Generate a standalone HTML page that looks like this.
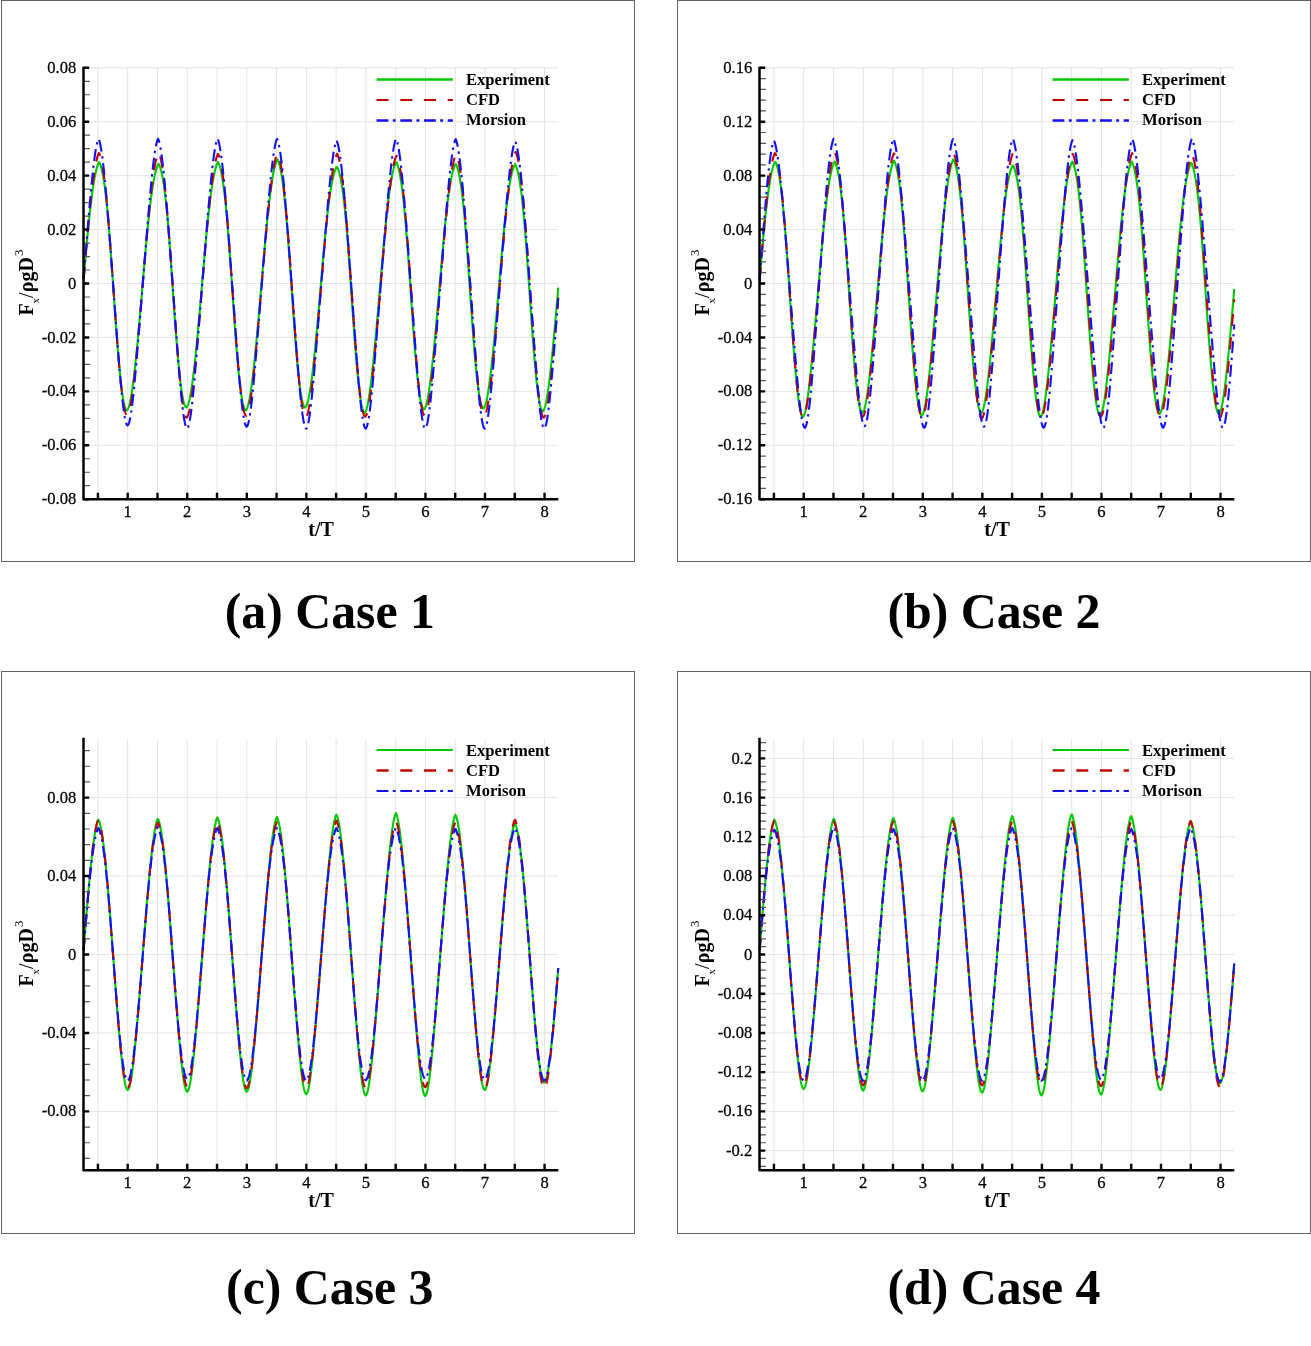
<!DOCTYPE html><html><head><meta charset="utf-8"><style>html,body{margin:0;padding:0;background:#fff;overflow:hidden;width:1311px;height:1346px}svg{display:block;will-change:transform}</style></head><body>
<svg width="1311" height="1346" viewBox="0 0 1311 1346">
<rect x="0" y="0" width="1311" height="1346" fill="#fff"/>
<g font-family="&quot;Liberation Serif&quot;, &quot;Times New Roman&quot;, serif">
<g><rect x="1.5" y="0.5" width="633" height="561" fill="none" stroke="#646464" stroke-width="1"/><path d="M97.93 67.8V499.2 M127.7 67.8V499.2 M157.47 67.8V499.2 M187.25 67.8V499.2 M217.02 67.8V499.2 M246.8 67.8V499.2 M276.57 67.8V499.2 M306.35 67.8V499.2 M336.12 67.8V499.2 M365.9 67.8V499.2 M395.67 67.8V499.2 M425.45 67.8V499.2 M455.22 67.8V499.2 M485 67.8V499.2 M514.77 67.8V499.2 M544.55 67.8V499.2 M83.5 445.27H558.3 M83.5 391.35H558.3 M83.5 337.43H558.3 M83.5 283.5H558.3 M83.5 229.57H558.3 M83.5 175.65H558.3 M83.5 121.73H558.3 M83.5 67.8H558.3" stroke="#e4e4e4" stroke-width="1" fill="none"/><path d="M83.63 279.33 L84.11 273.79 L84.58 268.27 L85.06 262.79 L85.53 257.37 L86.01 252.01 L86.48 246.72 L86.96 241.53 L87.43 236.44 L87.90 231.47 L88.38 226.62 L88.85 221.90 L89.33 217.32 L89.80 212.90 L90.28 208.63 L90.75 204.53 L91.23 200.60 L91.70 196.84 L92.18 193.26 L92.65 189.87 L93.13 186.65 L93.60 183.62 L94.07 180.78 L94.55 178.12 L95.02 175.64 L95.50 173.35 L95.97 171.25 L96.45 169.32 L96.92 167.58 L97.40 166.03 L97.87 164.65 L98.35 163.47 L98.82 162.46 L99.30 162.18 L99.77 163.13 L100.24 164.28 L100.72 165.65 L101.19 167.22 L101.67 169.01 L102.14 171.03 L102.62 173.28 L103.09 175.77 L103.57 178.51 L104.04 181.49 L104.52 184.74 L104.99 188.26 L105.47 192.04 L105.94 196.10 L106.41 200.44 L106.89 205.04 L107.36 209.92 L107.84 215.06 L108.31 220.45 L108.79 226.10 L109.26 231.97 L109.74 238.05 L110.21 244.32 L110.69 250.77 L111.16 257.35 L111.64 264.06 L112.11 270.85 L112.58 277.70 L113.06 284.58 L113.53 291.46 L114.01 298.31 L114.48 305.11 L114.96 311.85 L115.43 318.50 L115.91 325.04 L116.38 331.45 L116.86 337.72 L117.33 343.81 L117.81 349.73 L118.28 355.44 L118.75 360.93 L119.23 366.19 L119.70 371.20 L120.18 375.95 L120.65 380.42 L121.13 384.61 L121.60 388.51 L122.08 392.10 L122.55 395.38 L123.03 398.35 L123.50 400.99 L123.98 403.32 L124.45 405.31 L124.92 406.98 L125.40 408.32 L125.87 409.33 L126.35 410.02 L126.82 410.40 L127.30 410.05 L127.77 409.39 L128.25 408.43 L128.72 407.17 L129.20 405.62 L129.67 403.80 L130.15 401.71 L130.62 399.35 L131.09 396.75 L131.57 393.90 L132.04 390.83 L132.52 387.53 L132.99 384.02 L133.47 380.32 L133.94 376.42 L134.42 372.35 L134.89 368.12 L135.37 363.72 L135.84 359.18 L136.32 354.51 L136.79 349.71 L137.26 344.80 L137.74 339.78 L138.21 334.66 L138.69 329.47 L139.16 324.19 L139.64 318.85 L140.11 313.45 L140.59 308.01 L141.06 302.52 L141.54 297.01 L142.01 291.47 L142.49 285.92 L142.96 280.37 L143.43 274.83 L143.91 269.31 L144.38 263.83 L144.86 258.40 L145.33 253.03 L145.81 247.75 L146.28 242.56 L146.76 237.48 L147.23 232.52 L147.71 227.68 L148.18 222.99 L148.66 218.44 L149.13 214.04 L149.60 209.82 L150.08 205.76 L150.55 201.87 L151.03 198.17 L151.50 194.65 L151.98 191.31 L152.45 188.15 L152.93 185.18 L153.40 182.40 L153.88 179.80 L154.35 177.38 L154.83 175.15 L155.30 173.09 L155.77 171.21 L156.25 169.50 L156.72 167.97 L157.20 166.62 L157.67 165.43 L158.15 164.42 L158.62 163.82 L159.10 164.71 L159.57 165.80 L160.05 167.08 L160.52 168.55 L161.00 170.24 L161.47 172.14 L161.94 174.26 L162.42 176.60 L162.89 179.19 L163.37 182.03 L163.84 185.12 L164.32 188.48 L164.79 192.10 L165.27 196.01 L165.74 200.19 L166.22 204.65 L166.69 209.38 L167.16 214.40 L167.64 219.67 L168.11 225.21 L168.59 230.98 L169.06 236.98 L169.54 243.19 L170.01 249.58 L170.49 256.13 L170.96 262.80 L171.44 269.57 L171.91 276.41 L172.39 283.29 L172.86 290.17 L173.33 297.02 L173.81 303.83 L174.28 310.56 L174.76 317.20 L175.23 323.73 L175.71 330.11 L176.18 336.34 L176.66 342.38 L177.13 348.23 L177.61 353.87 L178.08 359.27 L178.56 364.44 L179.03 369.34 L179.50 373.98 L179.98 378.34 L180.45 382.41 L180.93 386.19 L181.40 389.67 L181.88 392.85 L182.35 395.72 L182.83 398.28 L183.30 400.53 L183.78 402.47 L184.25 404.09 L184.73 405.42 L185.20 406.43 L185.67 407.14 L186.15 407.55 L186.62 407.35 L187.10 406.78 L187.57 405.92 L188.05 404.79 L188.52 403.38 L189.00 401.71 L189.47 399.79 L189.95 397.61 L190.42 395.19 L190.90 392.53 L191.37 389.65 L191.84 386.54 L192.32 383.23 L192.79 379.71 L193.27 376.00 L193.74 372.10 L194.22 368.03 L194.69 363.80 L195.17 359.40 L195.64 354.86 L196.12 350.18 L196.59 345.38 L197.07 340.46 L197.54 335.43 L198.01 330.30 L198.49 325.08 L198.96 319.79 L199.44 314.43 L199.91 309.01 L200.39 303.55 L200.86 298.04 L201.34 292.51 L201.81 286.97 L202.29 281.41 L202.76 275.87 L203.24 270.34 L203.71 264.85 L204.18 259.40 L204.66 254.01 L205.13 248.70 L205.61 243.47 L206.08 238.34 L206.56 233.32 L207.03 228.42 L207.51 223.65 L207.98 219.02 L208.46 214.54 L208.93 210.22 L209.41 206.05 L209.88 202.06 L210.35 198.23 L210.83 194.59 L211.30 191.12 L211.78 187.84 L212.25 184.74 L212.73 181.82 L213.20 179.09 L213.68 176.55 L214.15 174.19 L214.63 172.01 L215.10 170.02 L215.58 168.22 L216.05 166.59 L216.52 165.15 L217.00 163.89 L217.47 162.82 L217.95 161.93 L218.42 162.75 L218.90 163.83 L219.37 165.11 L219.85 166.60 L220.32 168.31 L220.80 170.25 L221.27 172.41 L221.75 174.81 L222.22 177.45 L222.69 180.34 L223.17 183.49 L223.64 186.91 L224.12 190.59 L224.59 194.55 L225.07 198.78 L225.54 203.28 L226.02 208.06 L226.49 213.10 L226.97 218.40 L227.44 223.95 L227.92 229.73 L228.39 235.74 L228.86 241.94 L229.34 248.33 L229.81 254.86 L230.29 261.53 L230.76 268.29 L231.24 275.13 L231.71 282.00 L232.19 288.88 L232.66 295.74 L233.14 302.56 L233.61 309.33 L234.09 316.01 L234.56 322.60 L235.03 329.06 L235.51 335.38 L235.98 341.54 L236.46 347.53 L236.93 353.32 L237.41 358.89 L237.88 364.24 L238.36 369.34 L238.83 374.19 L239.31 378.77 L239.78 383.07 L240.26 387.08 L240.73 390.79 L241.20 394.19 L241.68 397.27 L242.15 400.04 L242.63 402.48 L243.10 404.60 L243.58 406.39 L244.05 407.85 L244.53 408.99 L245.00 409.80 L245.48 410.29 L245.95 410.22 L246.43 409.67 L246.90 408.82 L247.37 407.68 L247.85 406.24 L248.32 404.52 L248.80 402.52 L249.27 400.27 L249.75 397.76 L250.22 395.00 L250.70 392.01 L251.17 388.79 L251.65 385.36 L252.12 381.73 L252.60 377.91 L253.07 373.90 L253.54 369.73 L254.02 365.39 L254.49 360.90 L254.97 356.28 L255.44 351.53 L255.92 346.65 L256.39 341.67 L256.87 336.60 L257.34 331.43 L257.82 326.18 L258.29 320.86 L258.77 315.49 L259.24 310.06 L259.71 304.59 L260.19 299.08 L260.66 293.55 L261.14 288.01 L261.61 282.46 L262.09 276.91 L262.56 271.37 L263.04 265.87 L263.51 260.40 L263.99 254.99 L264.46 249.64 L264.94 244.36 L265.41 239.18 L265.88 234.09 L266.36 229.11 L266.83 224.25 L267.31 219.51 L267.78 214.92 L268.26 210.46 L268.73 206.16 L269.21 202.02 L269.68 198.04 L270.16 194.23 L270.63 190.59 L271.11 187.13 L271.58 183.85 L272.05 180.76 L272.53 177.85 L273.00 175.13 L273.48 172.60 L273.95 170.26 L274.43 168.12 L274.90 166.17 L275.38 164.41 L275.85 162.85 L276.33 161.50 L276.80 160.34 L277.28 159.39 L277.75 159.89 L278.22 160.97 L278.70 162.27 L279.17 163.81 L279.65 165.57 L280.12 167.57 L280.60 169.81 L281.07 172.30 L281.55 175.05 L282.02 178.05 L282.50 181.31 L282.97 184.83 L283.45 188.63 L283.92 192.69 L284.39 197.03 L284.87 201.62 L285.34 206.49 L285.82 211.60 L286.29 216.97 L286.77 222.57 L287.24 228.40 L287.72 234.43 L288.19 240.66 L288.67 247.05 L289.14 253.59 L289.62 260.25 L290.09 267.01 L290.56 273.84 L291.04 280.71 L291.51 287.59 L291.99 294.45 L292.46 301.28 L292.94 308.04 L293.41 314.72 L293.89 321.29 L294.36 327.73 L294.84 334.02 L295.31 340.13 L295.79 346.06 L296.26 351.78 L296.73 357.27 L297.21 362.53 L297.68 367.53 L298.16 372.27 L298.63 376.73 L299.11 380.92 L299.58 384.81 L300.06 388.40 L300.53 391.69 L301.01 394.68 L301.48 397.35 L301.96 399.72 L302.43 401.77 L302.90 403.52 L303.38 404.96 L303.85 406.08 L304.33 406.91 L304.80 407.43 L305.28 407.49 L305.75 407.03 L306.23 406.28 L306.70 405.25 L307.18 403.94 L307.65 402.37 L308.13 400.54 L308.60 398.46 L309.07 396.12 L309.55 393.56 L310.02 390.75 L310.50 387.73 L310.97 384.50 L311.45 381.05 L311.92 377.41 L312.40 373.59 L312.87 369.58 L313.35 365.41 L313.82 361.07 L314.30 356.58 L314.77 351.96 L315.24 347.20 L315.72 342.32 L316.19 337.33 L316.67 332.24 L317.14 327.05 L317.62 321.79 L318.09 316.45 L318.57 311.05 L319.04 305.60 L319.52 300.11 L319.99 294.59 L320.47 289.05 L320.94 283.50 L321.41 277.95 L321.89 272.42 L322.36 266.92 L322.84 261.46 L323.31 256.07 L323.79 250.77 L324.26 245.55 L324.74 240.45 L325.21 235.46 L325.69 230.61 L326.16 225.90 L326.64 221.35 L327.11 216.95 L327.58 212.73 L328.06 208.69 L328.53 204.82 L329.01 201.14 L329.48 197.65 L329.96 194.35 L330.43 191.24 L330.91 188.31 L331.38 185.58 L331.86 183.02 L332.33 180.65 L332.81 178.45 L333.28 176.43 L333.75 174.57 L334.23 172.89 L334.70 171.36 L335.18 169.99 L335.65 168.78 L336.13 167.73 L336.60 166.83 L337.08 166.97 L337.55 167.91 L338.03 169.02 L338.50 170.31 L338.98 171.78 L339.45 173.45 L339.92 175.31 L340.40 177.39 L340.87 179.69 L341.35 182.23 L341.82 185.01 L342.30 188.05 L342.77 191.35 L343.25 194.93 L343.72 198.80 L344.20 202.95 L344.67 207.38 L345.15 212.11 L345.62 217.12 L346.09 222.40 L346.57 227.96 L347.04 233.76 L347.52 239.79 L347.99 246.04 L348.47 252.46 L348.94 259.05 L349.42 265.76 L349.89 272.56 L350.37 279.41 L350.84 286.29 L351.32 293.17 L351.79 300.01 L352.26 306.81 L352.74 313.55 L353.21 320.21 L353.69 326.76 L354.16 333.19 L354.64 339.49 L355.11 345.63 L355.59 351.60 L356.06 357.37 L356.54 362.93 L357.01 368.27 L357.48 373.37 L357.96 378.21 L358.43 382.78 L358.91 387.06 L359.38 391.05 L359.86 394.73 L360.33 398.09 L360.81 401.12 L361.28 403.82 L361.76 406.19 L362.23 408.21 L362.71 409.88 L363.18 411.21 L363.65 412.20 L364.13 412.84 L364.60 413.04 L365.08 412.59 L365.55 411.82 L366.03 410.72 L366.50 409.32 L366.98 407.62 L367.45 405.62 L367.93 403.34 L368.40 400.80 L368.88 398.00 L369.35 394.95 L369.82 391.67 L370.30 388.18 L370.77 384.47 L371.25 380.57 L371.72 376.49 L372.20 372.25 L372.67 367.84 L373.15 363.29 L373.62 358.61 L374.10 353.80 L374.57 348.88 L375.05 343.86 L375.52 338.75 L375.99 333.55 L376.47 328.29 L376.94 322.95 L377.42 317.57 L377.89 312.14 L378.37 306.66 L378.84 301.16 L379.32 295.64 L379.79 290.09 L380.27 284.54 L380.74 278.99 L381.22 273.45 L381.69 267.94 L382.16 262.46 L382.64 257.04 L383.11 251.68 L383.59 246.40 L384.06 241.22 L384.54 236.14 L385.01 231.17 L385.49 226.32 L385.96 221.61 L386.44 217.05 L386.91 212.63 L387.39 208.38 L387.86 204.29 L388.33 200.37 L388.81 196.62 L389.28 193.05 L389.76 189.66 L390.23 186.46 L390.71 183.44 L391.18 180.61 L391.66 177.96 L392.13 175.50 L392.61 173.22 L393.08 171.12 L393.56 169.21 L394.03 167.48 L394.50 165.94 L394.98 164.58 L395.45 163.40 L395.93 162.41 L396.40 162.23 L396.88 163.19 L397.35 164.36 L397.83 165.74 L398.30 167.32 L398.78 169.13 L399.25 171.16 L399.73 173.43 L400.20 175.93 L400.67 178.68 L401.15 181.69 L401.62 184.95 L402.10 188.48 L402.57 192.28 L403.05 196.36 L403.52 200.71 L404.00 205.33 L404.47 210.22 L404.95 215.38 L405.42 220.79 L405.90 226.45 L406.37 232.33 L406.84 238.43 L407.32 244.71 L407.79 251.16 L408.27 257.76 L408.74 264.47 L409.22 271.27 L409.69 278.12 L410.17 285.00 L410.64 291.88 L411.12 298.72 L411.59 305.52 L412.07 312.25 L412.54 318.88 L413.01 325.40 L413.49 331.78 L413.96 338.01 L414.44 344.06 L414.91 349.93 L415.39 355.58 L415.86 361.02 L416.34 366.21 L416.81 371.15 L417.29 375.82 L417.76 380.22 L418.24 384.33 L418.71 388.15 L419.18 391.66 L419.66 394.86 L420.13 397.76 L420.61 400.33 L421.08 402.59 L421.56 404.52 L422.03 406.13 L422.51 407.43 L422.98 408.40 L423.46 409.06 L423.93 409.39 L424.41 409.03 L424.88 408.36 L425.35 407.40 L425.83 406.15 L426.30 404.62 L426.78 402.82 L427.25 400.75 L427.73 398.43 L428.20 395.85 L428.68 393.05 L429.15 390.01 L429.63 386.75 L430.10 383.29 L430.58 379.63 L431.05 375.77 L431.52 371.74 L432.00 367.54 L432.47 363.19 L432.95 358.68 L433.42 354.04 L433.90 349.27 L434.37 344.38 L434.85 339.38 L435.32 334.28 L435.80 329.10 L436.27 323.83 L436.75 318.50 L437.22 313.11 L437.69 307.67 L438.17 302.18 L438.64 296.67 L439.12 291.13 L439.59 285.59 L440.07 280.03 L440.54 274.49 L441.02 268.97 L441.49 263.49 L441.97 258.07 L442.44 252.71 L442.92 247.43 L443.39 242.25 L443.86 237.17 L444.34 232.22 L444.81 227.39 L445.29 222.70 L445.76 218.16 L446.24 213.78 L446.71 209.56 L447.19 205.52 L447.66 201.64 L448.14 197.95 L448.61 194.44 L449.09 191.11 L449.56 187.96 L450.03 185.01 L450.51 182.23 L450.98 179.65 L451.46 177.24 L451.93 175.02 L452.41 172.97 L452.88 171.10 L453.36 169.41 L453.83 167.89 L454.31 166.54 L454.78 165.37 L455.26 164.37 L455.73 163.87 L456.20 164.77 L456.68 165.87 L457.15 167.16 L457.63 168.65 L458.10 170.35 L458.58 172.26 L459.05 174.39 L459.53 176.76 L460.00 179.36 L460.48 182.21 L460.95 185.32 L461.43 188.69 L461.90 192.34 L462.37 196.25 L462.85 200.45 L463.32 204.93 L463.80 209.68 L464.27 214.71 L464.75 220.00 L465.22 225.55 L465.70 231.34 L466.17 237.36 L466.65 243.58 L467.12 249.98 L467.60 256.53 L468.07 263.21 L468.54 269.99 L469.02 276.83 L469.49 283.71 L469.97 290.59 L470.44 297.44 L470.92 304.25 L471.39 310.98 L471.87 317.62 L472.34 324.15 L472.82 330.54 L473.29 336.78 L473.77 342.84 L474.24 348.71 L474.71 354.37 L475.19 359.80 L475.66 365.00 L476.14 369.94 L476.61 374.61 L477.09 379.00 L477.56 383.12 L478.04 386.93 L478.51 390.45 L478.99 393.66 L479.46 396.56 L479.94 399.15 L480.41 401.42 L480.88 403.38 L481.36 405.02 L481.83 406.35 L482.31 407.36 L482.78 408.07 L483.26 408.47 L483.73 408.22 L484.21 407.62 L484.68 406.73 L485.16 405.56 L485.63 404.11 L486.11 402.39 L486.58 400.41 L487.05 398.17 L487.53 395.69 L488.00 392.98 L488.48 390.03 L488.95 386.86 L489.43 383.49 L489.90 379.91 L490.38 376.14 L490.85 372.19 L491.33 368.06 L491.80 363.77 L492.28 359.33 L492.75 354.75 L493.22 350.03 L493.70 345.19 L494.17 340.24 L494.65 335.18 L495.12 330.03 L495.60 324.79 L496.07 319.49 L496.55 314.11 L497.02 308.69 L497.50 303.21 L497.97 297.71 L498.45 292.17 L498.92 286.63 L499.39 281.08 L499.87 275.53 L500.34 270.01 L500.82 264.52 L501.29 259.08 L501.77 253.72 L502.24 248.43 L502.72 243.23 L503.19 238.14 L503.67 233.17 L504.14 228.33 L504.62 223.63 L505.09 219.08 L505.56 214.68 L506.04 210.45 L506.51 206.39 L506.99 202.51 L507.46 198.80 L507.94 195.28 L508.41 191.94 L508.89 188.79 L509.36 185.82 L509.84 183.04 L510.31 180.45 L510.79 178.03 L511.26 175.80 L511.73 173.74 L512.21 171.86 L512.68 170.16 L513.16 168.62 L513.63 167.26 L514.11 166.06 L514.58 165.04 L515.06 164.22 L515.53 165.08 L516.01 166.14 L516.48 167.38 L516.96 168.82 L517.43 170.45 L517.90 172.30 L518.38 174.37 L518.85 176.66 L519.33 179.19 L519.80 181.97 L520.28 185.00 L520.75 188.29 L521.23 191.85 L521.70 195.69 L522.18 199.81 L522.65 204.21 L523.13 208.88 L523.60 213.84 L524.07 219.06 L524.55 224.55 L525.02 230.28 L525.50 236.24 L525.97 242.41 L526.45 248.77 L526.92 255.29 L527.40 261.95 L527.87 268.71 L528.35 275.55 L528.82 282.42 L529.30 289.30 L529.77 296.16 L530.24 302.98 L530.72 309.75 L531.19 316.44 L531.67 323.02 L532.14 329.50 L532.62 335.83 L533.09 342.01 L533.57 348.01 L534.04 353.82 L534.52 359.43 L534.99 364.80 L535.47 369.94 L535.94 374.83 L536.41 379.44 L536.89 383.78 L537.36 387.82 L537.84 391.57 L538.31 395.00 L538.79 398.12 L539.26 400.91 L539.74 403.38 L540.21 405.52 L540.69 407.32 L541.16 408.79 L541.64 409.93 L542.11 410.73 L542.58 411.21 L543.06 411.09 L543.53 410.52 L544.01 409.63 L544.48 408.45 L544.96 406.96 L545.43 405.20 L545.91 403.15 L546.38 400.84 L546.86 398.26 L547.33 395.45 L547.81 392.39 L548.28 389.12 L548.75 385.63 L549.23 381.93 L549.70 378.05 L550.18 373.99 L550.65 369.76 L551.13 365.37 L551.60 360.84 L552.08 356.17 L552.55 351.38 L553.03 346.47 L553.50 341.46 L553.97 336.35 L554.45 331.16 L554.92 325.89 L555.40 320.56 L555.87 315.17 L556.35 309.73 L556.82 304.26 L557.30 298.75 L557.77 293.22 L558.25 287.67" stroke="#00c800" stroke-width="2.1" fill="none" stroke-linejoin="round"/><path d="M83.63 279.24 L84.11 273.59 L84.58 267.96 L85.06 262.35 L85.53 256.78 L86.01 251.27 L86.48 245.81 L86.96 240.42 L87.43 235.11 L87.90 229.88 L88.38 224.76 L88.85 219.74 L89.33 214.83 L89.80 210.06 L90.28 205.41 L90.75 200.91 L91.23 196.56 L91.70 192.36 L92.18 188.34 L92.65 184.48 L93.13 180.81 L93.60 177.32 L94.07 174.03 L94.55 170.93 L95.02 168.04 L95.50 165.37 L95.97 162.91 L96.45 160.68 L96.92 158.67 L97.40 156.89 L97.87 155.36 L98.35 154.06 L98.82 153.01 L99.30 153.30 L99.77 154.44 L100.24 155.84 L100.72 157.51 L101.19 159.44 L101.67 161.64 L102.14 164.11 L102.62 166.85 L103.09 169.86 L103.57 173.13 L104.04 176.68 L104.52 180.48 L104.99 184.54 L105.47 188.86 L105.94 193.42 L106.41 198.23 L106.89 203.26 L107.36 208.52 L107.84 213.99 L108.31 219.66 L108.79 225.52 L109.26 231.55 L109.74 237.73 L110.21 244.05 L110.69 250.49 L111.16 257.04 L111.64 263.66 L112.11 270.35 L112.58 277.08 L113.06 283.83 L113.53 290.58 L114.01 297.31 L114.48 304.01 L114.96 310.67 L115.43 317.27 L115.91 323.79 L116.38 330.21 L116.86 336.53 L117.33 342.72 L117.81 348.77 L118.28 354.65 L118.75 360.36 L119.23 365.88 L119.70 371.18 L120.18 376.26 L120.65 381.09 L121.13 385.65 L121.60 389.94 L122.08 393.94 L122.55 397.63 L123.03 401.00 L123.50 404.05 L123.98 406.76 L124.45 409.12 L124.92 411.14 L125.40 412.80 L125.87 414.10 L126.35 415.04 L126.82 415.63 L127.30 415.67 L127.77 415.13 L128.25 414.25 L128.72 413.03 L129.20 411.49 L129.67 409.63 L130.15 407.47 L130.62 405.01 L131.09 402.28 L131.57 399.28 L132.04 396.02 L132.52 392.53 L132.99 388.82 L133.47 384.89 L133.94 380.77 L134.42 376.47 L134.89 372.00 L135.37 367.38 L135.84 362.62 L136.32 357.73 L136.79 352.72 L137.26 347.61 L137.74 342.40 L138.21 337.11 L138.69 331.75 L139.16 326.32 L139.64 320.84 L140.11 315.31 L140.59 309.74 L141.06 304.13 L141.54 298.51 L142.01 292.86 L142.49 287.21 L142.96 281.55 L143.43 275.89 L143.91 270.25 L144.38 264.63 L144.86 259.04 L145.33 253.50 L145.81 248.01 L146.28 242.57 L146.76 237.22 L147.23 231.94 L147.71 226.75 L148.18 221.66 L148.66 216.69 L149.13 211.82 L149.60 207.09 L150.08 202.49 L150.55 198.04 L151.03 193.73 L151.50 189.59 L151.98 185.62 L152.45 181.82 L152.93 178.21 L153.40 174.79 L153.88 171.56 L154.35 168.55 L154.83 165.74 L155.30 163.15 L155.77 160.79 L156.25 158.65 L156.72 156.75 L157.20 155.09 L157.67 153.68 L158.15 152.51 L158.62 152.01 L159.10 153.06 L159.57 154.37 L160.05 155.95 L160.52 157.80 L161.00 159.93 L161.47 162.32 L161.94 165.00 L162.42 167.94 L162.89 171.16 L163.37 174.64 L163.84 178.39 L164.32 182.40 L164.79 186.67 L165.27 191.19 L165.74 195.94 L166.22 200.93 L166.69 206.15 L167.16 211.57 L167.64 217.20 L168.11 223.01 L168.59 229.00 L169.06 235.14 L169.54 241.43 L170.01 247.83 L170.49 254.35 L170.96 260.95 L171.44 267.62 L171.91 274.33 L172.39 281.08 L172.86 287.83 L173.33 294.57 L173.81 301.29 L174.28 307.98 L174.76 314.62 L175.23 321.19 L175.71 327.69 L176.18 334.09 L176.66 340.39 L177.13 346.56 L177.61 352.58 L178.08 358.45 L178.56 364.13 L179.03 369.62 L179.50 374.90 L179.98 379.94 L180.45 384.72 L180.93 389.24 L181.40 393.48 L181.88 397.41 L182.35 401.02 L182.83 404.31 L183.30 407.25 L183.78 409.84 L184.25 412.07 L184.73 413.94 L185.20 415.44 L185.67 416.57 L186.15 417.32 L186.62 417.69 L187.10 417.28 L187.57 416.51 L188.05 415.39 L188.52 413.93 L189.00 412.14 L189.47 410.03 L189.95 407.61 L190.42 404.90 L190.90 401.91 L191.37 398.66 L191.84 395.16 L192.32 391.43 L192.79 387.49 L193.27 383.34 L193.74 379.01 L194.22 374.52 L194.69 369.86 L195.17 365.07 L195.64 360.15 L196.12 355.11 L196.59 349.98 L197.07 344.75 L197.54 339.44 L198.01 334.07 L198.49 328.63 L198.96 323.14 L199.44 317.60 L199.91 312.03 L200.39 306.43 L200.86 300.81 L201.34 295.17 L201.81 289.51 L202.29 283.85 L202.76 278.20 L203.24 272.55 L203.71 266.92 L204.18 261.32 L204.66 255.77 L205.13 250.27 L205.61 244.84 L206.08 239.47 L206.56 234.19 L207.03 229.01 L207.51 223.93 L207.98 218.96 L208.46 214.11 L208.93 209.39 L209.41 204.81 L209.88 200.38 L210.35 196.11 L210.83 191.99 L211.30 188.05 L211.78 184.28 L212.25 180.69 L212.73 177.29 L213.20 174.09 L213.68 171.08 L214.15 168.29 L214.63 165.70 L215.10 163.32 L215.58 161.17 L216.05 159.24 L216.52 157.54 L217.00 156.07 L217.47 154.83 L217.95 153.84 L218.42 154.49 L218.90 155.66 L219.37 157.09 L219.85 158.77 L220.32 160.72 L220.80 162.93 L221.27 165.40 L221.75 168.14 L222.22 171.14 L222.69 174.41 L223.17 177.94 L223.64 181.74 L224.12 185.79 L224.59 190.09 L225.07 194.64 L225.54 199.44 L226.02 204.47 L226.49 209.72 L226.97 215.19 L227.44 220.86 L227.92 226.71 L228.39 232.75 L228.86 238.93 L229.34 245.26 L229.81 251.71 L230.29 258.26 L230.76 264.90 L231.24 271.59 L231.71 278.33 L232.19 285.08 L232.66 291.82 L233.14 298.55 L233.61 305.25 L234.09 311.90 L234.56 318.48 L235.03 324.98 L235.51 331.39 L235.98 337.68 L236.46 343.85 L236.93 349.87 L237.41 355.72 L237.88 361.40 L238.36 366.88 L238.83 372.14 L239.31 377.17 L239.78 381.95 L240.26 386.47 L240.73 390.70 L241.20 394.64 L241.68 398.28 L242.15 401.59 L242.63 404.58 L243.10 407.22 L243.58 409.52 L244.05 411.47 L244.53 413.07 L245.00 414.30 L245.48 415.18 L245.95 415.70 L246.43 415.60 L246.90 414.99 L247.37 414.05 L247.85 412.77 L248.32 411.17 L248.80 409.25 L249.27 407.03 L249.75 404.53 L250.22 401.74 L250.70 398.69 L251.17 395.40 L251.65 391.86 L252.12 388.11 L252.60 384.15 L253.07 379.99 L253.54 375.66 L254.02 371.16 L254.49 366.51 L254.97 361.72 L255.44 356.81 L255.92 351.78 L256.39 346.65 L256.87 341.43 L257.34 336.13 L257.82 330.75 L258.29 325.31 L258.77 319.82 L259.24 314.28 L259.71 308.70 L260.19 303.10 L260.66 297.47 L261.14 291.82 L261.61 286.16 L262.09 280.50 L262.56 274.85 L263.04 269.21 L263.51 263.60 L263.99 258.02 L264.46 252.50 L264.94 247.03 L265.41 241.63 L265.88 236.31 L266.36 231.07 L266.83 225.94 L267.31 220.91 L267.78 215.99 L268.26 211.20 L268.73 206.55 L269.21 202.04 L269.68 197.67 L270.16 193.47 L270.63 189.43 L271.11 185.56 L271.58 181.87 L272.05 178.37 L272.53 175.06 L273.00 171.94 L273.48 169.04 L273.95 166.34 L274.43 163.85 L274.90 161.59 L275.38 159.55 L275.85 157.74 L276.33 156.16 L276.80 154.82 L277.28 153.72 L277.75 153.58 L278.22 154.66 L278.70 155.99 L279.17 157.58 L279.65 159.44 L280.12 161.56 L280.60 163.95 L281.07 166.61 L281.55 169.53 L282.02 172.72 L282.50 176.17 L282.97 179.88 L283.45 183.86 L283.92 188.09 L284.39 192.57 L284.87 197.30 L285.34 202.26 L285.82 207.44 L286.29 212.85 L286.77 218.45 L287.24 224.25 L287.72 230.23 L288.19 236.37 L288.67 242.65 L289.14 249.06 L289.62 255.58 L290.09 262.18 L290.56 268.86 L291.04 275.58 L291.51 282.32 L291.99 289.08 L292.46 295.82 L292.94 302.53 L293.41 309.21 L293.89 315.84 L294.36 322.40 L294.84 328.88 L295.31 335.26 L295.79 341.54 L296.26 347.68 L296.73 353.68 L297.21 359.51 L297.68 365.16 L298.16 370.61 L298.63 375.85 L299.11 380.84 L299.58 385.58 L300.06 390.05 L300.53 394.23 L301.01 398.10 L301.48 401.65 L301.96 404.88 L302.43 407.75 L302.90 410.28 L303.38 412.45 L303.85 414.25 L304.33 415.68 L304.80 416.73 L305.28 417.42 L305.75 417.64 L306.23 417.17 L306.70 416.33 L307.18 415.15 L307.65 413.62 L308.13 411.77 L308.60 409.60 L309.07 407.13 L309.55 404.37 L310.02 401.33 L310.50 398.03 L310.97 394.49 L311.45 390.72 L311.92 386.74 L312.40 382.56 L312.87 378.19 L313.35 373.67 L313.82 368.99 L314.30 364.17 L314.77 359.23 L315.24 354.17 L315.72 349.02 L316.19 343.77 L316.67 338.45 L317.14 333.07 L317.62 327.62 L318.09 322.12 L318.57 316.58 L319.04 311.00 L319.52 305.39 L319.99 299.77 L320.47 294.12 L320.94 288.47 L321.41 282.81 L321.89 277.15 L322.36 271.51 L322.84 265.88 L323.31 260.29 L323.79 254.75 L324.26 249.26 L324.74 243.84 L325.21 238.49 L325.69 233.23 L326.16 228.06 L326.64 223.00 L327.11 218.05 L327.58 213.23 L328.06 208.54 L328.53 203.98 L329.01 199.58 L329.48 195.33 L329.96 191.25 L330.43 187.34 L330.91 183.60 L331.38 180.05 L331.86 176.68 L332.33 173.52 L332.81 170.55 L333.28 167.79 L333.75 165.24 L334.23 162.91 L334.70 160.80 L335.18 158.91 L335.65 157.25 L336.13 155.82 L336.60 154.63 L337.08 153.72 L337.55 154.68 L338.03 155.90 L338.50 157.38 L338.98 159.11 L339.45 161.11 L339.92 163.37 L340.40 165.89 L340.87 168.68 L341.35 171.73 L341.82 175.05 L342.30 178.63 L342.77 182.47 L343.25 186.56 L343.72 190.92 L344.20 195.51 L344.67 200.35 L345.15 205.42 L345.62 210.72 L346.09 216.22 L346.57 221.93 L347.04 227.82 L347.52 233.88 L347.99 240.09 L348.47 246.45 L348.94 252.92 L349.42 259.49 L349.89 266.13 L350.37 272.84 L350.84 279.57 L351.32 286.32 L351.79 293.07 L352.26 299.80 L352.74 306.49 L353.21 313.13 L353.69 319.71 L354.16 326.21 L354.64 332.62 L355.11 338.92 L355.59 345.09 L356.06 351.12 L356.54 356.98 L357.01 362.67 L357.48 368.16 L357.96 373.43 L358.43 378.47 L358.91 383.27 L359.38 387.79 L359.86 392.03 L360.33 395.98 L360.81 399.61 L361.28 402.92 L361.76 405.90 L362.23 408.53 L362.71 410.80 L363.18 412.72 L363.65 414.28 L364.13 415.47 L364.60 416.29 L365.08 416.75 L365.55 416.51 L366.03 415.83 L366.50 414.80 L366.98 413.44 L367.45 411.75 L367.93 409.74 L368.40 407.42 L368.88 404.82 L369.35 401.94 L369.82 398.79 L370.30 395.39 L370.77 391.76 L371.25 387.91 L371.72 383.86 L372.20 379.62 L372.67 375.20 L373.15 370.63 L373.62 365.91 L374.10 361.05 L374.57 356.08 L375.05 350.99 L375.52 345.81 L375.99 340.55 L376.47 335.21 L376.94 329.80 L377.42 324.33 L377.89 318.82 L378.37 313.27 L378.84 307.68 L379.32 302.06 L379.79 296.42 L380.27 290.77 L380.74 285.12 L381.22 279.46 L381.69 273.81 L382.16 268.17 L382.64 262.58 L383.11 257.02 L383.59 251.52 L384.06 246.09 L384.54 240.73 L385.01 235.46 L385.49 230.29 L385.96 225.23 L386.44 220.28 L386.91 215.47 L387.39 210.78 L387.86 206.24 L388.33 201.86 L388.81 197.63 L389.28 193.56 L389.76 189.67 L390.23 185.96 L390.71 182.43 L391.18 179.08 L391.66 175.93 L392.13 172.98 L392.61 170.22 L393.08 167.67 L393.56 165.33 L394.03 163.20 L394.50 161.29 L394.98 159.59 L395.45 158.11 L395.93 156.86 L396.40 155.84 L396.88 156.05 L397.35 157.14 L397.83 158.47 L398.30 160.05 L398.78 161.88 L399.25 163.96 L399.73 166.30 L400.20 168.89 L400.67 171.74 L401.15 174.84 L401.62 178.21 L402.10 181.84 L402.57 185.73 L403.05 189.87 L403.52 194.27 L404.00 198.91 L404.47 203.79 L404.95 208.91 L405.42 214.26 L405.90 219.81 L406.37 225.57 L406.84 231.52 L407.32 237.63 L407.79 243.90 L408.27 250.30 L408.74 256.81 L409.22 263.42 L409.69 270.10 L410.17 276.82 L410.64 283.57 L411.12 290.32 L411.59 297.06 L412.07 303.76 L412.54 310.42 L413.01 317.02 L413.49 323.54 L413.96 329.97 L414.44 336.29 L414.91 342.49 L415.39 348.54 L415.86 354.43 L416.34 360.15 L416.81 365.67 L417.29 370.99 L417.76 376.07 L418.24 380.91 L418.71 385.48 L419.18 389.78 L419.66 393.79 L420.13 397.50 L420.61 400.88 L421.08 403.94 L421.56 406.66 L422.03 409.04 L422.51 411.07 L422.98 412.74 L423.46 414.06 L423.93 415.01 L424.41 415.61 L424.88 415.68 L425.35 415.16 L425.83 414.29 L426.30 413.08 L426.78 411.55 L427.25 409.70 L427.73 407.55 L428.20 405.11 L428.68 402.38 L429.15 399.39 L429.63 396.15 L430.10 392.67 L430.58 388.96 L431.05 385.05 L431.52 380.93 L432.00 376.64 L432.47 372.18 L432.95 367.56 L433.42 362.80 L433.90 357.92 L434.37 352.91 L434.85 347.80 L435.32 342.60 L435.80 337.31 L436.27 331.95 L436.75 326.53 L437.22 321.05 L437.69 315.52 L438.17 309.95 L438.64 304.35 L439.12 298.72 L439.59 293.08 L440.07 287.42 L440.54 281.76 L441.02 276.11 L441.49 270.46 L441.97 264.85 L442.44 259.27 L442.92 253.73 L443.39 248.25 L443.86 242.84 L444.34 237.51 L444.81 232.27 L445.29 227.12 L445.76 222.08 L446.24 217.15 L446.71 212.35 L447.19 207.68 L447.66 203.16 L448.14 198.78 L448.61 194.57 L449.09 190.51 L449.56 186.63 L450.03 182.93 L450.51 179.41 L450.98 176.08 L451.46 172.95 L451.93 170.03 L452.41 167.30 L452.88 164.79 L453.36 162.50 L453.83 160.43 L454.31 158.58 L454.78 156.97 L455.26 155.58 L455.73 154.44 L456.20 153.88 L456.68 154.89 L457.15 156.16 L457.63 157.68 L458.10 159.46 L458.58 161.51 L459.05 163.81 L459.53 166.38 L460.00 169.22 L460.48 172.32 L460.95 175.69 L461.43 179.32 L461.90 183.20 L462.37 187.35 L462.85 191.75 L463.32 196.39 L463.80 201.27 L464.27 206.38 L464.75 211.72 L465.22 217.26 L465.70 223.00 L466.17 228.92 L466.65 235.02 L467.12 241.26 L467.60 247.63 L468.07 254.12 L468.54 260.71 L469.02 267.37 L469.49 274.08 L469.97 280.82 L470.44 287.57 L470.92 294.31 L471.39 301.03 L471.87 307.71 L472.34 314.34 L472.82 320.89 L473.29 327.36 L473.77 333.73 L474.24 339.98 L474.71 346.09 L475.19 352.05 L475.66 357.84 L476.14 363.45 L476.61 368.85 L477.09 374.03 L477.56 378.97 L478.04 383.65 L478.51 388.06 L478.99 392.19 L479.46 396.02 L479.94 399.54 L480.41 402.73 L480.88 405.60 L481.36 408.11 L481.83 410.29 L482.31 412.10 L482.78 413.56 L483.26 414.67 L483.73 415.41 L484.21 415.80 L484.68 415.41 L485.16 414.68 L485.63 413.61 L486.11 412.21 L486.58 410.49 L487.05 408.47 L487.53 406.14 L488.00 403.53 L488.48 400.64 L488.95 397.50 L489.43 394.12 L489.90 390.50 L490.38 386.67 L490.85 382.63 L491.33 378.41 L491.80 374.01 L492.28 369.46 L492.75 364.76 L493.22 359.92 L493.70 354.96 L494.17 349.90 L494.65 344.73 L495.12 339.48 L495.60 334.15 L496.07 328.75 L496.55 323.29 L497.02 317.78 L497.50 312.22 L497.97 306.63 L498.45 301.02 L498.92 295.38 L499.39 289.73 L499.87 284.07 L500.34 278.41 L500.82 272.76 L501.29 267.13 L501.77 261.53 L502.24 255.96 L502.72 250.44 L503.19 244.99 L503.67 239.59 L504.14 234.28 L504.62 229.05 L505.09 223.92 L505.56 218.89 L506.04 213.97 L506.51 209.18 L506.99 204.52 L507.46 200.00 L507.94 195.63 L508.41 191.42 L508.89 187.37 L509.36 183.49 L509.84 179.80 L510.31 176.29 L510.79 172.98 L511.26 169.86 L511.73 166.96 L512.21 164.28 L512.68 161.81 L513.16 159.57 L513.63 157.57 L514.11 155.80 L514.58 154.28 L515.06 153.00 L515.53 151.98 L516.01 152.56 L516.48 153.75 L516.96 155.21 L517.43 156.94 L517.90 158.95 L518.38 161.22 L518.85 163.77 L519.33 166.60 L519.80 169.69 L520.28 173.06 L520.75 176.69 L521.23 180.59 L521.70 184.74 L522.18 189.14 L522.65 193.80 L523.13 198.68 L523.60 203.80 L524.07 209.13 L524.55 214.67 L525.02 220.40 L525.50 226.31 L525.97 232.39 L526.45 238.61 L526.92 244.97 L527.40 251.44 L527.87 258.00 L528.35 264.64 L528.82 271.34 L529.30 278.07 L529.77 284.82 L530.24 291.57 L530.72 298.30 L531.19 305.01 L531.67 311.67 L532.14 318.27 L532.62 324.80 L533.09 331.25 L533.57 337.60 L534.04 343.82 L534.52 349.92 L534.99 355.85 L535.47 361.62 L535.94 367.20 L536.41 372.57 L536.89 377.72 L537.36 382.62 L537.84 387.26 L538.31 391.63 L538.79 395.69 L539.26 399.45 L539.74 402.88 L540.21 405.98 L540.69 408.73 L541.16 411.12 L541.64 413.16 L542.11 414.82 L542.58 416.11 L543.06 417.03 L543.53 417.58 L544.01 417.51 L544.48 416.90 L544.96 415.93 L545.43 414.62 L545.91 412.98 L546.38 411.01 L546.86 408.72 L547.33 406.14 L547.81 403.28 L548.28 400.14 L548.75 396.75 L549.23 393.12 L549.70 389.27 L550.18 385.21 L550.65 380.96 L551.13 376.54 L551.60 371.95 L552.08 367.22 L552.55 362.36 L553.03 357.37 L553.50 352.28 L553.97 347.09 L554.45 341.82 L554.92 336.47 L555.40 331.06 L555.87 325.59 L556.35 320.07 L556.82 314.52 L557.30 308.93 L557.77 303.32 L558.25 297.68" stroke="#c00000" stroke-width="2.1" fill="none" stroke-linejoin="round" stroke-dasharray="12 11.7"/><path d="M83.63 279.01 L84.11 273.04 L84.58 267.08 L85.06 261.13 L85.53 255.20 L86.01 249.29 L86.48 243.40 L86.96 237.56 L87.43 231.75 L87.90 226.00 L88.38 220.31 L88.85 214.69 L89.33 209.15 L89.80 203.71 L90.28 198.37 L90.75 193.16 L91.23 188.08 L91.70 183.16 L92.18 178.40 L92.65 173.83 L93.13 169.46 L93.60 165.30 L94.07 161.38 L94.55 157.71 L95.02 154.31 L95.50 151.18 L95.97 148.35 L96.45 145.82 L96.92 143.61 L97.40 141.72 L97.87 140.16 L98.35 138.95 L98.82 139.27 L99.30 140.60 L99.77 142.27 L100.24 144.28 L100.72 146.64 L101.19 149.33 L101.67 152.34 L102.14 155.66 L102.62 159.29 L103.09 163.20 L103.57 167.39 L104.04 171.84 L104.52 176.53 L104.99 181.44 L105.47 186.56 L105.94 191.87 L106.41 197.34 L106.89 202.98 L107.36 208.75 L107.84 214.64 L108.31 220.63 L108.79 226.72 L109.26 232.89 L109.74 239.12 L110.21 245.41 L110.69 251.75 L111.16 258.12 L111.64 264.52 L112.11 270.94 L112.58 277.37 L113.06 283.81 L113.53 290.25 L114.01 296.69 L114.48 303.11 L114.96 309.52 L115.43 315.92 L115.91 322.28 L116.38 328.61 L116.86 334.89 L117.33 341.11 L117.81 347.27 L118.28 353.33 L118.75 359.30 L119.23 365.14 L119.70 370.84 L120.18 376.38 L120.65 381.74 L121.13 386.88 L121.60 391.80 L122.08 396.47 L122.55 400.86 L123.03 404.95 L123.50 408.72 L123.98 412.15 L124.45 415.23 L124.92 417.93 L125.40 420.24 L125.87 422.15 L126.35 423.66 L126.82 424.74 L127.30 425.41 L127.77 425.46 L128.25 424.83 L128.72 423.80 L129.20 422.36 L129.67 420.53 L130.15 418.32 L130.62 415.74 L131.09 412.81 L131.57 409.55 L132.04 405.98 L132.52 402.12 L132.99 397.99 L133.47 393.60 L133.94 389.00 L134.42 384.18 L134.89 379.19 L135.37 374.03 L135.84 368.73 L136.32 363.30 L136.79 357.77 L137.26 352.14 L137.74 346.44 L138.21 340.68 L138.69 334.86 L139.16 329.00 L139.64 323.11 L140.11 317.19 L140.59 311.26 L141.06 305.31 L141.54 299.35 L142.01 293.38 L142.49 287.41 L142.96 281.44 L143.43 275.47 L143.91 269.51 L144.38 263.55 L144.86 257.61 L145.33 251.69 L145.81 245.80 L146.28 239.94 L146.76 234.11 L147.23 228.34 L147.71 222.62 L148.18 216.97 L148.66 211.40 L149.13 205.91 L149.60 200.53 L150.08 195.27 L150.55 190.13 L151.03 185.14 L151.50 180.32 L151.98 175.67 L152.45 171.21 L152.93 166.97 L153.40 162.95 L153.88 159.18 L154.35 155.66 L154.83 152.42 L155.30 149.46 L155.77 146.81 L156.25 144.47 L156.72 142.45 L157.20 140.76 L157.67 139.40 L158.15 138.83 L158.62 140.02 L159.10 141.55 L159.57 143.42 L160.05 145.64 L160.52 148.19 L161.00 151.07 L161.47 154.27 L161.94 157.78 L162.42 161.57 L162.89 165.65 L163.37 170.00 L163.84 174.59 L164.32 179.41 L164.79 184.45 L165.27 189.68 L165.74 195.09 L166.22 200.66 L166.69 206.38 L167.16 212.22 L167.64 218.18 L168.11 224.23 L168.59 230.37 L169.06 236.58 L169.54 242.85 L170.01 249.16 L170.49 255.52 L170.96 261.91 L171.44 268.32 L171.91 274.75 L172.39 281.19 L172.86 287.63 L173.33 294.07 L173.81 300.50 L174.28 306.93 L174.76 313.36 L175.23 319.76 L175.71 326.15 L176.18 332.51 L176.66 338.83 L177.13 345.11 L177.61 351.31 L178.08 357.44 L178.56 363.47 L179.03 369.38 L179.50 375.14 L179.98 380.74 L180.45 386.15 L180.93 391.35 L181.40 396.30 L181.88 400.99 L182.35 405.38 L182.83 409.46 L183.30 413.19 L183.78 416.57 L184.25 419.56 L184.73 422.15 L185.20 424.33 L185.67 426.08 L186.15 427.40 L186.62 428.27 L187.10 428.69 L187.57 428.22 L188.05 427.31 L188.52 425.98 L189.00 424.23 L189.47 422.07 L189.95 419.52 L190.42 416.60 L190.90 413.32 L191.37 409.72 L191.84 405.81 L192.32 401.61 L192.79 397.15 L193.27 392.46 L193.74 387.56 L194.22 382.47 L194.69 377.21 L195.17 371.81 L195.64 366.29 L196.12 360.67 L196.59 354.96 L197.07 349.18 L197.54 343.34 L198.01 337.47 L198.49 331.56 L198.96 325.63 L199.44 319.68 L199.91 313.72 L200.39 307.76 L200.86 301.79 L201.34 295.82 L201.81 289.85 L202.29 283.87 L202.76 277.90 L203.24 271.94 L203.71 265.98 L204.18 260.03 L204.66 254.10 L205.13 248.20 L205.61 242.32 L206.08 236.48 L206.56 230.69 L207.03 224.94 L207.51 219.27 L207.98 213.66 L208.46 208.14 L208.93 202.71 L209.41 197.40 L209.88 192.21 L210.35 187.16 L210.83 182.26 L211.30 177.54 L211.78 173.00 L212.25 168.67 L212.73 164.56 L213.20 160.68 L213.68 157.06 L214.15 153.71 L214.63 150.63 L215.10 147.86 L215.58 145.38 L216.05 143.23 L216.52 141.41 L217.00 139.91 L217.47 138.76 L217.95 139.49 L218.42 140.88 L218.90 142.62 L219.37 144.69 L219.85 147.11 L220.32 149.86 L220.80 152.93 L221.27 156.31 L221.75 159.99 L222.22 163.96 L222.69 168.20 L223.17 172.69 L223.64 177.42 L224.12 182.37 L224.59 187.53 L225.07 192.87 L225.54 198.37 L226.02 204.03 L226.49 209.83 L226.97 215.74 L227.44 221.75 L227.92 227.86 L228.39 234.04 L228.86 240.28 L229.34 246.58 L229.81 252.93 L230.29 259.30 L230.76 265.71 L231.24 272.13 L231.71 278.56 L232.19 285.00 L232.66 291.44 L233.14 297.88 L233.61 304.31 L234.09 310.72 L234.56 317.12 L235.03 323.49 L235.51 329.83 L235.98 336.13 L236.46 342.37 L236.93 348.55 L237.41 354.64 L237.88 360.63 L238.36 366.51 L238.83 372.24 L239.31 377.81 L239.78 383.20 L240.26 388.37 L240.73 393.32 L241.20 398.00 L241.68 402.41 L242.15 406.51 L242.63 410.28 L243.10 413.71 L243.58 416.77 L244.05 419.45 L244.53 421.73 L245.00 423.61 L245.48 425.06 L245.95 426.09 L246.43 426.69 L246.90 426.57 L247.37 425.86 L247.85 424.73 L248.32 423.19 L248.80 421.25 L249.27 418.93 L249.75 416.23 L250.22 413.19 L250.70 409.81 L251.17 406.12 L251.65 402.14 L252.12 397.89 L252.60 393.40 L253.07 388.69 L253.54 383.77 L254.02 378.68 L254.49 373.43 L254.97 368.05 L255.44 362.55 L255.92 356.95 L256.39 351.27 L256.87 345.51 L257.34 339.71 L257.82 333.85 L258.29 327.97 L258.77 322.05 L259.24 316.12 L259.71 310.17 L260.19 304.21 L260.66 298.25 L261.14 292.28 L261.61 286.31 L262.09 280.34 L262.56 274.37 L263.04 268.40 L263.51 262.45 L263.99 256.51 L264.46 250.60 L264.94 244.71 L265.41 238.86 L265.88 233.04 L266.36 227.28 L266.83 221.57 L267.31 215.93 L267.78 210.38 L268.26 204.91 L268.73 199.55 L269.21 194.31 L269.68 189.20 L270.16 184.24 L270.63 179.44 L271.11 174.83 L271.58 170.41 L272.05 166.21 L272.53 162.23 L273.00 158.51 L273.48 155.04 L273.95 151.85 L274.43 148.95 L274.90 146.35 L275.38 144.07 L275.85 142.11 L276.33 140.48 L276.80 139.19 L277.28 139.03 L277.75 140.27 L278.22 141.87 L278.70 143.81 L279.17 146.08 L279.65 148.70 L280.12 151.64 L280.60 154.89 L281.07 158.46 L281.55 162.31 L282.02 166.44 L282.50 170.83 L282.97 175.46 L283.45 180.33 L283.92 185.40 L284.39 190.67 L284.87 196.11 L285.34 201.71 L285.82 207.45 L286.29 213.31 L286.77 219.29 L287.24 225.36 L287.72 231.51 L288.19 237.73 L288.67 244.01 L289.14 250.34 L289.62 256.70 L290.09 263.09 L290.56 269.51 L291.04 275.94 L291.51 282.38 L291.99 288.82 L292.46 295.26 L292.94 301.69 L293.41 308.12 L293.89 314.54 L294.36 320.95 L294.84 327.33 L295.31 333.68 L295.79 340.00 L296.26 346.26 L296.73 352.45 L297.21 358.56 L297.68 364.57 L298.16 370.45 L298.63 376.19 L299.11 381.76 L299.58 387.13 L300.06 392.28 L300.53 397.19 L301.01 401.82 L301.48 406.16 L301.96 410.17 L302.43 413.84 L302.90 417.15 L303.38 420.07 L303.85 422.58 L304.33 424.68 L304.80 426.36 L305.28 427.59 L305.75 428.39 L306.23 428.64 L306.70 428.09 L307.18 427.10 L307.65 425.69 L308.13 423.86 L308.60 421.62 L309.07 419.00 L309.55 416.02 L310.02 412.68 L310.50 409.02 L310.97 405.05 L311.45 400.81 L311.92 396.30 L312.40 391.57 L312.87 386.63 L313.35 381.51 L313.82 376.22 L314.30 370.80 L314.77 365.26 L315.24 359.62 L315.72 353.89 L316.19 348.10 L316.67 342.26 L317.14 336.38 L317.62 330.47 L318.09 324.53 L318.57 318.58 L319.04 312.62 L319.52 306.66 L319.99 300.69 L320.47 294.71 L320.94 288.74 L321.41 282.77 L321.89 276.80 L322.36 270.83 L322.84 264.88 L323.31 258.95 L323.79 253.03 L324.26 247.15 L324.74 241.31 L325.21 235.51 L325.69 229.76 L326.16 224.08 L326.64 218.47 L327.11 212.94 L327.58 207.50 L328.06 202.18 L328.53 196.97 L329.01 191.90 L329.48 186.97 L329.96 182.21 L330.43 177.62 L330.91 173.23 L331.38 169.04 L331.86 165.07 L332.33 161.34 L332.81 157.86 L333.28 154.65 L333.75 151.71 L334.23 149.06 L334.70 146.72 L335.18 144.68 L335.65 142.96 L336.13 141.56 L336.60 140.52 L337.08 141.60 L337.55 143.02 L338.03 144.78 L338.50 146.87 L338.98 149.28 L339.45 152.01 L339.92 155.05 L340.40 158.40 L340.87 162.03 L341.35 165.94 L341.82 170.12 L342.30 174.55 L342.77 179.22 L343.25 184.10 L343.72 189.18 L344.20 194.46 L344.67 199.90 L345.15 205.50 L345.62 211.24 L346.09 217.10 L346.57 223.07 L347.04 229.14 L347.52 235.29 L347.99 241.51 L348.47 247.79 L348.94 254.13 L349.42 260.50 L349.89 266.90 L350.37 273.32 L350.84 279.75 L351.32 286.19 L351.79 292.63 L352.26 299.07 L352.74 305.50 L353.21 311.93 L353.69 318.34 L354.16 324.73 L354.64 331.10 L355.11 337.43 L355.59 343.71 L356.06 349.94 L356.54 356.08 L357.01 362.14 L357.48 368.07 L357.96 373.87 L358.43 379.51 L358.91 384.97 L359.38 390.21 L359.86 395.22 L360.33 399.97 L360.81 404.43 L361.28 408.58 L361.76 412.39 L362.23 415.85 L362.71 418.93 L363.18 421.61 L363.65 423.88 L364.13 425.73 L364.60 427.14 L365.08 428.12 L365.55 428.65 L366.03 428.36 L366.50 427.55 L366.98 426.31 L367.45 424.65 L367.93 422.58 L368.40 420.12 L368.88 417.28 L369.35 414.08 L369.82 410.55 L370.30 406.70 L370.77 402.57 L371.25 398.17 L371.72 393.53 L372.20 388.67 L372.67 383.62 L373.15 378.39 L373.62 373.02 L374.10 367.53 L374.57 361.93 L375.05 356.23 L375.52 350.47 L375.99 344.65 L376.47 338.78 L376.94 332.88 L377.42 326.95 L377.89 321.01 L378.37 315.05 L378.84 309.09 L379.32 303.12 L379.79 297.15 L380.27 291.18 L380.74 285.20 L381.22 279.23 L381.69 273.26 L382.16 267.30 L382.64 261.35 L383.11 255.42 L383.59 249.51 L384.06 243.63 L384.54 237.78 L385.01 231.97 L385.49 226.22 L385.96 220.52 L386.44 214.90 L386.91 209.36 L387.39 203.91 L387.86 198.57 L388.33 193.35 L388.81 188.27 L389.28 183.34 L389.76 178.58 L390.23 174.00 L390.71 169.62 L391.18 165.46 L391.66 161.53 L392.13 157.85 L392.61 154.43 L393.08 151.29 L393.56 148.45 L394.03 145.91 L394.50 143.68 L394.98 141.78 L395.45 140.22 L395.93 138.99 L396.40 139.23 L396.88 140.54 L397.35 142.20 L397.83 144.20 L398.30 146.54 L398.78 149.22 L399.25 152.22 L399.73 155.53 L400.20 159.15 L400.67 163.05 L401.15 167.23 L401.62 171.67 L402.10 176.35 L402.57 181.25 L403.05 186.36 L403.52 191.66 L404.00 197.13 L404.47 202.76 L404.95 208.52 L405.42 214.41 L405.90 220.40 L406.37 226.49 L406.84 232.66 L407.32 238.89 L407.79 245.18 L408.27 251.51 L408.74 257.88 L409.22 264.28 L409.69 270.70 L410.17 277.13 L410.64 283.57 L411.12 290.01 L411.59 296.45 L412.07 302.88 L412.54 309.31 L413.01 315.73 L413.49 322.13 L413.96 328.51 L414.44 334.85 L414.91 341.16 L415.39 347.41 L415.86 353.59 L416.34 359.68 L416.81 365.67 L417.29 371.53 L417.76 377.23 L418.24 382.77 L418.71 388.10 L419.18 393.21 L419.66 398.07 L420.13 402.65 L420.61 406.93 L421.08 410.88 L421.56 414.48 L422.03 417.72 L422.51 420.56 L422.98 423.00 L423.46 425.03 L423.93 426.62 L424.41 427.77 L424.88 428.49 L425.35 428.57 L425.83 427.94 L426.30 426.87 L426.78 425.38 L427.25 423.47 L427.73 421.17 L428.20 418.48 L428.68 415.43 L429.15 412.03 L429.63 408.31 L430.10 404.29 L430.58 399.99 L431.05 395.45 L431.52 390.67 L432.00 385.70 L432.47 380.54 L432.95 375.23 L433.42 369.78 L433.90 364.22 L434.37 358.56 L434.85 352.83 L435.32 347.03 L435.80 341.18 L436.27 335.29 L436.75 329.37 L437.22 323.43 L437.69 317.48 L438.17 311.52 L438.64 305.55 L439.12 299.58 L439.59 293.61 L440.07 287.64 L440.54 281.67 L441.02 275.70 L441.49 269.73 L441.97 263.78 L442.44 257.84 L442.92 251.92 L443.39 246.03 L443.86 240.17 L444.34 234.36 L444.81 228.59 L445.29 222.88 L445.76 217.24 L446.24 211.67 L446.71 206.20 L447.19 200.83 L447.66 195.58 L448.14 190.46 L448.61 185.49 L449.09 180.68 L449.56 176.04 L450.03 171.60 L450.51 167.37 L450.98 163.37 L451.46 159.60 L451.93 156.10 L452.41 152.86 L452.88 149.91 L453.36 147.26 L453.83 144.92 L454.31 142.90 L454.78 141.21 L455.26 139.84 L455.73 139.19 L456.20 140.36 L456.68 141.87 L457.15 143.72 L457.63 145.91 L458.10 148.44 L458.58 151.29 L459.05 154.46 L459.53 157.93 L460.00 161.70 L460.48 165.75 L460.95 170.06 L461.43 174.62 L461.90 179.41 L462.37 184.42 L462.85 189.62 L463.32 195.00 L463.80 200.55 L464.27 206.24 L464.75 212.06 L465.22 218.00 L465.70 224.04 L466.17 230.16 L466.65 236.36 L467.12 242.62 L467.60 248.93 L468.07 255.28 L468.54 261.67 L469.02 268.08 L469.49 274.51 L469.97 280.94 L470.44 287.38 L470.92 293.82 L471.39 300.26 L471.87 306.69 L472.34 313.11 L472.82 319.52 L473.29 325.91 L473.77 332.27 L474.24 338.60 L474.71 344.87 L475.19 351.08 L475.66 357.21 L476.14 363.24 L476.61 369.16 L477.09 374.93 L477.56 380.53 L478.04 385.95 L478.51 391.16 L478.99 396.12 L479.46 400.82 L479.94 405.22 L480.41 409.31 L480.88 413.06 L481.36 416.45 L481.83 419.45 L482.31 422.06 L482.78 424.25 L483.26 426.02 L483.73 427.36 L484.21 428.25 L484.68 428.70 L485.16 428.25 L485.63 427.36 L486.11 426.04 L486.58 424.30 L487.05 422.15 L487.53 419.62 L488.00 416.71 L488.48 413.45 L488.95 409.86 L489.43 405.96 L489.90 401.77 L490.38 397.33 L490.85 392.64 L491.33 387.75 L491.80 382.66 L492.28 377.41 L492.75 372.02 L493.22 366.50 L493.70 360.88 L494.17 355.17 L494.65 349.40 L495.12 343.57 L495.60 337.69 L496.07 331.78 L496.55 325.85 L497.02 319.91 L497.50 313.95 L497.97 307.98 L498.45 302.02 L498.92 296.04 L499.39 290.07 L499.87 284.10 L500.34 278.13 L500.82 272.16 L501.29 266.21 L501.77 260.27 L502.24 254.36 L502.72 248.47 L503.19 242.63 L503.67 236.83 L504.14 231.08 L504.62 225.40 L505.09 219.79 L505.56 214.27 L506.04 208.84 L506.51 203.52 L506.99 198.31 L507.46 193.24 L507.94 188.32 L508.41 183.55 L508.89 178.96 L509.36 174.56 L509.84 170.36 L510.31 166.38 L510.79 162.64 L511.26 159.14 L511.73 155.90 L512.21 152.93 L512.68 150.25 L513.16 147.85 L513.63 145.77 L514.11 143.99 L514.58 142.53 L515.06 141.39 L515.53 142.03 L516.01 143.36 L516.48 145.03 L516.96 147.02 L517.43 149.34 L517.90 151.97 L518.38 154.91 L518.85 158.16 L519.33 161.69 L519.80 165.51 L520.28 169.59 L520.75 173.92 L521.23 178.50 L521.70 183.29 L522.18 188.30 L522.65 193.49 L523.13 198.86 L523.60 204.40 L524.07 210.07 L524.55 215.88 L525.02 221.81 L525.50 227.84 L525.97 233.95 L526.45 240.15 L526.92 246.41 L527.40 252.72 L527.87 259.08 L528.35 265.47 L528.82 271.89 L529.30 278.32 L529.77 284.76 L530.24 291.20 L530.72 297.64 L531.19 304.07 L531.67 310.50 L532.14 316.91 L532.62 323.31 L533.09 329.68 L533.57 336.02 L534.04 342.32 L534.52 348.56 L534.99 354.72 L535.47 360.80 L535.94 366.76 L536.41 372.59 L536.89 378.27 L537.36 383.77 L537.84 389.06 L538.31 394.13 L538.79 398.94 L539.26 403.46 L539.74 407.68 L540.21 411.57 L540.69 415.11 L541.16 418.27 L541.64 421.05 L542.11 423.41 L542.58 425.35 L543.06 426.86 L543.53 427.94 L544.01 428.57 L544.48 428.48 L544.96 427.77 L545.43 426.63 L545.91 425.06 L546.38 423.08 L546.86 420.70 L547.33 417.94 L547.81 414.82 L548.28 411.36 L548.75 407.59 L549.23 403.51 L549.70 399.17 L550.18 394.58 L550.65 389.77 L551.13 384.76 L551.60 379.57 L552.08 374.23 L552.55 368.76 L553.03 363.18 L553.50 357.51 L553.97 351.76 L554.45 345.95 L554.92 340.09 L555.40 334.20 L555.87 328.27 L556.35 322.33 L556.82 316.38 L557.30 310.42 L557.77 304.45 L558.25 298.48" stroke="#1010fa" stroke-width="2.1" fill="none" stroke-linejoin="round" stroke-dasharray="12 4.7 2.4 4.6"/><path d="M83.5 485.72H90 M83.5 472.24H90 M83.5 458.76H90 M83.5 431.79H90 M83.5 418.31H90 M83.5 404.83H90 M83.5 377.87H90 M83.5 364.39H90 M83.5 350.91H90 M83.5 323.94H90 M83.5 310.46H90 M83.5 296.98H90 M83.5 270.02H90 M83.5 256.54H90 M83.5 243.06H90 M83.5 216.09H90 M83.5 202.61H90 M83.5 189.13H90 M83.5 162.17H90 M83.5 148.69H90 M83.5 135.21H90 M83.5 108.24H90 M83.5 94.76H90 M83.5 81.28H90" stroke="#5a5a5a" stroke-width="1.2" fill="none"/><path d="M83.5 499.2H89.2 M83.5 445.27H89.2 M83.5 391.35H89.2 M83.5 337.43H89.2 M83.5 283.5H89.2 M83.5 229.57H89.2 M83.5 175.65H89.2 M83.5 121.73H89.2 M83.5 67.8H89.2 M97.93 499.2V492.7 M127.7 499.2V492.7 M157.47 499.2V492.7 M187.25 499.2V492.7 M217.02 499.2V492.7 M246.8 499.2V492.7 M276.57 499.2V492.7 M306.35 499.2V492.7 M336.12 499.2V492.7 M365.9 499.2V492.7 M395.67 499.2V492.7 M425.45 499.2V492.7 M455.22 499.2V492.7 M485 499.2V492.7 M514.77 499.2V492.7 M544.55 499.2V492.7" stroke="#000" stroke-width="2.4" fill="none"/><path d="M83.5 66.8V499.2H558.3" stroke="#000" stroke-width="2.5" fill="none" stroke-linejoin="round"/><text transform="translate(76.3 72.9) scale(1 1.06)" font-size="16.6" text-anchor="end" stroke="#000" stroke-width="0.25">0.08</text><text transform="translate(76.3 126.83) scale(1 1.06)" font-size="16.6" text-anchor="end" stroke="#000" stroke-width="0.25">0.06</text><text transform="translate(76.3 180.75) scale(1 1.06)" font-size="16.6" text-anchor="end" stroke="#000" stroke-width="0.25">0.04</text><text transform="translate(76.3 234.67) scale(1 1.06)" font-size="16.6" text-anchor="end" stroke="#000" stroke-width="0.25">0.02</text><text transform="translate(76.3 288.6) scale(1 1.06)" font-size="16.6" text-anchor="end" stroke="#000" stroke-width="0.25">0</text><text transform="translate(76.3 342.53) scale(1 1.06)" font-size="16.6" text-anchor="end" stroke="#000" stroke-width="0.25">-0.02</text><text transform="translate(76.3 396.45) scale(1 1.06)" font-size="16.6" text-anchor="end" stroke="#000" stroke-width="0.25">-0.04</text><text transform="translate(76.3 450.38) scale(1 1.06)" font-size="16.6" text-anchor="end" stroke="#000" stroke-width="0.25">-0.06</text><text transform="translate(76.3 504.3) scale(1 1.06)" font-size="16.6" text-anchor="end" stroke="#000" stroke-width="0.25">-0.08</text><text transform="translate(127.7 516.6) scale(1 1.06)" font-size="16.6" text-anchor="middle" stroke="#000" stroke-width="0.25">1</text><text transform="translate(187.25 516.6) scale(1 1.06)" font-size="16.6" text-anchor="middle" stroke="#000" stroke-width="0.25">2</text><text transform="translate(246.8 516.6) scale(1 1.06)" font-size="16.6" text-anchor="middle" stroke="#000" stroke-width="0.25">3</text><text transform="translate(306.35 516.6) scale(1 1.06)" font-size="16.6" text-anchor="middle" stroke="#000" stroke-width="0.25">4</text><text transform="translate(365.9 516.6) scale(1 1.06)" font-size="16.6" text-anchor="middle" stroke="#000" stroke-width="0.25">5</text><text transform="translate(425.45 516.6) scale(1 1.06)" font-size="16.6" text-anchor="middle" stroke="#000" stroke-width="0.25">6</text><text transform="translate(485 516.6) scale(1 1.06)" font-size="16.6" text-anchor="middle" stroke="#000" stroke-width="0.25">7</text><text transform="translate(544.55 516.6) scale(1 1.06)" font-size="16.6" text-anchor="middle" stroke="#000" stroke-width="0.25">8</text><text x="321" y="535.8" font-size="20" font-weight="bold" text-anchor="middle">t/T</text><text transform="translate(32.8 315.6) rotate(-90)" font-size="20" font-weight="bold">F<tspan font-size="11" font-weight="normal" dy="6.3">x</tspan><tspan dy="-6.3" font-weight="normal">/</tspan>ρgD<tspan font-size="12.8" font-weight="normal" dx="1.1" dy="-9.6">3</tspan></text><path d="M376.6 79.5H452.9" stroke="#00c800" stroke-width="2.6"/><path d="M376.6 100H452.9" stroke="#c00000" stroke-width="2.0" stroke-dasharray="12 11.7"/><path d="M376.6 120.4H452.9" stroke="#1010fa" stroke-width="2.5" stroke-dasharray="11.8 4.4 2.9 4.6"/><text x="466" y="84.5" font-size="16.6" font-weight="bold">Experiment</text><text x="466" y="104.7" font-size="16.6" font-weight="bold">CFD</text><text x="466" y="124.9" font-size="16.6" font-weight="bold">Morsion</text><text x="329.8" y="627.8" font-size="49.8" font-weight="bold" text-anchor="middle">(a) Case 1</text></g>
<g><rect x="677.5" y="0.5" width="633" height="561" fill="none" stroke="#646464" stroke-width="1"/><path d="M773.92 67.8V499.2 M803.7 67.8V499.2 M833.48 67.8V499.2 M863.25 67.8V499.2 M893.02 67.8V499.2 M922.8 67.8V499.2 M952.58 67.8V499.2 M982.35 67.8V499.2 M1012.12 67.8V499.2 M1041.9 67.8V499.2 M1071.67 67.8V499.2 M1101.45 67.8V499.2 M1131.22 67.8V499.2 M1161 67.8V499.2 M1190.78 67.8V499.2 M1220.55 67.8V499.2 M759.5 445.27H1234.3 M759.5 391.35H1234.3 M759.5 337.43H1234.3 M759.5 283.5H1234.3 M759.5 229.57H1234.3 M759.5 175.65H1234.3 M759.5 121.73H1234.3 M759.5 67.8H1234.3" stroke="#e4e4e4" stroke-width="1" fill="none"/><path d="M759.63 279.29 L760.11 273.71 L760.58 268.14 L761.06 262.62 L761.53 257.15 L762.01 251.75 L762.48 246.43 L762.96 241.20 L763.43 236.08 L763.90 231.08 L764.38 226.20 L764.85 221.46 L765.33 216.86 L765.80 212.43 L766.28 208.15 L766.75 204.04 L767.23 200.10 L767.70 196.34 L768.18 192.77 L768.65 189.37 L769.13 186.17 L769.60 183.14 L770.07 180.31 L770.55 177.66 L771.02 175.20 L771.50 172.92 L771.97 170.82 L772.45 168.91 L772.92 167.18 L773.40 165.63 L773.87 164.26 L774.35 163.07 L774.82 162.07 L775.30 161.77 L775.77 162.72 L776.24 163.87 L776.72 165.23 L777.19 166.79 L777.67 168.57 L778.14 170.58 L778.62 172.81 L779.09 175.28 L779.57 178.00 L780.04 180.98 L780.52 184.21 L780.99 187.71 L781.47 191.49 L781.94 195.54 L782.41 199.87 L782.89 204.48 L783.36 209.36 L783.84 214.51 L784.31 219.92 L784.79 225.59 L785.26 231.48 L785.74 237.60 L786.21 243.91 L786.69 250.40 L787.16 257.04 L787.64 263.79 L788.11 270.64 L788.58 277.55 L789.06 284.48 L789.53 291.42 L790.01 298.33 L790.48 305.22 L790.96 312.05 L791.43 318.81 L791.91 325.48 L792.38 332.06 L792.86 338.51 L793.33 344.82 L793.81 350.98 L794.28 356.96 L794.75 362.75 L795.23 368.33 L795.70 373.68 L796.18 378.78 L796.65 383.62 L797.13 388.17 L797.60 392.44 L798.08 396.39 L798.55 400.01 L799.03 403.30 L799.50 406.25 L799.98 408.85 L800.45 411.08 L800.92 412.96 L801.40 414.46 L801.87 415.60 L802.35 416.38 L802.82 416.79 L803.30 416.43 L803.77 415.71 L804.25 414.64 L804.72 413.24 L805.20 411.52 L805.67 409.49 L806.15 407.16 L806.62 404.55 L807.09 401.67 L807.57 398.53 L808.04 395.15 L808.52 391.54 L808.99 387.72 L809.47 383.71 L809.94 379.51 L810.42 375.14 L810.89 370.61 L811.37 365.95 L811.84 361.15 L812.32 356.24 L812.79 351.22 L813.26 346.10 L813.74 340.90 L814.21 335.63 L814.69 330.29 L815.16 324.89 L815.64 319.44 L816.11 313.95 L816.59 308.43 L817.06 302.88 L817.54 297.30 L818.01 291.72 L818.49 286.12 L818.96 280.52 L819.43 274.93 L819.91 269.36 L820.38 263.83 L820.86 258.35 L821.33 252.93 L821.81 247.59 L822.28 242.34 L822.76 237.19 L823.23 232.16 L823.71 227.26 L824.18 222.48 L824.66 217.86 L825.13 213.38 L825.60 209.07 L826.08 204.92 L826.55 200.95 L827.03 197.15 L827.50 193.54 L827.98 190.10 L828.45 186.85 L828.93 183.79 L829.40 180.91 L829.88 178.22 L830.35 175.72 L830.83 173.40 L831.30 171.27 L831.77 169.31 L832.25 167.54 L832.72 165.95 L833.20 164.55 L833.67 163.32 L834.15 162.27 L834.62 161.59 L835.10 162.50 L835.57 163.60 L836.05 164.91 L836.52 166.43 L837.00 168.16 L837.47 170.12 L837.94 172.30 L838.42 174.72 L838.89 177.39 L839.37 180.30 L839.84 183.48 L840.32 186.92 L840.79 190.64 L841.27 194.63 L841.74 198.90 L842.22 203.44 L842.69 208.27 L843.16 213.36 L843.64 218.72 L844.11 224.32 L844.59 230.17 L845.06 236.24 L845.54 242.51 L846.01 248.97 L846.49 255.57 L846.96 262.30 L847.44 269.13 L847.91 276.03 L848.39 282.96 L848.86 289.90 L849.33 296.82 L849.81 303.70 L850.28 310.52 L850.76 317.26 L851.23 323.91 L851.71 330.43 L852.18 336.83 L852.66 343.06 L853.13 349.13 L853.61 355.00 L854.08 360.67 L854.56 366.11 L855.03 371.31 L855.50 376.25 L855.98 380.92 L856.45 385.32 L856.93 389.42 L857.40 393.21 L857.88 396.69 L858.35 399.85 L858.83 402.68 L859.30 405.18 L859.78 407.34 L860.25 409.15 L860.73 410.63 L861.20 411.77 L861.67 412.57 L862.15 413.03 L862.62 412.86 L863.10 412.25 L863.57 411.32 L864.05 410.09 L864.52 408.55 L865.00 406.72 L865.47 404.61 L865.95 402.22 L866.42 399.58 L866.90 396.69 L867.37 393.55 L867.84 390.20 L868.32 386.62 L868.79 382.85 L869.27 378.88 L869.74 374.74 L870.22 370.43 L870.69 365.96 L871.17 361.35 L871.64 356.61 L872.12 351.74 L872.59 346.76 L873.07 341.68 L873.54 336.51 L874.01 331.26 L874.49 325.93 L874.96 320.54 L875.44 315.10 L875.91 309.61 L876.39 304.08 L876.86 298.52 L877.34 292.94 L877.81 287.35 L878.29 281.75 L878.76 276.15 L879.24 270.58 L879.71 265.03 L880.18 259.54 L880.66 254.10 L881.13 248.73 L881.61 243.45 L882.08 238.27 L882.56 233.20 L883.03 228.24 L883.51 223.42 L883.98 218.73 L884.46 214.20 L884.93 209.81 L885.41 205.59 L885.88 201.54 L886.35 197.66 L886.83 193.96 L887.30 190.44 L887.78 187.11 L888.25 183.95 L888.73 180.99 L889.20 178.21 L889.68 175.62 L890.15 173.21 L890.63 171.00 L891.10 168.97 L891.58 167.12 L892.05 165.46 L892.52 163.99 L893.00 162.70 L893.47 161.60 L893.95 160.69 L894.42 161.39 L894.90 162.47 L895.37 163.75 L895.85 165.25 L896.32 166.97 L896.80 168.91 L897.27 171.08 L897.75 173.50 L898.22 176.16 L898.69 179.07 L899.17 182.24 L899.64 185.68 L900.12 189.39 L900.59 193.37 L901.07 197.63 L901.54 202.17 L902.02 206.97 L902.49 212.05 L902.97 217.39 L903.44 222.97 L903.92 228.80 L904.39 234.84 L904.86 241.09 L905.34 247.52 L905.81 254.10 L906.29 260.81 L906.76 267.63 L907.24 274.52 L907.71 281.44 L908.19 288.38 L908.66 295.31 L909.14 302.20 L909.61 309.05 L910.09 315.84 L910.56 322.54 L911.03 329.14 L911.51 335.63 L911.98 341.98 L912.46 348.17 L912.93 354.19 L913.41 360.03 L913.88 365.65 L914.36 371.05 L914.83 376.20 L915.31 381.10 L915.78 385.72 L916.26 390.05 L916.73 394.07 L917.20 397.79 L917.68 401.17 L918.15 404.22 L918.63 406.92 L919.10 409.27 L919.58 411.26 L920.05 412.90 L920.53 414.18 L921.00 415.09 L921.48 415.66 L921.95 415.64 L922.43 415.08 L922.90 414.18 L923.37 412.95 L923.85 411.40 L924.32 409.53 L924.80 407.38 L925.27 404.93 L925.75 402.21 L926.22 399.24 L926.70 396.01 L927.17 392.56 L927.65 388.88 L928.12 385.00 L928.60 380.94 L929.07 376.69 L929.54 372.28 L930.02 367.72 L930.49 363.03 L930.97 358.20 L931.44 353.26 L931.92 348.22 L932.39 343.09 L932.87 337.87 L933.34 332.58 L933.82 327.22 L934.29 321.81 L934.77 316.34 L935.24 310.84 L935.71 305.31 L936.19 299.75 L936.66 294.17 L937.14 288.57 L937.61 282.97 L938.09 277.38 L938.56 271.80 L939.04 266.24 L939.51 260.73 L939.99 255.27 L940.46 249.88 L940.94 244.56 L941.41 239.34 L941.88 234.21 L942.36 229.20 L942.83 224.32 L943.31 219.56 L943.78 214.95 L944.26 210.48 L944.73 206.17 L945.21 202.02 L945.68 198.04 L946.16 194.23 L946.63 190.60 L947.11 187.15 L947.58 183.88 L948.05 180.80 L948.53 177.91 L949.00 175.20 L949.48 172.69 L949.95 170.36 L950.43 168.23 L950.90 166.28 L951.38 164.53 L951.85 162.97 L952.33 161.61 L952.80 160.44 L953.28 159.47 L953.75 159.79 L954.22 160.84 L954.70 162.11 L955.17 163.60 L955.65 165.32 L956.12 167.27 L956.60 169.45 L957.07 171.88 L957.55 174.56 L958.02 177.50 L958.50 180.70 L958.97 184.16 L959.45 187.90 L959.92 191.90 L960.39 196.18 L960.87 200.73 L961.34 205.55 L961.82 210.63 L962.29 215.97 L962.77 221.56 L963.24 227.38 L963.72 233.41 L964.19 239.65 L964.67 246.06 L965.14 252.63 L965.62 259.32 L966.09 266.12 L966.56 273.00 L967.04 279.92 L967.51 286.86 L967.99 293.79 L968.46 300.69 L968.94 307.54 L969.41 314.32 L969.89 321.01 L970.36 327.59 L970.84 334.04 L971.31 340.35 L971.79 346.49 L972.26 352.45 L972.73 358.21 L973.21 363.75 L973.68 369.06 L974.16 374.12 L974.63 378.91 L975.11 383.43 L975.58 387.66 L976.06 391.59 L976.53 395.21 L977.01 398.51 L977.48 401.48 L977.96 404.12 L978.43 406.43 L978.90 408.40 L979.38 410.03 L979.85 411.31 L980.33 412.26 L980.80 412.87 L981.28 413.02 L981.75 412.56 L982.23 411.77 L982.70 410.67 L983.18 409.26 L983.65 407.56 L984.13 405.57 L984.60 403.30 L985.07 400.77 L985.55 397.98 L986.02 394.96 L986.50 391.70 L986.97 388.22 L987.45 384.53 L987.92 380.64 L988.40 376.58 L988.87 372.34 L989.35 367.94 L989.82 363.39 L990.30 358.70 L990.77 353.89 L991.24 348.96 L991.72 343.92 L992.19 338.79 L992.67 333.57 L993.14 328.28 L993.62 322.91 L994.09 317.49 L994.57 312.02 L995.04 306.51 L995.52 300.96 L995.99 295.39 L996.47 289.80 L996.94 284.20 L997.41 278.60 L997.89 273.02 L998.36 267.47 L998.84 261.96 L999.31 256.52 L999.79 251.15 L1000.26 245.88 L1000.74 240.71 L1001.21 235.66 L1001.69 230.75 L1002.16 225.97 L1002.64 221.35 L1003.11 216.89 L1003.58 212.60 L1004.06 208.49 L1004.53 204.56 L1005.01 200.81 L1005.48 197.25 L1005.96 193.88 L1006.43 190.70 L1006.91 187.71 L1007.38 184.91 L1007.86 182.30 L1008.33 179.87 L1008.81 177.61 L1009.28 175.54 L1009.75 173.63 L1010.23 171.90 L1010.70 170.32 L1011.18 168.91 L1011.65 167.66 L1012.13 166.57 L1012.60 165.64 L1013.08 165.56 L1013.55 166.49 L1014.03 167.59 L1014.50 168.87 L1014.98 170.34 L1015.45 172.01 L1015.92 173.87 L1016.40 175.95 L1016.87 178.26 L1017.35 180.80 L1017.82 183.59 L1018.30 186.63 L1018.77 189.95 L1019.25 193.54 L1019.72 197.41 L1020.20 201.57 L1020.67 206.02 L1021.15 210.76 L1021.62 215.78 L1022.09 221.08 L1022.57 226.66 L1023.04 232.48 L1023.52 238.54 L1023.99 244.81 L1024.47 251.27 L1024.94 257.90 L1025.42 264.65 L1025.89 271.49 L1026.37 278.40 L1026.84 285.34 L1027.32 292.27 L1027.79 299.19 L1028.26 306.06 L1028.74 312.88 L1029.21 319.64 L1029.69 326.30 L1030.16 332.86 L1030.64 339.30 L1031.11 345.59 L1031.59 351.73 L1032.06 357.69 L1032.54 363.45 L1033.01 369.01 L1033.48 374.32 L1033.96 379.39 L1034.43 384.20 L1034.91 388.72 L1035.38 392.94 L1035.86 396.85 L1036.33 400.44 L1036.81 403.69 L1037.28 406.59 L1037.76 409.14 L1038.23 411.33 L1038.71 413.16 L1039.18 414.62 L1039.65 415.72 L1040.13 416.45 L1040.60 416.78 L1041.08 416.36 L1041.55 415.60 L1042.03 414.49 L1042.50 413.05 L1042.98 411.29 L1043.45 409.22 L1043.93 406.86 L1044.40 404.21 L1044.88 401.30 L1045.35 398.13 L1045.82 394.72 L1046.30 391.08 L1046.77 387.24 L1047.25 383.20 L1047.72 378.98 L1048.20 374.59 L1048.67 370.04 L1049.15 365.36 L1049.62 360.55 L1050.10 355.62 L1050.57 350.59 L1051.05 345.46 L1051.52 340.25 L1051.99 334.97 L1052.47 329.62 L1052.94 324.22 L1053.42 318.77 L1053.89 313.27 L1054.37 307.74 L1054.84 302.19 L1055.32 296.61 L1055.79 291.03 L1056.27 285.43 L1056.74 279.83 L1057.22 274.24 L1057.69 268.67 L1058.16 263.15 L1058.64 257.67 L1059.11 252.26 L1059.59 246.94 L1060.06 241.70 L1060.54 236.57 L1061.01 231.55 L1061.49 226.66 L1061.96 221.91 L1062.44 217.30 L1062.91 212.84 L1063.39 208.55 L1063.86 204.42 L1064.33 200.47 L1064.81 196.70 L1065.28 193.10 L1065.76 189.69 L1066.23 186.46 L1066.71 183.42 L1067.18 180.57 L1067.66 177.90 L1068.13 175.42 L1068.61 173.13 L1069.08 171.01 L1069.56 169.09 L1070.03 167.34 L1070.50 165.77 L1070.98 164.38 L1071.45 163.18 L1071.93 162.16 L1072.40 161.69 L1072.88 162.62 L1073.35 163.75 L1073.83 165.09 L1074.30 166.63 L1074.78 168.39 L1075.25 170.37 L1075.73 172.59 L1076.20 175.04 L1076.67 177.73 L1077.15 180.68 L1077.62 183.89 L1078.10 187.37 L1078.57 191.11 L1079.05 195.14 L1079.52 199.44 L1080.00 204.02 L1080.47 208.88 L1080.95 214.01 L1081.42 219.39 L1081.90 225.03 L1082.37 230.91 L1082.84 237.01 L1083.32 243.30 L1083.79 249.77 L1084.27 256.40 L1084.74 263.14 L1085.22 269.98 L1085.69 276.89 L1086.17 283.82 L1086.64 290.76 L1087.12 297.67 L1087.59 304.55 L1088.07 311.38 L1088.54 318.14 L1089.01 324.81 L1089.49 331.38 L1089.96 337.82 L1090.44 344.12 L1090.91 350.25 L1091.39 356.21 L1091.86 361.98 L1092.34 367.53 L1092.81 372.84 L1093.29 377.91 L1093.76 382.71 L1094.24 387.23 L1094.71 391.46 L1095.18 395.38 L1095.66 398.98 L1096.13 402.25 L1096.61 405.18 L1097.08 407.76 L1097.56 409.99 L1098.03 411.86 L1098.51 413.38 L1098.98 414.53 L1099.46 415.33 L1099.93 415.77 L1100.41 415.49 L1100.88 414.81 L1101.35 413.79 L1101.83 412.45 L1102.30 410.79 L1102.78 408.83 L1103.25 406.57 L1103.73 404.03 L1104.20 401.22 L1104.68 398.16 L1105.15 394.85 L1105.63 391.32 L1106.10 387.58 L1106.58 383.63 L1107.05 379.50 L1107.52 375.20 L1108.00 370.74 L1108.47 366.13 L1108.95 361.39 L1109.42 356.52 L1109.90 351.55 L1110.37 346.47 L1110.85 341.31 L1111.32 336.06 L1111.80 330.75 L1112.27 325.37 L1112.75 319.94 L1113.22 314.46 L1113.69 308.95 L1114.17 303.40 L1114.64 297.84 L1115.12 292.25 L1115.59 286.66 L1116.07 281.06 L1116.54 275.46 L1117.02 269.89 L1117.49 264.36 L1117.97 258.87 L1118.44 253.44 L1118.92 248.10 L1119.39 242.84 L1119.86 237.68 L1120.34 232.64 L1120.81 227.72 L1121.29 222.93 L1121.76 218.29 L1122.24 213.81 L1122.71 209.48 L1123.19 205.31 L1123.66 201.32 L1124.14 197.51 L1124.61 193.87 L1125.09 190.42 L1125.56 187.16 L1126.03 184.07 L1126.51 181.18 L1126.98 178.47 L1127.46 175.95 L1127.93 173.61 L1128.41 171.46 L1128.88 169.49 L1129.36 167.70 L1129.83 166.10 L1130.31 164.67 L1130.78 163.43 L1131.26 162.37 L1131.73 161.51 L1132.20 162.40 L1132.68 163.49 L1133.15 164.78 L1133.63 166.28 L1134.10 167.99 L1134.58 169.92 L1135.05 172.08 L1135.53 174.48 L1136.00 177.12 L1136.48 180.01 L1136.95 183.16 L1137.43 186.58 L1137.90 190.27 L1138.37 194.23 L1138.85 198.48 L1139.32 203.00 L1139.80 207.79 L1140.27 212.86 L1140.75 218.19 L1141.22 223.78 L1141.70 229.60 L1142.17 235.65 L1142.65 241.91 L1143.12 248.34 L1143.60 254.93 L1144.07 261.65 L1144.54 268.48 L1145.02 275.37 L1145.49 282.30 L1145.97 289.24 L1146.44 296.16 L1146.92 303.04 L1147.39 309.88 L1147.87 316.64 L1148.34 323.30 L1148.82 329.86 L1149.29 336.29 L1149.77 342.57 L1150.24 348.68 L1150.71 354.61 L1151.19 360.33 L1151.66 365.84 L1152.14 371.11 L1152.61 376.13 L1153.09 380.89 L1153.56 385.36 L1154.04 389.55 L1154.51 393.42 L1154.99 396.99 L1155.46 400.23 L1155.94 403.14 L1156.41 405.71 L1156.88 407.94 L1157.36 409.82 L1157.83 411.36 L1158.31 412.55 L1158.78 413.40 L1159.26 413.90 L1159.73 413.80 L1160.21 413.21 L1160.68 412.30 L1161.16 411.07 L1161.63 409.53 L1162.11 407.70 L1162.58 405.58 L1163.05 403.18 L1163.53 400.52 L1164.00 397.60 L1164.48 394.44 L1164.95 391.06 L1165.43 387.45 L1165.90 383.65 L1166.38 379.65 L1166.85 375.48 L1167.33 371.14 L1167.80 366.65 L1168.28 362.01 L1168.75 357.24 L1169.22 352.36 L1169.70 347.36 L1170.17 342.27 L1170.65 337.08 L1171.12 331.82 L1171.60 326.48 L1172.07 321.09 L1172.55 315.64 L1173.02 310.14 L1173.50 304.61 L1173.97 299.05 L1174.45 293.47 L1174.92 287.88 L1175.39 282.28 L1175.87 276.69 L1176.34 271.11 L1176.82 265.57 L1177.29 260.07 L1177.77 254.64 L1178.24 249.29 L1178.72 244.02 L1179.19 238.86 L1179.67 233.81 L1180.14 228.89 L1180.62 224.11 L1181.09 219.48 L1181.56 215.00 L1182.04 210.68 L1182.51 206.53 L1182.99 202.56 L1183.46 198.76 L1183.94 195.15 L1184.41 191.73 L1184.89 188.49 L1185.36 185.44 L1185.84 182.57 L1186.31 179.89 L1186.79 177.40 L1187.26 175.08 L1187.73 172.95 L1188.21 171.00 L1188.68 169.23 L1189.16 167.63 L1189.63 166.20 L1190.11 164.95 L1190.58 163.87 L1191.06 162.96 L1191.53 163.48 L1192.01 164.50 L1192.48 165.72 L1192.96 167.13 L1193.43 168.75 L1193.90 170.58 L1194.38 172.63 L1194.85 174.91 L1195.33 177.43 L1195.80 180.19 L1196.28 183.21 L1196.75 186.49 L1197.23 190.04 L1197.70 193.86 L1198.18 197.97 L1198.65 202.36 L1199.13 207.03 L1199.60 211.98 L1200.07 217.20 L1200.55 222.68 L1201.02 228.42 L1201.50 234.39 L1201.97 240.57 L1202.45 246.95 L1202.92 253.49 L1203.40 260.18 L1203.87 266.98 L1204.35 273.86 L1204.82 280.78 L1205.30 287.72 L1205.77 294.64 L1206.24 301.54 L1206.72 308.38 L1207.19 315.16 L1207.67 321.85 L1208.14 328.43 L1208.62 334.89 L1209.09 341.20 L1209.57 347.35 L1210.04 353.32 L1210.52 359.10 L1210.99 364.65 L1211.47 369.98 L1211.94 375.05 L1212.41 379.87 L1212.89 384.41 L1213.36 388.65 L1213.84 392.60 L1214.31 396.23 L1214.79 399.55 L1215.26 402.53 L1215.74 405.18 L1216.21 407.48 L1216.69 409.44 L1217.16 411.06 L1217.64 412.32 L1218.11 413.24 L1218.58 413.82 L1219.06 413.88 L1219.53 413.37 L1220.01 412.52 L1220.48 411.36 L1220.96 409.90 L1221.43 408.13 L1221.91 406.07 L1222.38 403.73 L1222.86 401.12 L1223.33 398.26 L1223.81 395.15 L1224.28 391.82 L1224.75 388.26 L1225.23 384.50 L1225.70 380.55 L1226.18 376.41 L1226.65 372.11 L1227.13 367.65 L1227.60 363.04 L1228.08 358.30 L1228.55 353.44 L1229.03 348.46 L1229.50 343.39 L1229.97 338.22 L1230.45 332.98 L1230.92 327.66 L1231.40 322.27 L1231.87 316.84 L1232.35 311.35 L1232.82 305.83 L1233.30 300.27 L1233.77 294.70 L1234.25 289.11" stroke="#00c800" stroke-width="2.1" fill="none" stroke-linejoin="round"/><path d="M759.63 279.20 L760.11 273.51 L760.58 267.83 L761.06 262.18 L761.53 256.57 L762.01 251.02 L762.48 245.52 L762.96 240.10 L763.43 234.77 L763.90 229.52 L764.38 224.39 L764.85 219.36 L765.33 214.45 L765.80 209.68 L766.28 205.04 L766.75 200.56 L767.23 196.22 L767.70 192.05 L768.18 188.05 L768.65 184.23 L769.13 180.59 L769.60 177.14 L770.07 173.88 L770.55 170.83 L771.02 167.98 L771.50 165.34 L771.97 162.91 L772.45 160.71 L772.92 158.72 L773.40 156.97 L773.87 155.45 L774.35 154.16 L774.82 153.11 L775.30 153.39 L775.77 154.52 L776.24 155.91 L776.72 157.55 L777.19 159.46 L777.67 161.62 L778.14 164.06 L778.62 166.75 L779.09 169.72 L779.57 172.95 L780.04 176.45 L780.52 180.21 L780.99 184.23 L781.47 188.51 L781.94 193.03 L782.41 197.81 L782.89 202.82 L783.36 208.07 L783.84 213.53 L784.31 219.20 L784.79 225.06 L785.26 231.10 L785.74 237.31 L786.21 243.66 L786.69 250.14 L787.16 256.72 L787.64 263.40 L788.11 270.14 L788.58 276.92 L789.06 283.73 L789.53 290.53 L790.01 297.32 L790.48 304.08 L790.96 310.80 L791.43 317.46 L791.91 324.05 L792.38 330.54 L792.86 336.93 L793.33 343.20 L793.81 349.33 L794.28 355.30 L794.75 361.09 L795.23 366.69 L795.70 372.09 L796.18 377.25 L796.65 382.17 L797.13 386.82 L797.60 391.20 L798.08 395.28 L798.55 399.05 L799.03 402.51 L799.50 405.63 L799.98 408.40 L800.45 410.83 L800.92 412.89 L801.40 414.60 L801.87 415.94 L802.35 416.91 L802.82 417.52 L803.30 417.58 L803.77 417.03 L804.25 416.14 L804.72 414.90 L805.20 413.33 L805.67 411.44 L806.15 409.24 L806.62 406.74 L807.09 403.95 L807.57 400.89 L808.04 397.58 L808.52 394.02 L808.99 390.24 L809.47 386.25 L809.94 382.06 L810.42 377.69 L810.89 373.15 L811.37 368.45 L811.84 363.62 L812.32 358.66 L812.79 353.59 L813.26 348.41 L813.74 343.14 L814.21 337.79 L814.69 332.37 L815.16 326.88 L815.64 321.35 L816.11 315.76 L816.59 310.14 L817.06 304.49 L817.54 298.81 L818.01 293.12 L818.49 287.42 L818.96 281.71 L819.43 276.01 L819.91 270.32 L820.38 264.65 L820.86 259.02 L821.33 253.43 L821.81 247.90 L822.28 242.44 L822.76 237.05 L823.23 231.75 L823.71 226.54 L824.18 221.43 L824.66 216.44 L825.13 211.58 L825.60 206.84 L826.08 202.25 L826.55 197.80 L827.03 193.51 L827.50 189.39 L827.98 185.43 L828.45 181.66 L828.93 178.07 L829.40 174.67 L829.88 171.48 L830.35 168.48 L830.83 165.70 L831.30 163.13 L831.77 160.79 L832.25 158.67 L832.72 156.78 L833.20 155.13 L833.67 153.72 L834.15 152.55 L834.62 151.98 L835.10 153.01 L835.57 154.30 L836.05 155.85 L836.52 157.67 L837.00 159.76 L837.47 162.12 L837.94 164.75 L838.42 167.65 L838.89 170.82 L839.37 174.26 L839.84 177.96 L840.32 181.93 L840.79 186.15 L841.27 190.63 L841.74 195.35 L842.22 200.31 L842.69 205.51 L843.16 210.92 L843.64 216.54 L844.11 222.35 L844.59 228.35 L845.06 234.51 L845.54 240.82 L846.01 247.26 L846.49 253.81 L846.96 260.45 L847.44 267.17 L847.91 273.94 L848.39 280.74 L848.86 287.54 L849.33 294.34 L849.81 301.12 L850.28 307.85 L850.76 314.53 L851.23 321.14 L851.71 327.67 L852.18 334.08 L852.66 340.38 L853.13 346.55 L853.61 352.55 L854.08 358.39 L854.56 364.04 L855.03 369.48 L855.50 374.69 L855.98 379.67 L856.45 384.39 L856.93 388.83 L857.40 392.99 L857.88 396.85 L858.35 400.39 L858.83 403.61 L859.30 406.49 L859.78 409.03 L860.25 411.22 L860.73 413.05 L861.20 414.53 L861.67 415.64 L862.15 416.40 L862.62 416.80 L863.10 416.42 L863.57 415.69 L864.05 414.62 L864.52 413.22 L865.00 411.50 L865.47 409.46 L865.95 407.13 L866.42 404.51 L866.90 401.61 L867.37 398.45 L867.84 395.05 L868.32 391.42 L868.79 387.56 L869.27 383.51 L869.74 379.26 L870.22 374.84 L870.69 370.26 L871.17 365.52 L871.64 360.66 L872.12 355.67 L872.59 350.56 L873.07 345.36 L873.54 340.07 L874.01 334.70 L874.49 329.26 L874.96 323.75 L875.44 318.20 L875.91 312.60 L876.39 306.97 L876.86 301.30 L877.34 295.62 L877.81 289.92 L878.29 284.22 L878.76 278.51 L879.24 272.81 L879.71 267.14 L880.18 261.49 L880.66 255.89 L881.13 250.35 L881.61 244.87 L882.08 239.47 L882.56 234.15 L883.03 228.92 L883.51 223.81 L883.98 218.81 L884.46 213.93 L884.93 209.19 L885.41 204.59 L885.88 200.13 L886.35 195.84 L886.83 191.71 L887.30 187.75 L887.78 183.97 L888.25 180.38 L888.73 176.97 L889.20 173.76 L889.68 170.75 L890.15 167.94 L890.63 165.35 L891.10 162.97 L891.58 160.80 L892.05 158.86 L892.52 157.15 L893.00 155.67 L893.47 154.42 L893.95 153.40 L894.42 153.91 L894.90 155.07 L895.37 156.48 L895.85 158.14 L896.32 160.06 L896.80 162.25 L897.27 164.69 L897.75 167.40 L898.22 170.38 L898.69 173.62 L899.17 177.13 L899.64 180.90 L900.12 184.92 L900.59 189.21 L901.07 193.75 L901.54 198.53 L902.02 203.55 L902.49 208.80 L902.97 214.27 L903.44 219.95 L903.92 225.83 L904.39 231.88 L904.86 238.09 L905.34 244.45 L905.81 250.94 L906.29 257.54 L906.76 264.22 L907.24 270.96 L907.71 277.75 L908.19 284.56 L908.66 291.36 L909.14 298.15 L909.61 304.91 L910.09 311.62 L910.56 318.27 L911.03 324.84 L911.51 331.33 L911.98 337.70 L912.46 343.95 L912.93 350.06 L913.41 356.01 L913.88 361.79 L914.36 367.36 L914.83 372.73 L915.31 377.86 L915.78 382.75 L916.26 387.37 L916.73 391.71 L917.20 395.76 L917.68 399.49 L918.15 402.91 L918.63 405.98 L919.10 408.72 L919.58 411.10 L920.05 413.12 L920.53 414.78 L921.00 416.08 L921.48 417.00 L921.95 417.56 L922.43 417.53 L922.90 416.94 L923.37 416.01 L923.85 414.73 L924.32 413.12 L924.80 411.19 L925.27 408.95 L925.75 406.41 L926.22 403.59 L926.70 400.50 L927.17 397.16 L927.65 393.57 L928.12 389.76 L928.60 385.75 L929.07 381.53 L929.54 377.14 L930.02 372.58 L930.49 367.87 L930.97 363.02 L931.44 358.05 L931.92 352.96 L932.39 347.77 L932.87 342.49 L933.34 337.13 L933.82 331.70 L934.29 326.21 L934.77 320.67 L935.24 315.08 L935.71 309.45 L936.19 303.80 L936.66 298.12 L937.14 292.43 L937.61 286.72 L938.09 281.01 L938.56 275.31 L939.04 269.63 L939.51 263.97 L939.99 258.35 L940.46 252.78 L940.94 247.27 L941.41 241.83 L941.88 236.47 L942.36 231.20 L942.83 226.04 L943.31 220.99 L943.78 216.06 L944.26 211.25 L944.73 206.59 L945.21 202.07 L945.68 197.71 L946.16 193.50 L946.63 189.47 L947.11 185.61 L947.58 181.93 L948.05 178.44 L948.53 175.14 L949.00 172.04 L949.48 169.15 L949.95 166.46 L950.43 163.99 L950.90 161.73 L951.38 159.69 L951.85 157.87 L952.33 156.29 L952.80 154.94 L953.28 153.82 L953.75 153.49 L954.22 154.53 L954.70 155.83 L955.17 157.38 L955.65 159.19 L956.12 161.26 L956.60 163.59 L957.07 166.18 L957.55 169.04 L958.02 172.17 L958.50 175.56 L958.97 179.21 L959.45 183.12 L959.92 187.30 L960.39 191.72 L960.87 196.40 L961.34 201.32 L961.82 206.47 L962.29 211.85 L962.77 217.43 L963.24 223.22 L963.72 229.20 L964.19 235.34 L964.67 241.64 L965.14 248.08 L965.62 254.63 L966.09 261.27 L966.56 267.99 L967.04 274.77 L967.51 281.57 L967.99 288.37 L968.46 295.17 L968.94 301.95 L969.41 308.69 L969.89 315.37 L970.36 321.99 L970.84 328.53 L971.31 334.98 L971.79 341.31 L972.26 347.51 L972.73 353.57 L973.21 359.46 L973.68 365.17 L974.16 370.68 L974.63 375.96 L975.11 381.01 L975.58 385.81 L976.06 390.33 L976.53 394.56 L977.01 398.49 L977.48 402.09 L977.96 405.37 L978.43 408.30 L978.90 410.88 L979.38 413.09 L979.85 414.94 L980.33 416.42 L980.80 417.53 L981.28 418.26 L981.75 418.58 L982.23 418.14 L982.70 417.34 L983.18 416.19 L983.65 414.71 L984.13 412.89 L984.60 410.75 L985.07 408.30 L985.55 405.56 L986.02 402.54 L986.50 399.26 L986.97 395.73 L987.45 391.97 L987.92 387.99 L988.40 383.81 L988.87 379.45 L989.35 374.92 L989.82 370.23 L990.30 365.40 L990.77 360.44 L991.24 355.37 L991.72 350.19 L992.19 344.92 L992.67 339.57 L993.14 334.15 L993.62 328.67 L994.09 323.13 L994.57 317.55 L995.04 311.94 L995.52 306.29 L995.99 300.62 L996.47 294.93 L996.94 289.23 L997.41 283.52 L997.89 277.81 L998.36 272.12 L998.84 266.45 L999.31 260.81 L999.79 255.21 L1000.26 249.67 L1000.74 244.19 L1001.21 238.79 L1001.69 233.48 L1002.16 228.26 L1002.64 223.15 L1003.11 218.15 L1003.58 213.28 L1004.06 208.54 L1004.53 203.94 L1005.01 199.49 L1005.48 195.19 L1005.96 191.06 L1006.43 187.11 L1006.91 183.33 L1007.38 179.73 L1007.86 176.33 L1008.33 173.12 L1008.81 170.11 L1009.28 167.31 L1009.75 164.73 L1010.23 162.35 L1010.70 160.20 L1011.18 158.28 L1011.65 156.58 L1012.13 155.11 L1012.60 153.88 L1013.08 152.90 L1013.55 153.64 L1014.03 154.84 L1014.50 156.28 L1014.98 157.99 L1015.45 159.96 L1015.92 162.19 L1016.40 164.69 L1016.87 167.45 L1017.35 170.48 L1017.82 173.78 L1018.30 177.34 L1018.77 181.16 L1019.25 185.25 L1019.72 189.59 L1020.20 194.18 L1020.67 199.01 L1021.15 204.08 L1021.62 209.38 L1022.09 214.89 L1022.57 220.61 L1023.04 226.52 L1023.52 232.60 L1023.99 238.84 L1024.47 245.23 L1024.94 251.73 L1025.42 258.34 L1025.89 265.04 L1026.37 271.79 L1026.84 278.58 L1027.32 285.39 L1027.79 292.19 L1028.26 298.97 L1028.74 305.73 L1029.21 312.43 L1029.69 319.08 L1030.16 325.64 L1030.64 332.11 L1031.11 338.47 L1031.59 344.71 L1032.06 350.80 L1032.54 356.73 L1033.01 362.48 L1033.48 368.03 L1033.96 373.37 L1034.43 378.47 L1034.91 383.33 L1035.38 387.92 L1035.86 392.22 L1036.33 396.23 L1036.81 399.93 L1037.28 403.30 L1037.76 406.34 L1038.23 409.03 L1038.71 411.36 L1039.18 413.34 L1039.65 414.96 L1040.13 416.21 L1040.60 417.09 L1041.08 417.61 L1041.55 417.48 L1042.03 416.85 L1042.50 415.87 L1042.98 414.55 L1043.45 412.90 L1043.93 410.93 L1044.40 408.65 L1044.88 406.08 L1045.35 403.23 L1045.82 400.11 L1046.30 396.73 L1046.77 393.12 L1047.25 389.29 L1047.72 385.24 L1048.20 381.01 L1048.67 376.59 L1049.15 372.02 L1049.62 367.29 L1050.10 362.42 L1050.57 357.43 L1051.05 352.33 L1051.52 347.13 L1051.99 341.84 L1052.47 336.47 L1052.94 331.04 L1053.42 325.54 L1053.89 319.99 L1054.37 314.39 L1054.84 308.76 L1055.32 303.11 L1055.79 297.43 L1056.27 291.73 L1056.74 286.03 L1057.22 280.32 L1057.69 274.62 L1058.16 268.94 L1058.64 263.28 L1059.11 257.67 L1059.59 252.11 L1060.06 246.61 L1060.54 241.19 L1061.01 235.85 L1061.49 230.61 L1061.96 225.47 L1062.44 220.44 L1062.91 215.54 L1063.39 210.77 L1063.86 206.14 L1064.33 201.66 L1064.81 197.34 L1065.28 193.18 L1065.76 189.20 L1066.23 185.38 L1066.71 181.76 L1067.18 178.32 L1067.66 175.07 L1068.13 172.02 L1068.61 169.18 L1069.08 166.54 L1069.56 164.11 L1070.03 161.90 L1070.50 159.91 L1070.98 158.14 L1071.45 156.59 L1071.93 155.28 L1072.40 154.20 L1072.88 154.10 L1073.35 155.17 L1073.83 156.48 L1074.30 158.05 L1074.78 159.88 L1075.25 161.96 L1075.73 164.30 L1076.20 166.90 L1076.67 169.77 L1077.15 172.90 L1077.62 176.29 L1078.10 179.95 L1078.57 183.86 L1079.05 188.04 L1079.52 192.47 L1080.00 197.15 L1080.47 202.07 L1080.95 207.22 L1081.42 212.60 L1081.90 218.20 L1082.37 223.99 L1082.84 229.98 L1083.32 236.13 L1083.79 242.44 L1084.27 248.88 L1084.74 255.44 L1085.22 262.09 L1085.69 268.82 L1086.17 275.59 L1086.64 282.40 L1087.12 289.20 L1087.59 296.00 L1088.07 302.76 L1088.54 309.49 L1089.01 316.15 L1089.49 322.74 L1089.96 329.24 L1090.44 335.63 L1090.91 341.90 L1091.39 348.02 L1091.86 353.99 L1092.34 359.78 L1092.81 365.38 L1093.29 370.77 L1093.76 375.93 L1094.24 380.84 L1094.71 385.50 L1095.18 389.88 L1095.66 393.96 L1096.13 397.74 L1096.61 401.21 L1097.08 404.35 L1097.56 407.14 L1098.03 409.60 L1098.51 411.70 L1098.98 413.45 L1099.46 414.83 L1099.93 415.86 L1100.41 416.53 L1100.88 416.74 L1101.35 416.27 L1101.83 415.46 L1102.30 414.31 L1102.78 412.83 L1103.25 411.03 L1103.73 408.92 L1104.20 406.51 L1104.68 403.82 L1105.15 400.86 L1105.63 397.65 L1106.10 394.19 L1106.58 390.50 L1107.05 386.59 L1107.52 382.49 L1108.00 378.20 L1108.47 373.74 L1108.95 369.12 L1109.42 364.35 L1109.90 359.45 L1110.37 354.43 L1110.85 349.30 L1111.32 344.08 L1111.80 338.77 L1112.27 333.38 L1112.75 327.92 L1113.22 322.40 L1113.69 316.84 L1114.17 311.23 L1114.64 305.59 L1115.12 299.92 L1115.59 294.23 L1116.07 288.53 L1116.54 282.82 L1117.02 277.12 L1117.49 271.43 L1117.97 265.76 L1118.44 260.12 L1118.92 254.54 L1119.39 249.01 L1119.86 243.54 L1120.34 238.16 L1120.81 232.86 L1121.29 227.67 L1121.76 222.58 L1122.24 217.61 L1122.71 212.76 L1123.19 208.05 L1123.66 203.49 L1124.14 199.07 L1124.61 194.82 L1125.09 190.73 L1125.56 186.81 L1126.03 183.08 L1126.51 179.53 L1126.98 176.17 L1127.46 173.01 L1127.93 170.04 L1128.41 167.29 L1128.88 164.75 L1129.36 162.42 L1129.83 160.31 L1130.31 158.43 L1130.78 156.77 L1131.26 155.34 L1131.73 154.15 L1132.20 153.21 L1132.68 154.17 L1133.15 155.39 L1133.63 156.86 L1134.10 158.59 L1134.58 160.57 L1135.05 162.82 L1135.53 165.33 L1136.00 168.11 L1136.48 171.15 L1136.95 174.45 L1137.43 178.02 L1137.90 181.85 L1138.37 185.95 L1138.85 190.29 L1139.32 194.89 L1139.80 199.73 L1140.27 204.81 L1140.75 210.12 L1141.22 215.64 L1141.70 221.37 L1142.17 227.29 L1142.65 233.38 L1143.12 239.63 L1143.60 246.02 L1144.07 252.54 L1144.54 259.16 L1145.02 265.86 L1145.49 272.61 L1145.97 279.41 L1146.44 286.22 L1146.92 293.02 L1147.39 299.80 L1147.87 306.54 L1148.34 313.23 L1148.82 319.86 L1149.29 326.40 L1149.77 332.84 L1150.24 339.16 L1150.71 345.35 L1151.19 351.39 L1151.66 357.26 L1152.14 362.95 L1152.61 368.43 L1153.09 373.69 L1153.56 378.72 L1154.04 383.49 L1154.51 387.99 L1154.99 392.20 L1155.46 396.12 L1155.94 399.73 L1156.41 403.01 L1156.88 405.96 L1157.36 408.56 L1157.83 410.82 L1158.31 412.72 L1158.78 414.27 L1159.26 415.45 L1159.73 416.28 L1160.21 416.75 L1160.68 416.52 L1161.16 415.86 L1161.63 414.85 L1162.11 413.52 L1162.58 411.86 L1163.05 409.88 L1163.53 407.61 L1164.00 405.04 L1164.48 402.20 L1164.95 399.09 L1165.43 395.73 L1165.90 392.14 L1166.38 388.33 L1166.85 384.31 L1167.33 380.10 L1167.80 375.72 L1168.28 371.16 L1168.75 366.46 L1169.22 361.62 L1169.70 356.65 L1170.17 351.57 L1170.65 346.38 L1171.12 341.11 L1171.60 335.75 L1172.07 330.32 L1172.55 324.83 L1173.02 319.29 L1173.50 313.70 L1173.97 308.07 L1174.45 302.41 L1174.92 296.73 L1175.39 291.04 L1175.87 285.33 L1176.34 279.62 L1176.82 273.92 L1177.29 268.24 L1177.77 262.60 L1178.24 256.99 L1178.72 251.44 L1179.19 245.95 L1179.67 240.53 L1180.14 235.21 L1180.62 229.97 L1181.09 224.85 L1181.56 219.84 L1182.04 214.95 L1182.51 210.20 L1182.99 205.59 L1183.46 201.13 L1183.94 196.83 L1184.41 192.69 L1184.89 188.72 L1185.36 184.93 L1185.84 181.33 L1186.31 177.91 L1186.79 174.69 L1187.26 171.66 L1187.73 168.84 L1188.21 166.23 L1188.68 163.83 L1189.16 161.65 L1189.63 159.68 L1190.11 157.94 L1190.58 156.42 L1191.06 155.13 L1191.53 154.08 L1192.01 154.22 L1192.48 155.31 L1192.96 156.66 L1193.43 158.26 L1193.90 160.12 L1194.38 162.23 L1194.85 164.60 L1195.33 167.24 L1195.80 170.14 L1196.28 173.30 L1196.75 176.72 L1197.23 180.41 L1197.70 184.36 L1198.18 188.56 L1198.65 193.02 L1199.13 197.73 L1199.60 202.68 L1200.07 207.87 L1200.55 213.27 L1201.02 218.89 L1201.50 224.71 L1201.97 230.72 L1202.45 236.89 L1202.92 243.22 L1203.40 249.68 L1203.87 256.25 L1204.35 262.91 L1204.82 269.64 L1205.30 276.42 L1205.77 283.23 L1206.24 290.03 L1206.72 296.83 L1207.19 303.59 L1207.67 310.31 L1208.14 316.98 L1208.62 323.57 L1209.09 330.07 L1209.57 336.47 L1210.04 342.74 L1210.52 348.88 L1210.99 354.86 L1211.47 360.67 L1211.94 366.29 L1212.41 371.70 L1212.89 376.88 L1213.36 381.82 L1213.84 386.49 L1214.31 390.89 L1214.79 394.99 L1215.26 398.79 L1215.74 402.27 L1216.21 405.41 L1216.69 408.21 L1217.16 410.66 L1217.64 412.76 L1218.11 414.49 L1218.58 415.85 L1219.06 416.85 L1219.53 417.48 L1220.01 417.60 L1220.48 417.08 L1220.96 416.22 L1221.43 415.00 L1221.91 413.46 L1222.38 411.59 L1222.86 409.41 L1223.33 406.93 L1223.81 404.16 L1224.28 401.12 L1224.75 397.83 L1225.23 394.29 L1225.70 390.53 L1226.18 386.55 L1226.65 382.37 L1227.13 378.01 L1227.60 373.48 L1228.08 368.80 L1228.55 363.98 L1229.03 359.03 L1229.50 353.96 L1229.97 348.79 L1230.45 343.53 L1230.92 338.18 L1231.40 332.77 L1231.87 327.29 L1232.35 321.75 L1232.82 316.17 L1233.30 310.55 L1233.77 304.90 L1234.25 299.23" stroke="#c00000" stroke-width="2.1" fill="none" stroke-linejoin="round" stroke-dasharray="12 11.7"/><path d="M759.63 281.85 L760.11 275.30 L760.58 268.76 L761.06 262.25 L761.53 255.76 L762.01 249.32 L762.48 242.93 L762.96 236.61 L763.43 230.36 L763.90 224.20 L764.38 218.14 L764.85 212.21 L765.33 206.40 L765.80 200.73 L766.28 195.23 L766.75 189.91 L767.23 184.78 L767.70 179.85 L768.18 175.15 L768.65 170.69 L769.13 166.48 L769.60 162.54 L770.07 158.87 L770.55 155.50 L771.02 152.43 L771.50 149.67 L771.97 147.22 L772.45 145.09 L772.92 143.30 L773.40 141.83 L773.87 140.69 L774.35 141.34 L774.82 142.66 L775.30 144.31 L775.77 146.26 L776.24 148.52 L776.72 151.07 L777.19 153.90 L777.67 157.01 L778.14 160.37 L778.62 163.98 L779.09 167.83 L779.57 171.89 L780.04 176.17 L780.52 180.63 L780.99 185.27 L781.47 190.07 L781.94 195.03 L782.41 200.12 L782.89 205.34 L783.36 210.66 L783.84 216.09 L784.31 221.60 L784.79 227.19 L785.26 232.85 L785.74 238.57 L786.21 244.34 L786.69 250.15 L787.16 256.00 L787.64 261.88 L788.11 267.77 L788.58 273.68 L789.06 279.61 L789.53 285.53 L790.01 291.46 L790.48 297.38 L790.96 303.30 L791.43 309.21 L791.91 315.12 L792.38 321.01 L792.86 326.88 L793.33 332.74 L793.81 338.56 L794.28 344.34 L794.75 350.07 L795.23 355.73 L795.70 361.33 L796.18 366.83 L796.65 372.22 L797.13 377.49 L797.60 382.61 L798.08 387.57 L798.55 392.35 L799.03 396.91 L799.50 401.25 L799.98 405.33 L800.45 409.14 L800.92 412.65 L801.40 415.84 L801.87 418.69 L802.35 421.19 L802.82 423.31 L803.30 425.04 L803.77 426.36 L804.25 427.28 L804.72 427.77 L805.20 427.43 L805.67 426.61 L806.15 425.35 L806.62 423.68 L807.09 421.58 L807.57 419.08 L808.04 416.18 L808.52 412.91 L808.99 409.27 L809.47 405.29 L809.94 400.98 L810.42 396.38 L810.89 391.50 L811.37 386.38 L811.84 381.02 L812.32 375.46 L812.79 369.73 L813.26 363.84 L813.74 357.81 L814.21 351.67 L814.69 345.44 L815.16 339.13 L815.64 332.75 L816.11 326.32 L816.59 319.85 L817.06 313.36 L817.54 306.84 L818.01 300.31 L818.49 293.76 L818.96 287.21 L819.43 280.66 L819.91 274.11 L820.38 267.57 L820.86 261.05 L821.33 254.56 L821.81 248.11 L822.28 241.71 L822.76 235.36 L823.23 229.09 L823.71 222.90 L824.18 216.80 L824.66 210.81 L825.13 204.95 L825.60 199.23 L826.08 193.67 L826.55 188.28 L827.03 183.08 L827.50 178.08 L827.98 173.32 L828.45 168.79 L828.93 164.52 L829.40 160.52 L829.88 156.81 L830.35 153.40 L830.83 150.29 L831.30 147.51 L831.77 145.06 L832.25 142.94 L832.72 141.15 L833.20 139.71 L833.67 138.61 L834.15 139.67 L834.62 141.09 L835.10 142.83 L835.57 144.90 L836.05 147.27 L836.52 149.95 L837.00 152.91 L837.47 156.16 L837.94 159.66 L838.42 163.42 L838.89 167.41 L839.37 171.61 L839.84 176.02 L840.32 180.62 L840.79 185.40 L841.27 190.32 L841.74 195.40 L842.22 200.59 L842.69 205.91 L843.16 211.33 L843.64 216.83 L844.11 222.42 L844.59 228.07 L845.06 233.78 L845.54 239.54 L846.01 245.35 L846.49 251.19 L846.96 257.05 L847.44 262.94 L847.91 268.84 L848.39 274.76 L848.86 280.68 L849.33 286.61 L849.81 292.53 L850.28 298.46 L850.76 304.37 L851.23 310.27 L851.71 316.17 L852.18 322.04 L852.66 327.89 L853.13 333.71 L853.61 339.49 L854.08 345.22 L854.56 350.89 L855.03 356.50 L855.50 362.01 L855.98 367.43 L856.45 372.74 L856.93 377.91 L857.40 382.92 L857.88 387.77 L858.35 392.42 L858.83 396.87 L859.30 401.07 L859.78 405.03 L860.25 408.70 L860.73 412.08 L861.20 415.14 L861.67 417.87 L862.15 420.24 L862.62 422.24 L863.10 423.86 L863.57 425.09 L864.05 425.91 L864.52 426.28 L865.00 425.82 L865.47 424.94 L865.95 423.64 L866.42 421.93 L866.90 419.81 L867.37 417.29 L867.84 414.39 L868.32 411.12 L868.79 407.50 L869.27 403.54 L869.74 399.27 L870.22 394.70 L870.69 389.86 L871.17 384.78 L871.64 379.47 L872.12 373.96 L872.59 368.27 L873.07 362.42 L873.54 356.44 L874.01 350.34 L874.49 344.14 L874.96 337.85 L875.44 331.50 L875.91 325.09 L876.39 318.64 L876.86 312.15 L877.34 305.64 L877.81 299.11 L878.29 292.57 L878.76 286.02 L879.24 279.46 L879.71 272.92 L880.18 266.38 L880.66 259.87 L881.13 253.39 L881.61 246.94 L882.08 240.55 L882.56 234.22 L883.03 227.95 L883.51 221.78 L883.98 215.70 L884.46 209.74 L884.93 203.90 L885.41 198.21 L885.88 192.67 L886.35 187.31 L886.83 182.15 L887.30 177.20 L887.78 172.47 L888.25 167.99 L888.73 163.77 L889.20 159.83 L889.68 156.17 L890.15 152.81 L890.63 149.76 L891.10 147.04 L891.58 144.65 L892.05 142.59 L892.52 140.87 L893.00 139.49 L893.47 138.76 L893.95 139.91 L894.42 141.38 L894.90 143.19 L895.37 145.31 L895.85 147.74 L896.32 150.47 L896.80 153.48 L897.27 156.78 L897.75 160.33 L898.22 164.13 L898.69 168.16 L899.17 172.40 L899.64 176.85 L900.12 181.48 L900.59 186.28 L901.07 191.24 L901.54 196.33 L902.02 201.56 L902.49 206.89 L902.97 212.32 L903.44 217.84 L903.92 223.44 L904.39 229.11 L904.86 234.83 L905.34 240.60 L905.81 246.41 L906.29 252.25 L906.76 258.12 L907.24 264.01 L907.71 269.92 L908.19 275.84 L908.66 281.76 L909.14 287.69 L909.61 293.61 L910.09 299.54 L910.56 305.45 L911.03 311.37 L911.51 317.27 L911.98 323.15 L912.46 329.02 L912.93 334.86 L913.41 340.67 L913.88 346.43 L914.36 352.14 L914.83 357.78 L915.31 363.34 L915.78 368.81 L916.26 374.16 L916.73 379.38 L917.20 384.44 L917.68 389.34 L918.15 394.04 L918.63 398.52 L919.10 402.77 L919.58 406.75 L920.05 410.45 L920.53 413.85 L921.00 416.92 L921.48 419.64 L921.95 422.00 L922.43 423.98 L922.90 425.57 L923.37 426.75 L923.85 427.51 L924.32 427.73 L924.80 427.18 L925.27 426.20 L925.75 424.79 L926.22 422.96 L926.70 420.72 L927.17 418.07 L927.65 415.03 L928.12 411.62 L928.60 407.86 L929.07 403.75 L929.54 399.34 L930.02 394.63 L930.49 389.66 L930.97 384.45 L931.44 379.02 L931.92 373.39 L932.39 367.60 L932.87 361.66 L933.34 355.59 L933.82 349.41 L934.29 343.15 L934.77 336.81 L935.24 330.41 L935.71 323.97 L936.19 317.49 L936.66 310.99 L937.14 304.46 L937.61 297.92 L938.09 291.37 L938.56 284.82 L939.04 278.27 L939.51 271.72 L939.99 265.19 L940.46 258.68 L940.94 252.21 L941.41 245.77 L941.88 239.39 L942.36 233.07 L942.83 226.82 L943.31 220.66 L943.78 214.61 L944.26 208.66 L944.73 202.85 L945.21 197.18 L945.68 191.68 L946.16 186.36 L946.63 181.23 L947.11 176.32 L947.58 171.64 L948.05 167.20 L948.53 163.03 L949.00 159.14 L949.48 155.53 L949.95 152.23 L950.43 149.24 L950.90 146.58 L951.38 144.25 L951.85 142.25 L952.33 140.59 L952.80 139.27 L953.28 138.94 L953.75 140.15 L954.22 141.69 L954.70 143.55 L955.17 145.73 L955.65 148.21 L956.12 151.00 L956.60 154.06 L957.07 157.40 L957.55 161.00 L958.02 164.84 L958.50 168.91 L958.97 173.20 L959.45 177.68 L959.92 182.34 L960.39 187.17 L960.87 192.16 L961.34 197.28 L961.82 202.52 L962.29 207.87 L962.77 213.32 L963.24 218.86 L963.72 224.47 L964.19 230.15 L964.67 235.88 L965.14 241.65 L965.62 247.47 L966.09 253.32 L966.56 259.19 L967.04 265.09 L967.51 271.00 L967.99 276.92 L968.46 282.84 L968.94 288.77 L969.41 294.69 L969.89 300.61 L970.36 306.53 L970.84 312.43 L971.31 318.32 L971.79 324.19 L972.26 330.04 L972.73 335.85 L973.21 341.63 L973.68 347.36 L974.16 353.02 L974.63 358.61 L975.11 364.12 L975.58 369.52 L976.06 374.80 L976.53 379.94 L977.01 384.92 L977.48 389.73 L977.96 394.34 L978.43 398.72 L978.90 402.87 L979.38 406.75 L979.85 410.34 L980.33 413.63 L980.80 416.60 L981.28 419.22 L981.75 421.47 L982.23 423.35 L982.70 424.84 L983.18 425.93 L983.65 426.60 L984.13 426.66 L984.60 426.04 L985.07 425.00 L985.55 423.54 L986.02 421.66 L986.50 419.38 L986.97 416.70 L987.45 413.64 L987.92 410.21 L988.40 406.44 L988.87 402.34 L989.35 397.92 L989.82 393.23 L990.30 388.27 L990.77 383.07 L991.24 377.66 L991.72 372.06 L992.19 366.28 L992.67 360.36 L993.14 354.31 L993.62 348.15 L994.09 341.90 L994.57 335.58 L995.04 329.20 L995.52 322.76 L995.99 316.29 L996.47 309.79 L996.94 303.27 L997.41 296.73 L997.89 290.18 L998.36 283.63 L998.84 277.08 L999.31 270.53 L999.79 264.01 L1000.26 257.50 L1000.74 251.03 L1001.21 244.61 L1001.69 238.23 L1002.16 231.93 L1002.64 225.69 L1003.11 219.55 L1003.58 213.51 L1004.06 207.59 L1004.53 201.81 L1005.01 196.17 L1005.48 190.70 L1005.96 185.41 L1006.43 180.32 L1006.91 175.45 L1007.38 170.81 L1007.86 166.42 L1008.33 162.30 L1008.81 158.46 L1009.28 154.91 L1009.75 151.66 L1010.23 148.73 L1010.70 146.13 L1011.18 143.86 L1011.65 141.92 L1012.13 140.32 L1012.60 139.07 L1013.08 139.14 L1013.55 140.41 L1014.03 142.00 L1014.50 143.92 L1014.98 146.16 L1015.45 148.70 L1015.92 151.53 L1016.40 154.65 L1016.87 158.04 L1017.35 161.68 L1017.82 165.57 L1018.30 169.68 L1018.77 174.00 L1019.25 178.52 L1019.72 183.21 L1020.20 188.07 L1020.67 193.08 L1021.15 198.22 L1021.62 203.49 L1022.09 208.86 L1022.57 214.33 L1023.04 219.88 L1023.52 225.50 L1023.99 231.19 L1024.47 236.93 L1024.94 242.71 L1025.42 248.53 L1025.89 254.39 L1026.37 260.27 L1026.84 266.17 L1027.32 272.08 L1027.79 278.00 L1028.26 283.92 L1028.74 289.85 L1029.21 295.77 L1029.69 301.69 L1030.16 307.61 L1030.64 313.52 L1031.11 319.41 L1031.59 325.29 L1032.06 331.15 L1032.54 336.98 L1033.01 342.77 L1033.48 348.52 L1033.96 354.20 L1034.43 359.82 L1034.91 365.34 L1035.38 370.77 L1035.86 376.07 L1036.33 381.24 L1036.81 386.25 L1037.28 391.07 L1037.76 395.70 L1038.23 400.10 L1038.71 404.25 L1039.18 408.13 L1039.65 411.73 L1040.13 415.01 L1040.60 417.95 L1041.08 420.55 L1041.55 422.77 L1042.03 424.61 L1042.50 426.04 L1042.98 427.07 L1043.45 427.68 L1043.93 427.58 L1044.40 426.87 L1044.88 425.74 L1045.35 424.17 L1045.82 422.19 L1046.30 419.80 L1046.77 417.01 L1047.25 413.83 L1047.72 410.29 L1048.20 406.40 L1048.67 402.18 L1049.15 397.66 L1049.62 392.85 L1050.10 387.79 L1050.57 382.50 L1051.05 376.99 L1051.52 371.30 L1051.99 365.45 L1052.47 359.46 L1052.94 353.35 L1053.42 347.14 L1053.89 340.84 L1054.37 334.48 L1054.84 328.07 L1055.32 321.61 L1055.79 315.12 L1056.27 308.61 L1056.74 302.08 L1057.22 295.54 L1057.69 288.99 L1058.16 282.43 L1058.64 275.88 L1059.11 269.34 L1059.59 262.82 L1060.06 256.33 L1060.54 249.88 L1061.01 243.48 L1061.49 237.14 L1061.96 230.87 L1062.44 224.69 L1062.91 218.61 L1063.39 212.63 L1063.86 206.79 L1064.33 201.09 L1064.81 195.54 L1065.28 190.17 L1065.76 184.99 L1066.23 180.01 L1066.71 175.25 L1067.18 170.74 L1067.66 166.47 L1068.13 162.47 L1068.61 158.75 L1069.08 155.32 L1069.56 152.19 L1070.03 149.37 L1070.50 146.88 L1070.98 144.70 L1071.45 142.86 L1071.93 141.35 L1072.40 140.18 L1072.88 140.64 L1073.35 141.95 L1073.83 143.57 L1074.30 145.52 L1074.78 147.77 L1075.25 150.31 L1075.73 153.15 L1076.20 156.26 L1076.67 159.63 L1077.15 163.25 L1077.62 167.11 L1078.10 171.19 L1078.57 175.47 L1079.05 179.95 L1079.52 184.61 L1080.00 189.43 L1080.47 194.40 L1080.95 199.51 L1081.42 204.74 L1081.90 210.08 L1082.37 215.51 L1082.84 221.04 L1083.32 226.64 L1083.79 232.31 L1084.27 238.03 L1084.74 243.81 L1085.22 249.62 L1085.69 255.47 L1086.17 261.35 L1086.64 267.24 L1087.12 273.16 L1087.59 279.08 L1088.07 285.00 L1088.54 290.93 L1089.01 296.85 L1089.49 302.77 L1089.96 308.69 L1090.44 314.59 L1090.91 320.49 L1091.39 326.36 L1091.86 332.22 L1092.34 338.04 L1092.81 343.82 L1093.29 349.56 L1093.76 355.23 L1094.24 360.83 L1094.71 366.34 L1095.18 371.75 L1095.66 377.03 L1096.13 382.16 L1096.61 387.14 L1097.08 391.93 L1097.56 396.52 L1098.03 400.87 L1098.51 404.98 L1098.98 408.81 L1099.46 412.35 L1099.93 415.57 L1100.41 418.45 L1100.88 420.98 L1101.35 423.13 L1101.83 424.90 L1102.30 426.26 L1102.78 427.21 L1103.25 427.74 L1103.73 427.48 L1104.20 426.70 L1104.68 425.48 L1105.15 423.84 L1105.63 421.79 L1106.10 419.32 L1106.58 416.46 L1107.05 413.21 L1107.52 409.61 L1108.00 405.65 L1108.47 401.38 L1108.95 396.80 L1109.42 391.95 L1109.90 386.84 L1110.37 381.51 L1110.85 375.97 L1111.32 370.25 L1111.80 364.37 L1112.27 358.35 L1112.75 352.22 L1113.22 346.00 L1113.69 339.69 L1114.17 333.32 L1114.64 326.90 L1115.12 320.43 L1115.59 313.94 L1116.07 307.42 L1116.54 300.89 L1117.02 294.34 L1117.49 287.79 L1117.97 281.24 L1118.44 274.69 L1118.92 268.15 L1119.39 261.63 L1119.86 255.14 L1120.34 248.69 L1120.81 242.29 L1121.29 235.95 L1121.76 229.67 L1122.24 223.48 L1122.71 217.39 L1123.19 211.41 L1123.66 205.55 L1124.14 199.84 L1124.61 194.28 L1125.09 188.89 L1125.56 183.70 L1126.03 178.71 L1126.51 173.94 L1126.98 169.42 L1127.46 165.15 L1127.93 161.15 L1128.41 157.43 L1128.88 154.01 L1129.36 150.90 L1129.83 148.10 L1130.31 145.63 L1130.78 143.49 L1131.26 141.69 L1131.73 140.22 L1132.20 139.10 L1132.68 139.96 L1133.15 141.34 L1133.63 143.05 L1134.10 145.07 L1134.58 147.41 L1135.05 150.04 L1135.53 152.96 L1136.00 156.16 L1136.48 159.63 L1136.95 163.34 L1137.43 167.28 L1137.90 171.45 L1138.37 175.82 L1138.85 180.39 L1139.32 185.12 L1139.80 190.02 L1140.27 195.06 L1140.75 200.23 L1141.22 205.51 L1141.70 210.91 L1142.17 216.39 L1142.65 221.96 L1143.12 227.60 L1143.60 233.29 L1144.07 239.05 L1144.54 244.84 L1145.02 250.67 L1145.49 256.53 L1145.97 262.42 L1146.44 268.32 L1146.92 274.23 L1147.39 280.16 L1147.87 286.08 L1148.34 292.01 L1148.82 297.93 L1149.29 303.85 L1149.77 309.76 L1150.24 315.67 L1150.71 321.56 L1151.19 327.43 L1151.66 333.28 L1152.14 339.10 L1152.61 344.87 L1153.09 350.60 L1153.56 356.26 L1154.04 361.84 L1154.51 367.33 L1154.99 372.72 L1155.46 377.97 L1155.94 383.08 L1156.41 388.03 L1156.88 392.78 L1157.36 397.33 L1157.83 401.64 L1158.31 405.70 L1158.78 409.48 L1159.26 412.96 L1159.73 416.12 L1160.21 418.94 L1160.68 421.40 L1161.16 423.48 L1161.63 425.18 L1162.11 426.47 L1162.58 427.34 L1163.05 427.79 L1163.53 427.37 L1164.00 426.51 L1164.48 425.22 L1164.95 423.50 L1165.43 421.37 L1165.90 418.83 L1166.38 415.89 L1166.85 412.58 L1167.33 408.91 L1167.80 404.90 L1168.28 400.57 L1168.75 395.94 L1169.22 391.04 L1169.70 385.89 L1170.17 380.51 L1170.65 374.94 L1171.12 369.19 L1171.60 363.28 L1172.07 357.25 L1172.55 351.10 L1173.02 344.85 L1173.50 338.53 L1173.97 332.15 L1174.45 325.72 L1174.92 319.25 L1175.39 312.75 L1175.87 306.23 L1176.34 299.70 L1176.82 293.15 L1177.29 286.60 L1177.77 280.05 L1178.24 273.50 L1178.72 266.96 L1179.19 260.45 L1179.67 253.96 L1180.14 247.51 L1180.62 241.12 L1181.09 234.78 L1181.56 228.51 L1182.04 222.32 L1182.51 216.24 L1182.99 210.26 L1183.46 204.41 L1183.94 198.71 L1184.41 193.16 L1184.89 187.78 L1185.36 182.60 L1185.84 177.63 L1186.31 172.89 L1186.79 168.38 L1187.26 164.14 L1187.73 160.17 L1188.21 156.48 L1188.68 153.10 L1189.16 150.02 L1189.63 147.27 L1190.11 144.85 L1190.58 142.76 L1191.06 141.01 L1191.53 139.60 L1192.01 138.67 L1192.48 139.79 L1192.96 141.24 L1193.43 143.01 L1193.90 145.11 L1194.38 147.51 L1194.85 150.21 L1195.33 153.20 L1195.80 156.47 L1196.28 160.00 L1196.75 163.78 L1197.23 167.79 L1197.70 172.02 L1198.18 176.45 L1198.65 181.06 L1199.13 185.85 L1199.60 190.79 L1200.07 195.87 L1200.55 201.09 L1201.02 206.41 L1201.50 211.83 L1201.97 217.35 L1202.45 222.94 L1202.92 228.60 L1203.40 234.32 L1203.87 240.08 L1204.35 245.89 L1204.82 251.73 L1205.30 257.60 L1205.77 263.49 L1206.24 269.40 L1206.72 275.31 L1207.19 281.24 L1207.67 287.16 L1208.14 293.09 L1208.62 299.01 L1209.09 304.93 L1209.57 310.84 L1210.04 316.74 L1210.52 322.63 L1210.99 328.50 L1211.47 334.34 L1211.94 340.15 L1212.41 345.92 L1212.89 351.63 L1213.36 357.28 L1213.84 362.85 L1214.31 368.32 L1214.79 373.69 L1215.26 378.92 L1215.74 384.00 L1216.21 388.91 L1216.69 393.63 L1217.16 398.13 L1217.64 402.40 L1218.11 406.41 L1218.58 410.13 L1219.06 413.56 L1219.53 416.66 L1220.01 419.41 L1220.48 421.81 L1220.96 423.82 L1221.43 425.44 L1221.91 426.66 L1222.38 427.46 L1222.86 427.76 L1223.33 427.25 L1223.81 426.30 L1224.28 424.93 L1224.75 423.14 L1225.23 420.93 L1225.70 418.32 L1226.18 415.32 L1226.65 411.94 L1227.13 408.21 L1227.60 404.13 L1228.08 399.75 L1228.55 395.07 L1229.03 390.12 L1229.50 384.92 L1229.97 379.51 L1230.45 373.90 L1230.92 368.12 L1231.40 362.19 L1231.87 356.13 L1232.35 349.97 L1232.82 343.71 L1233.30 337.38 L1233.77 330.98 L1234.25 324.54" stroke="#1010fa" stroke-width="2.1" fill="none" stroke-linejoin="round" stroke-dasharray="12 4.7 2.4 4.6"/><path d="M759.5 488.41H766 M759.5 477.63H766 M759.5 466.85H766 M759.5 456.06H766 M759.5 434.49H766 M759.5 423.7H766 M759.5 412.92H766 M759.5 402.13H766 M759.5 380.56H766 M759.5 369.78H766 M759.5 359H766 M759.5 348.21H766 M759.5 326.64H766 M759.5 315.86H766 M759.5 305.07H766 M759.5 294.29H766 M759.5 272.71H766 M759.5 261.93H766 M759.5 251.15H766 M759.5 240.36H766 M759.5 218.79H766 M759.5 208H766 M759.5 197.22H766 M759.5 186.44H766 M759.5 164.87H766 M759.5 154.08H766 M759.5 143.3H766 M759.5 132.51H766 M759.5 110.94H766 M759.5 100.16H766 M759.5 89.37H766 M759.5 78.59H766" stroke="#5a5a5a" stroke-width="1.2" fill="none"/><path d="M759.5 499.2H765.2 M759.5 445.27H765.2 M759.5 391.35H765.2 M759.5 337.43H765.2 M759.5 283.5H765.2 M759.5 229.57H765.2 M759.5 175.65H765.2 M759.5 121.73H765.2 M759.5 67.8H765.2 M773.92 499.2V492.7 M803.7 499.2V492.7 M833.48 499.2V492.7 M863.25 499.2V492.7 M893.02 499.2V492.7 M922.8 499.2V492.7 M952.58 499.2V492.7 M982.35 499.2V492.7 M1012.12 499.2V492.7 M1041.9 499.2V492.7 M1071.67 499.2V492.7 M1101.45 499.2V492.7 M1131.22 499.2V492.7 M1161 499.2V492.7 M1190.78 499.2V492.7 M1220.55 499.2V492.7" stroke="#000" stroke-width="2.4" fill="none"/><path d="M759.5 66.8V499.2H1234.3" stroke="#000" stroke-width="2.5" fill="none" stroke-linejoin="round"/><text transform="translate(752.3 72.9) scale(1 1.06)" font-size="16.6" text-anchor="end" stroke="#000" stroke-width="0.25">0.16</text><text transform="translate(752.3 126.83) scale(1 1.06)" font-size="16.6" text-anchor="end" stroke="#000" stroke-width="0.25">0.12</text><text transform="translate(752.3 180.75) scale(1 1.06)" font-size="16.6" text-anchor="end" stroke="#000" stroke-width="0.25">0.08</text><text transform="translate(752.3 234.67) scale(1 1.06)" font-size="16.6" text-anchor="end" stroke="#000" stroke-width="0.25">0.04</text><text transform="translate(752.3 288.6) scale(1 1.06)" font-size="16.6" text-anchor="end" stroke="#000" stroke-width="0.25">0</text><text transform="translate(752.3 342.53) scale(1 1.06)" font-size="16.6" text-anchor="end" stroke="#000" stroke-width="0.25">-0.04</text><text transform="translate(752.3 396.45) scale(1 1.06)" font-size="16.6" text-anchor="end" stroke="#000" stroke-width="0.25">-0.08</text><text transform="translate(752.3 450.38) scale(1 1.06)" font-size="16.6" text-anchor="end" stroke="#000" stroke-width="0.25">-0.12</text><text transform="translate(752.3 504.3) scale(1 1.06)" font-size="16.6" text-anchor="end" stroke="#000" stroke-width="0.25">-0.16</text><text transform="translate(803.7 516.6) scale(1 1.06)" font-size="16.6" text-anchor="middle" stroke="#000" stroke-width="0.25">1</text><text transform="translate(863.25 516.6) scale(1 1.06)" font-size="16.6" text-anchor="middle" stroke="#000" stroke-width="0.25">2</text><text transform="translate(922.8 516.6) scale(1 1.06)" font-size="16.6" text-anchor="middle" stroke="#000" stroke-width="0.25">3</text><text transform="translate(982.35 516.6) scale(1 1.06)" font-size="16.6" text-anchor="middle" stroke="#000" stroke-width="0.25">4</text><text transform="translate(1041.9 516.6) scale(1 1.06)" font-size="16.6" text-anchor="middle" stroke="#000" stroke-width="0.25">5</text><text transform="translate(1101.45 516.6) scale(1 1.06)" font-size="16.6" text-anchor="middle" stroke="#000" stroke-width="0.25">6</text><text transform="translate(1161 516.6) scale(1 1.06)" font-size="16.6" text-anchor="middle" stroke="#000" stroke-width="0.25">7</text><text transform="translate(1220.55 516.6) scale(1 1.06)" font-size="16.6" text-anchor="middle" stroke="#000" stroke-width="0.25">8</text><text x="997" y="535.8" font-size="20" font-weight="bold" text-anchor="middle">t/T</text><text transform="translate(708.8 315.6) rotate(-90)" font-size="20" font-weight="bold">F<tspan font-size="11" font-weight="normal" dy="6.3">x</tspan><tspan dy="-6.3" font-weight="normal">/</tspan>ρgD<tspan font-size="12.8" font-weight="normal" dx="1.1" dy="-9.6">3</tspan></text><path d="M1052.6 79.5H1128.9" stroke="#00c800" stroke-width="2.6"/><path d="M1052.6 100H1128.9" stroke="#c00000" stroke-width="2.0" stroke-dasharray="12 11.7"/><path d="M1052.6 120.4H1128.9" stroke="#1010fa" stroke-width="2.5" stroke-dasharray="11.8 4.4 2.9 4.6"/><text x="1142" y="84.5" font-size="16.6" font-weight="bold">Experiment</text><text x="1142" y="104.7" font-size="16.6" font-weight="bold">CFD</text><text x="1142" y="124.9" font-size="16.6" font-weight="bold">Morison</text><text x="994" y="627.8" font-size="49.8" font-weight="bold" text-anchor="middle">(b) Case 2</text></g>
<g><rect x="1.5" y="671.5" width="633" height="562" fill="none" stroke="#646464" stroke-width="1"/><path d="M97.93 738.8V1170.2 M127.7 738.8V1170.2 M157.47 738.8V1170.2 M187.25 738.8V1170.2 M217.02 738.8V1170.2 M246.8 738.8V1170.2 M276.57 738.8V1170.2 M306.35 738.8V1170.2 M336.12 738.8V1170.2 M365.9 738.8V1170.2 M395.67 738.8V1170.2 M425.45 738.8V1170.2 M455.22 738.8V1170.2 M485 738.8V1170.2 M514.77 738.8V1170.2 M544.55 738.8V1170.2 M83.5 1111.37H558.3 M83.5 1032.94H558.3 M83.5 954.5H558.3 M83.5 876.06H558.3 M83.5 797.63H558.3" stroke="#e4e4e4" stroke-width="1" fill="none"/><path d="M83.63 949.98 L84.11 943.98 L84.58 937.99 L85.06 932.04 L85.53 926.12 L86.01 920.26 L86.48 914.45 L86.96 908.72 L87.43 903.07 L87.90 897.51 L88.38 892.05 L88.85 886.71 L89.33 881.50 L89.80 876.42 L90.28 871.48 L90.75 866.71 L91.23 862.10 L91.70 857.68 L92.18 853.44 L92.65 849.40 L93.13 845.57 L93.60 841.96 L94.07 838.58 L94.55 835.43 L95.02 832.53 L95.50 829.88 L95.97 827.49 L96.45 825.36 L96.92 823.50 L97.40 821.92 L97.87 820.61 L98.35 819.58 L98.82 820.40 L99.30 821.66 L99.77 823.21 L100.24 825.03 L100.72 827.14 L101.19 829.53 L101.67 832.18 L102.14 835.11 L102.62 838.30 L103.09 841.74 L103.57 845.43 L104.04 849.36 L104.52 853.52 L104.99 857.90 L105.47 862.49 L105.94 867.28 L106.41 872.26 L106.89 877.41 L107.36 882.73 L107.84 888.21 L108.31 893.82 L108.79 899.57 L109.26 905.42 L109.74 911.39 L110.21 917.44 L110.69 923.56 L111.16 929.76 L111.64 936.00 L112.11 942.28 L112.58 948.59 L113.06 954.91 L113.53 961.22 L114.01 967.53 L114.48 973.83 L114.96 980.09 L115.43 986.32 L115.91 992.51 L116.38 998.63 L116.86 1004.69 L117.33 1010.67 L117.81 1016.56 L118.28 1022.34 L118.75 1027.99 L119.23 1033.51 L119.70 1038.87 L120.18 1044.05 L120.65 1049.05 L121.13 1053.84 L121.60 1058.40 L122.08 1062.72 L122.55 1066.77 L123.03 1070.55 L123.50 1074.03 L123.98 1077.20 L124.45 1080.04 L124.92 1082.55 L125.40 1084.71 L125.87 1086.52 L126.35 1087.95 L126.82 1089.02 L127.30 1089.72 L127.77 1089.94 L128.25 1089.46 L128.72 1088.60 L129.20 1087.38 L129.67 1085.80 L130.15 1083.87 L130.62 1081.60 L131.09 1079.00 L131.57 1076.09 L132.04 1072.88 L132.52 1069.39 L132.99 1065.62 L133.47 1061.60 L133.94 1057.35 L134.42 1052.88 L134.89 1048.22 L135.37 1043.36 L135.84 1038.34 L136.32 1033.18 L136.79 1027.87 L137.26 1022.45 L137.74 1016.92 L138.21 1011.29 L138.69 1005.59 L139.16 999.82 L139.64 993.98 L140.11 988.10 L140.59 982.18 L141.06 976.23 L141.54 970.25 L142.01 964.26 L142.49 958.25 L142.96 952.24 L143.43 946.23 L143.91 940.24 L144.38 934.27 L144.86 928.34 L145.33 922.44 L145.81 916.60 L146.28 910.83 L146.76 905.13 L147.23 899.51 L147.71 893.99 L148.18 888.58 L148.66 883.28 L149.13 878.12 L149.60 873.09 L150.08 868.21 L150.55 863.49 L151.03 858.95 L151.50 854.59 L151.98 850.43 L152.45 846.47 L152.93 842.73 L153.40 839.21 L153.88 835.93 L154.35 832.89 L154.83 830.10 L155.30 827.58 L155.77 825.31 L156.25 823.33 L156.72 821.61 L157.20 820.18 L157.67 819.04 L158.15 819.10 L158.62 820.27 L159.10 821.72 L159.57 823.47 L160.05 825.50 L160.52 827.82 L161.00 830.41 L161.47 833.28 L161.94 836.41 L162.42 839.81 L162.89 843.46 L163.37 847.35 L163.84 851.47 L164.32 855.82 L164.79 860.39 L165.27 865.15 L165.74 870.11 L166.22 875.24 L166.69 880.54 L167.16 885.99 L167.64 891.59 L168.11 897.31 L168.59 903.15 L169.06 909.09 L169.54 915.12 L170.01 921.23 L170.49 927.41 L170.96 933.64 L171.44 939.91 L171.91 946.21 L172.39 952.53 L172.86 958.85 L173.33 965.16 L173.81 971.47 L174.28 977.75 L174.76 984.01 L175.23 990.23 L175.71 996.40 L176.18 1002.52 L176.66 1008.58 L177.13 1014.55 L177.61 1020.43 L178.08 1026.20 L178.56 1031.84 L179.03 1037.35 L179.50 1042.69 L179.98 1047.86 L180.45 1052.83 L180.93 1057.58 L181.40 1062.10 L181.88 1066.36 L182.35 1070.34 L182.83 1074.03 L183.30 1077.42 L183.78 1080.48 L184.25 1083.19 L184.73 1085.56 L185.20 1087.56 L185.67 1089.18 L186.15 1090.43 L186.62 1091.29 L187.10 1091.76 L187.57 1091.48 L188.05 1090.74 L188.52 1089.62 L189.00 1088.13 L189.47 1086.27 L189.95 1084.07 L190.42 1081.51 L190.90 1078.63 L191.37 1075.44 L191.84 1071.96 L192.32 1068.19 L192.79 1064.17 L193.27 1059.90 L193.74 1055.41 L194.22 1050.72 L194.69 1045.83 L195.17 1040.79 L195.64 1035.59 L196.12 1030.25 L196.59 1024.80 L197.07 1019.25 L197.54 1013.60 L198.01 1007.88 L198.49 1002.09 L198.96 996.25 L199.44 990.36 L199.91 984.44 L200.39 978.48 L200.86 972.51 L201.34 966.51 L201.81 960.51 L202.29 954.50 L202.76 948.49 L203.24 942.49 L203.71 936.51 L204.18 930.55 L204.66 924.64 L205.13 918.76 L205.61 912.95 L206.08 907.20 L206.56 901.52 L207.03 895.93 L207.51 890.44 L207.98 885.05 L208.46 879.78 L208.93 874.65 L209.41 869.65 L209.88 864.81 L210.35 860.14 L210.83 855.64 L211.30 851.33 L211.78 847.22 L212.25 843.32 L212.73 839.65 L213.20 836.21 L213.68 833.01 L214.15 830.07 L214.63 827.38 L215.10 824.97 L215.58 822.84 L216.05 820.98 L216.52 819.42 L217.00 818.15 L217.47 817.44 L217.95 818.51 L218.42 819.88 L218.90 821.55 L219.37 823.51 L219.85 825.77 L220.32 828.31 L220.80 831.13 L221.27 834.23 L221.75 837.60 L222.22 841.23 L222.69 845.10 L223.17 849.21 L223.64 853.56 L224.12 858.11 L224.59 862.87 L225.07 867.82 L225.54 872.95 L226.02 878.25 L226.49 883.70 L226.97 889.29 L227.44 895.01 L227.92 900.84 L228.39 906.77 L228.86 912.80 L229.34 918.90 L229.81 925.06 L230.29 931.29 L230.76 937.55 L231.24 943.84 L231.71 950.15 L232.19 956.47 L232.66 962.79 L233.14 969.10 L233.61 975.39 L234.09 981.66 L234.56 987.89 L235.03 994.09 L235.51 1000.23 L235.98 1006.31 L236.46 1012.31 L236.93 1018.23 L237.41 1024.04 L237.88 1029.74 L238.36 1035.30 L238.83 1040.70 L239.31 1045.94 L239.78 1050.98 L240.26 1055.82 L240.73 1060.43 L241.20 1064.78 L241.68 1068.88 L242.15 1072.68 L242.63 1076.18 L243.10 1079.36 L243.58 1082.21 L244.05 1084.71 L244.53 1086.85 L245.00 1088.62 L245.48 1090.00 L245.95 1091.01 L246.43 1091.63 L246.90 1091.65 L247.37 1091.06 L247.85 1090.09 L248.32 1088.73 L248.80 1087.02 L249.27 1084.94 L249.75 1082.51 L250.22 1079.76 L250.70 1076.68 L251.17 1073.30 L251.65 1069.64 L252.12 1065.71 L252.60 1061.53 L253.07 1057.12 L253.54 1052.50 L254.02 1047.69 L254.49 1042.70 L254.97 1037.56 L255.44 1032.27 L255.92 1026.87 L256.39 1021.35 L256.87 1015.74 L257.34 1010.04 L257.82 1004.28 L258.29 998.46 L258.77 992.58 L259.24 986.67 L259.71 980.73 L260.19 974.76 L260.66 968.77 L261.14 962.77 L261.61 956.76 L262.09 950.75 L262.56 944.75 L263.04 938.76 L263.51 932.79 L263.99 926.85 L264.46 920.96 L264.94 915.11 L265.41 909.33 L265.88 903.61 L266.36 897.98 L266.83 892.43 L267.31 886.99 L267.78 881.66 L268.26 876.45 L268.73 871.38 L269.21 866.46 L269.68 861.69 L270.16 857.10 L270.63 852.69 L271.11 848.47 L271.58 844.47 L272.05 840.68 L272.53 837.13 L273.00 833.81 L273.48 830.75 L273.95 827.94 L274.43 825.41 L274.90 823.15 L275.38 821.17 L275.85 819.49 L276.33 818.10 L276.80 817.00 L277.28 817.58 L277.75 818.84 L278.22 820.41 L278.70 822.27 L279.17 824.44 L279.65 826.89 L280.12 829.63 L280.60 832.65 L281.07 835.95 L281.55 839.50 L282.02 843.31 L282.50 847.37 L282.97 851.65 L283.45 856.16 L283.92 860.87 L284.39 865.78 L284.87 870.87 L285.34 876.13 L285.82 881.54 L286.29 887.10 L286.77 892.79 L287.24 898.59 L287.72 904.50 L288.19 910.50 L288.67 916.58 L289.14 922.73 L289.62 928.94 L290.09 935.19 L290.56 941.47 L291.04 947.78 L291.51 954.09 L291.99 960.41 L292.46 966.73 L292.94 973.03 L293.41 979.32 L293.89 985.59 L294.36 991.83 L294.84 998.03 L295.31 1004.18 L295.79 1010.27 L296.26 1016.29 L296.73 1022.23 L297.21 1028.06 L297.68 1033.78 L298.16 1039.36 L298.63 1044.78 L299.11 1050.03 L299.58 1055.08 L300.06 1059.91 L300.53 1064.51 L301.01 1068.84 L301.48 1072.89 L301.96 1076.64 L302.43 1080.07 L302.90 1083.16 L303.38 1085.90 L303.85 1088.26 L304.33 1090.25 L304.80 1091.84 L305.28 1093.04 L305.75 1093.83 L306.23 1094.18 L306.70 1093.72 L307.18 1092.85 L307.65 1091.59 L308.13 1089.95 L308.60 1087.92 L309.07 1085.53 L309.55 1082.80 L310.02 1079.72 L310.50 1076.34 L310.97 1072.65 L311.45 1068.68 L311.92 1064.46 L312.40 1060.00 L312.87 1055.33 L313.35 1050.45 L313.82 1045.40 L314.30 1040.20 L314.77 1034.85 L315.24 1029.39 L315.72 1023.82 L316.19 1018.16 L316.67 1012.42 L317.14 1006.62 L317.62 1000.77 L318.09 994.88 L318.57 988.95 L319.04 983.00 L319.52 977.02 L319.99 971.03 L320.47 965.03 L320.94 959.02 L321.41 953.01 L321.89 947.00 L322.36 941.00 L322.84 935.02 L323.31 929.06 L323.79 923.13 L324.26 917.24 L324.74 911.40 L325.21 905.62 L325.69 899.90 L326.16 894.25 L326.64 888.70 L327.11 883.24 L327.58 877.89 L328.06 872.66 L328.53 867.57 L329.01 862.63 L329.48 857.84 L329.96 853.23 L330.43 848.81 L330.91 844.59 L331.38 840.59 L331.86 836.82 L332.33 833.28 L332.81 830.00 L333.28 826.99 L333.75 824.25 L334.23 821.80 L334.70 819.64 L335.18 817.78 L335.65 816.23 L336.13 814.99 L336.60 814.79 L337.08 815.97 L337.55 817.47 L338.03 819.28 L338.50 821.41 L338.98 823.84 L339.45 826.58 L339.92 829.61 L340.40 832.92 L340.87 836.51 L341.35 840.36 L341.82 844.45 L342.30 848.79 L342.77 853.35 L343.25 858.12 L343.72 863.08 L344.20 868.23 L344.67 873.54 L345.15 879.00 L345.62 884.60 L346.09 890.33 L346.57 896.16 L347.04 902.10 L347.52 908.12 L347.99 914.21 L348.47 920.36 L348.94 926.57 L349.42 932.82 L349.89 939.10 L350.37 945.40 L350.84 951.72 L351.32 958.04 L351.79 964.36 L352.26 970.67 L352.74 976.97 L353.21 983.25 L353.69 989.51 L354.16 995.75 L354.64 1001.94 L355.11 1008.09 L355.59 1014.17 L356.06 1020.18 L356.54 1026.10 L357.01 1031.92 L357.48 1037.61 L357.96 1043.16 L358.43 1048.55 L358.91 1053.75 L359.38 1058.74 L359.86 1063.50 L360.33 1068.01 L360.81 1072.25 L361.28 1076.18 L361.76 1079.80 L362.23 1083.09 L362.71 1086.02 L363.18 1088.58 L363.65 1090.75 L364.13 1092.53 L364.60 1093.91 L365.08 1094.87 L365.55 1095.42 L366.03 1095.23 L366.50 1094.51 L366.98 1093.37 L367.45 1091.84 L367.93 1089.92 L368.40 1087.62 L368.88 1084.95 L369.35 1081.94 L369.82 1078.61 L370.30 1074.96 L370.77 1071.03 L371.25 1066.83 L371.72 1062.38 L372.20 1057.71 L372.67 1052.84 L373.15 1047.78 L373.62 1042.57 L374.10 1037.21 L374.57 1031.73 L375.05 1026.15 L375.52 1020.47 L375.99 1014.73 L376.47 1008.91 L376.94 1003.05 L377.42 997.15 L377.89 991.22 L378.37 985.26 L378.84 979.28 L379.32 973.29 L379.79 967.29 L380.27 961.28 L380.74 955.27 L381.22 949.26 L381.69 943.26 L382.16 937.27 L382.64 931.29 L383.11 925.34 L383.59 919.42 L384.06 913.55 L384.54 907.72 L385.01 901.95 L385.49 896.24 L385.96 890.62 L386.44 885.08 L386.91 879.64 L387.39 874.31 L387.86 869.10 L388.33 864.04 L388.81 859.13 L389.28 854.38 L389.76 849.82 L390.23 845.45 L390.71 841.29 L391.18 837.36 L391.66 833.66 L392.13 830.22 L392.61 827.04 L393.08 824.14 L393.56 821.53 L394.03 819.22 L394.50 817.21 L394.98 815.51 L395.45 814.13 L395.93 813.12 L396.40 814.20 L396.88 815.60 L397.35 817.33 L397.83 819.37 L398.30 821.74 L398.78 824.41 L399.25 827.39 L399.73 830.66 L400.20 834.22 L400.67 838.04 L401.15 842.12 L401.62 846.44 L402.10 850.99 L402.57 855.76 L403.05 860.72 L403.52 865.87 L404.00 871.18 L404.47 876.65 L404.95 882.25 L405.42 887.98 L405.90 893.82 L406.37 899.75 L406.84 905.77 L407.32 911.86 L407.79 918.01 L408.27 924.21 L408.74 930.45 L409.22 936.73 L409.69 943.03 L410.17 949.34 L410.64 955.66 L411.12 961.98 L411.59 968.29 L412.07 974.60 L412.54 980.90 L413.01 987.17 L413.49 993.42 L413.96 999.64 L414.44 1005.82 L414.91 1011.95 L415.39 1018.00 L415.86 1023.98 L416.34 1029.86 L416.81 1035.63 L417.29 1041.27 L417.76 1046.75 L418.24 1052.05 L418.71 1057.16 L419.18 1062.05 L419.66 1066.69 L420.13 1071.06 L420.61 1075.15 L421.08 1078.92 L421.56 1082.37 L422.03 1085.46 L422.51 1088.19 L422.98 1090.53 L423.46 1092.48 L423.93 1094.02 L424.41 1095.15 L424.88 1095.86 L425.35 1096.00 L425.83 1095.42 L426.30 1094.43 L426.78 1093.03 L427.25 1091.24 L427.73 1089.06 L428.20 1086.51 L428.68 1083.60 L429.15 1080.36 L429.63 1076.79 L430.10 1072.93 L430.58 1068.80 L431.05 1064.40 L431.52 1059.78 L432.00 1054.95 L432.47 1049.93 L432.95 1044.74 L433.42 1039.41 L433.90 1033.94 L434.37 1028.37 L434.85 1022.71 L435.32 1016.97 L435.80 1011.16 L436.27 1005.30 L436.75 999.40 L437.22 993.47 L437.69 987.51 L438.17 981.54 L438.64 975.55 L439.12 969.55 L439.59 963.54 L440.07 957.53 L440.54 951.52 L441.02 945.52 L441.49 939.52 L441.97 933.54 L442.44 927.59 L442.92 921.67 L443.39 915.79 L443.86 909.96 L444.34 904.19 L444.81 898.49 L445.29 892.87 L445.76 887.34 L446.24 881.90 L446.71 876.58 L447.19 871.39 L447.66 866.33 L448.14 861.43 L448.61 856.68 L449.09 852.12 L449.56 847.75 L450.03 843.58 L450.51 839.63 L450.98 835.92 L451.46 832.45 L451.93 829.23 L452.41 826.28 L452.88 823.62 L453.36 821.24 L453.83 819.15 L454.31 817.37 L454.78 815.89 L455.26 814.73 L455.73 815.05 L456.20 816.31 L456.68 817.89 L457.15 819.78 L457.63 821.98 L458.10 824.49 L458.58 827.30 L459.05 830.40 L459.53 833.78 L460.00 837.44 L460.48 841.35 L460.95 845.51 L461.43 849.90 L461.90 854.51 L462.37 859.33 L462.85 864.34 L463.32 869.53 L463.80 874.88 L464.27 880.38 L464.75 886.01 L465.22 891.76 L465.70 897.62 L466.17 903.58 L466.65 909.62 L467.12 915.73 L467.60 921.90 L468.07 928.11 L468.54 934.37 L469.02 940.66 L469.49 946.97 L469.97 953.28 L470.44 959.60 L470.92 965.92 L471.39 972.21 L471.87 978.49 L472.34 984.73 L472.82 990.92 L473.29 997.07 L473.77 1003.14 L474.24 1009.15 L474.71 1015.06 L475.19 1020.86 L475.66 1026.55 L476.14 1032.10 L476.61 1037.51 L477.09 1042.74 L477.56 1047.79 L478.04 1052.63 L478.51 1057.25 L478.99 1061.63 L479.46 1065.76 L479.94 1069.61 L480.41 1073.16 L480.88 1076.41 L481.36 1079.34 L481.83 1081.94 L482.31 1084.19 L482.78 1086.09 L483.26 1087.62 L483.73 1088.78 L484.21 1089.58 L484.68 1089.99 L485.16 1089.62 L485.63 1088.86 L486.11 1087.73 L486.58 1086.24 L487.05 1084.40 L487.53 1082.22 L488.00 1079.70 L488.48 1076.87 L488.95 1073.73 L489.43 1070.31 L489.90 1066.61 L490.38 1062.66 L490.85 1058.47 L491.33 1054.05 L491.80 1049.43 L492.28 1044.63 L492.75 1039.65 L493.22 1034.52 L493.70 1029.25 L494.17 1023.85 L494.65 1018.35 L495.12 1012.75 L495.60 1007.06 L496.07 1001.31 L496.55 995.49 L497.02 989.62 L497.50 983.71 L497.97 977.76 L498.45 971.79 L498.92 965.80 L499.39 959.79 L499.87 953.78 L500.34 947.78 L500.82 941.78 L501.29 935.82 L501.77 929.89 L502.24 924.02 L502.72 918.21 L503.19 912.48 L503.67 906.84 L504.14 901.30 L504.62 895.87 L505.09 890.57 L505.56 885.40 L506.04 880.37 L506.51 875.50 L506.99 870.80 L507.46 866.26 L507.94 861.91 L508.41 857.75 L508.89 853.79 L509.36 850.03 L509.84 846.49 L510.31 843.16 L510.79 840.06 L511.26 837.19 L511.73 834.55 L512.21 832.16 L512.68 830.00 L513.16 828.09 L513.63 826.43 L514.11 825.03 L514.58 823.88 L515.06 823.44 L515.53 824.48 L516.01 825.78 L516.48 827.34 L516.96 829.15 L517.43 831.23 L517.90 833.56 L518.38 836.15 L518.85 838.98 L519.33 842.07 L519.80 845.40 L520.28 848.97 L520.75 852.77 L521.23 856.80 L521.70 861.06 L522.18 865.52 L522.65 870.19 L523.13 875.06 L523.60 880.11 L524.07 885.34 L524.55 890.74 L525.02 896.29 L525.50 901.98 L525.97 907.79 L526.45 913.72 L526.92 919.76 L527.40 925.88 L527.87 932.06 L528.35 938.31 L528.82 944.60 L529.30 950.91 L529.77 957.23 L530.24 963.54 L530.72 969.83 L531.19 976.09 L531.67 982.30 L532.14 988.45 L532.62 994.52 L533.09 1000.49 L533.57 1006.37 L534.04 1012.12 L534.52 1017.74 L534.99 1023.20 L535.47 1028.51 L535.94 1033.64 L536.41 1038.58 L536.89 1043.32 L537.36 1047.84 L537.84 1052.13 L538.31 1056.18 L538.79 1059.97 L539.26 1063.51 L539.74 1066.77 L540.21 1069.75 L540.69 1072.43 L541.16 1074.82 L541.64 1076.90 L542.11 1078.68 L542.58 1080.13 L543.06 1081.27 L543.53 1082.09 L544.01 1082.59 L544.48 1082.52 L544.96 1081.97 L545.43 1081.10 L545.91 1079.92 L546.38 1078.43 L546.86 1076.63 L547.33 1074.54 L547.81 1072.16 L548.28 1069.50 L548.75 1066.57 L549.23 1063.37 L549.70 1059.92 L550.18 1056.23 L550.65 1052.31 L551.13 1048.17 L551.60 1043.82 L552.08 1039.27 L552.55 1034.55 L553.03 1029.65 L553.50 1024.60 L553.97 1019.40 L554.45 1014.06 L554.92 1008.61 L555.40 1003.04 L555.87 997.38 L556.35 991.63 L556.82 985.82 L557.30 979.94 L557.77 974.01 L558.25 968.04" stroke="#00c800" stroke-width="2.1" fill="none" stroke-linejoin="round"/><path d="M83.63 949.98 L84.11 943.98 L84.58 937.99 L85.06 932.04 L85.53 926.12 L86.01 920.26 L86.48 914.45 L86.96 908.72 L87.43 903.07 L87.90 897.51 L88.38 892.05 L88.85 886.71 L89.33 881.50 L89.80 876.42 L90.28 871.48 L90.75 866.71 L91.23 862.10 L91.70 857.68 L92.18 853.44 L92.65 849.40 L93.13 845.57 L93.60 841.96 L94.07 838.58 L94.55 835.43 L95.02 832.53 L95.50 829.88 L95.97 827.49 L96.45 825.36 L96.92 823.50 L97.40 821.92 L97.87 820.61 L98.35 819.58 L98.82 820.40 L99.30 821.66 L99.77 823.21 L100.24 825.03 L100.72 827.14 L101.19 829.53 L101.67 832.18 L102.14 835.11 L102.62 838.30 L103.09 841.74 L103.57 845.43 L104.04 849.36 L104.52 853.52 L104.99 857.90 L105.47 862.49 L105.94 867.28 L106.41 872.26 L106.89 877.41 L107.36 882.73 L107.84 888.21 L108.31 893.82 L108.79 899.57 L109.26 905.42 L109.74 911.39 L110.21 917.44 L110.69 923.56 L111.16 929.76 L111.64 936.00 L112.11 942.28 L112.58 948.59 L113.06 954.91 L113.53 961.22 L114.01 967.53 L114.48 973.82 L114.96 980.08 L115.43 986.29 L115.91 992.46 L116.38 998.55 L116.86 1004.58 L117.33 1010.51 L117.81 1016.34 L118.28 1022.06 L118.75 1027.64 L119.23 1033.08 L119.70 1038.35 L120.18 1043.45 L120.65 1048.35 L121.13 1053.03 L121.60 1057.49 L122.08 1061.70 L122.55 1065.65 L123.03 1069.33 L123.50 1072.71 L123.98 1075.79 L124.45 1078.55 L124.92 1080.98 L125.40 1083.07 L125.87 1084.82 L126.35 1086.21 L126.82 1087.25 L127.30 1087.92 L127.77 1088.14 L128.25 1087.67 L128.72 1086.84 L129.20 1085.66 L129.67 1084.13 L130.15 1082.26 L130.62 1080.06 L131.09 1077.54 L131.57 1074.72 L132.04 1071.60 L132.52 1068.20 L132.99 1064.53 L133.47 1060.62 L133.94 1056.47 L134.42 1052.10 L134.89 1047.53 L135.37 1042.77 L135.84 1037.84 L136.32 1032.75 L136.79 1027.53 L137.26 1022.17 L137.74 1016.70 L138.21 1011.13 L138.69 1005.47 L139.16 999.73 L139.64 993.93 L140.11 988.07 L140.59 982.16 L141.06 976.22 L141.54 970.25 L142.01 964.25 L142.49 958.25 L142.96 952.24 L143.43 946.23 L143.91 940.25 L144.38 934.29 L144.86 928.37 L145.33 922.50 L145.81 916.70 L146.28 910.98 L146.76 905.35 L147.23 899.81 L147.71 894.39 L148.18 889.09 L148.66 883.92 L149.13 878.89 L149.60 874.02 L150.08 869.31 L150.55 864.77 L151.03 860.42 L151.50 856.26 L151.98 852.29 L152.45 848.53 L152.93 844.99 L153.40 841.66 L153.88 838.57 L154.35 835.71 L154.83 833.09 L155.30 830.71 L155.77 828.58 L156.25 826.70 L156.72 825.09 L157.20 823.72 L157.67 822.63 L158.15 822.69 L158.62 823.80 L159.10 825.19 L159.57 826.84 L160.05 828.76 L160.52 830.94 L161.00 833.38 L161.47 836.07 L161.94 839.03 L162.42 842.23 L162.89 845.68 L163.37 849.36 L163.84 853.28 L164.32 857.43 L164.79 861.79 L165.27 866.36 L165.74 871.14 L166.22 876.10 L166.69 881.24 L167.16 886.56 L167.64 892.03 L168.11 897.64 L168.59 903.39 L169.06 909.26 L169.54 915.23 L170.01 921.30 L170.49 927.45 L170.96 933.66 L171.44 939.92 L171.91 946.21 L172.39 952.53 L172.86 958.85 L173.33 965.16 L173.81 971.45 L174.28 977.71 L174.76 983.93 L175.23 990.10 L175.71 996.20 L176.18 1002.22 L176.66 1008.14 L177.13 1013.96 L177.61 1019.66 L178.08 1025.22 L178.56 1030.64 L179.03 1035.89 L179.50 1040.95 L179.98 1045.83 L180.45 1050.49 L180.93 1054.93 L181.40 1059.12 L181.88 1063.06 L182.35 1066.73 L182.83 1070.12 L183.30 1073.22 L183.78 1076.00 L184.25 1078.47 L184.73 1080.62 L185.20 1082.43 L185.67 1083.91 L186.15 1085.04 L186.62 1085.83 L187.10 1086.26 L187.57 1086.00 L188.05 1085.32 L188.52 1084.31 L189.00 1082.95 L189.47 1081.27 L189.95 1079.27 L190.42 1076.95 L190.90 1074.33 L191.37 1071.41 L191.84 1068.22 L192.32 1064.76 L192.79 1061.04 L193.27 1057.08 L193.74 1052.90 L194.22 1048.51 L194.69 1043.92 L195.17 1039.15 L195.64 1034.21 L196.12 1029.11 L196.59 1023.88 L197.07 1018.52 L197.54 1013.04 L198.01 1007.46 L198.49 1001.79 L198.96 996.05 L199.44 990.23 L199.91 984.36 L200.39 978.44 L200.86 972.49 L201.34 966.51 L201.81 960.51 L202.29 954.50 L202.76 948.49 L203.24 942.49 L203.71 936.52 L204.18 930.58 L204.66 924.69 L205.13 918.85 L205.61 913.08 L206.08 907.39 L206.56 901.79 L207.03 896.29 L207.51 890.91 L207.98 885.65 L208.46 880.52 L208.93 875.54 L209.41 870.72 L209.88 866.06 L210.35 861.57 L210.83 857.27 L211.30 853.16 L211.78 849.26 L212.25 845.57 L212.73 842.09 L213.20 838.85 L213.68 835.84 L214.15 833.07 L214.63 830.55 L215.10 828.28 L215.58 826.27 L216.05 824.52 L216.52 823.03 L217.00 821.82 L217.47 821.14 L217.95 822.17 L218.42 823.47 L218.90 825.05 L219.37 826.90 L219.85 829.03 L220.32 831.42 L220.80 834.08 L221.27 836.99 L221.75 840.17 L222.22 843.59 L222.69 847.25 L223.17 851.15 L223.64 855.28 L224.12 859.63 L224.59 864.19 L225.07 868.95 L225.54 873.90 L226.02 879.03 L226.49 884.33 L226.97 889.79 L227.44 895.39 L227.92 901.12 L228.39 906.97 L228.86 912.93 L229.34 918.98 L229.81 925.11 L230.29 931.31 L230.76 937.56 L231.24 943.84 L231.71 950.15 L232.19 956.47 L232.66 962.79 L233.14 969.09 L233.61 975.37 L234.09 981.62 L234.56 987.82 L235.03 993.97 L235.51 1000.05 L235.98 1006.06 L236.46 1011.97 L236.93 1017.77 L237.41 1023.46 L237.88 1029.01 L238.36 1034.40 L238.83 1039.63 L239.31 1044.68 L239.78 1049.53 L240.26 1054.16 L240.73 1058.56 L241.20 1062.71 L241.68 1066.59 L242.15 1070.19 L242.63 1073.50 L243.10 1076.50 L243.58 1079.18 L244.05 1081.53 L244.53 1083.54 L245.00 1085.20 L245.48 1086.50 L245.95 1087.45 L246.43 1088.04 L246.90 1088.06 L247.37 1087.50 L247.85 1086.58 L248.32 1085.31 L248.80 1083.70 L249.27 1081.74 L249.75 1079.46 L250.22 1076.87 L250.70 1073.97 L251.17 1070.78 L251.65 1067.31 L252.12 1063.59 L252.60 1059.61 L253.07 1055.41 L253.54 1050.99 L254.02 1046.37 L254.49 1041.57 L254.97 1036.59 L255.44 1031.47 L255.92 1026.21 L256.39 1020.82 L256.87 1015.33 L257.34 1009.73 L257.82 1004.05 L258.29 998.30 L258.77 992.48 L259.24 986.61 L259.71 980.69 L260.19 974.74 L260.66 968.76 L261.14 962.77 L261.61 956.76 L262.09 950.75 L262.56 944.75 L263.04 938.77 L263.51 932.82 L263.99 926.91 L264.46 921.06 L264.94 915.28 L265.41 909.58 L265.88 903.96 L266.36 898.46 L266.83 893.06 L267.31 887.79 L267.78 882.66 L268.26 877.67 L268.73 872.84 L269.21 868.17 L269.68 863.68 L270.16 859.37 L270.63 855.25 L271.11 851.34 L271.58 847.63 L272.05 844.14 L272.53 840.88 L273.00 837.84 L273.48 835.04 L273.95 832.47 L274.43 830.16 L274.90 828.09 L275.38 826.28 L275.85 824.72 L276.33 823.43 L276.80 822.39 L277.28 822.94 L277.75 824.12 L278.22 825.57 L278.70 827.29 L279.17 829.27 L279.65 831.52 L280.12 834.02 L280.60 836.78 L281.07 839.80 L281.55 843.06 L282.02 846.57 L282.50 850.31 L282.97 854.29 L283.45 858.49 L283.92 862.91 L284.39 867.53 L284.87 872.35 L285.34 877.36 L285.82 882.54 L286.29 887.90 L286.77 893.40 L287.24 899.05 L287.72 904.83 L288.19 910.73 L288.67 916.73 L289.14 922.82 L289.62 928.98 L290.09 935.21 L290.56 941.48 L291.04 947.78 L291.51 954.09 L291.99 960.41 L292.46 966.72 L292.94 973.01 L293.41 979.27 L293.89 985.50 L294.36 991.67 L294.84 997.78 L295.31 1003.81 L295.79 1009.76 L296.26 1015.60 L296.73 1021.33 L297.21 1026.93 L297.68 1032.39 L298.16 1037.69 L298.63 1042.81 L299.11 1047.73 L299.58 1052.45 L300.06 1056.93 L300.53 1061.18 L301.01 1065.16 L301.48 1068.87 L301.96 1072.29 L302.43 1075.41 L302.90 1078.21 L303.38 1080.69 L303.85 1082.82 L304.33 1084.61 L304.80 1086.05 L305.28 1087.14 L305.75 1087.86 L306.23 1088.18 L306.70 1087.75 L307.18 1086.97 L307.65 1085.83 L308.13 1084.34 L308.60 1082.52 L309.07 1080.36 L309.55 1077.88 L310.02 1075.10 L310.50 1072.01 L310.97 1068.65 L311.45 1065.02 L311.92 1061.14 L312.40 1057.02 L312.87 1052.67 L313.35 1048.13 L313.82 1043.39 L314.30 1038.48 L314.77 1033.42 L315.24 1028.20 L315.72 1022.86 L316.19 1017.41 L316.67 1011.85 L317.14 1006.20 L317.62 1000.47 L318.09 994.68 L318.57 988.82 L319.04 982.92 L319.52 976.98 L319.99 971.02 L320.47 965.02 L320.94 959.02 L321.41 953.01 L321.89 947.00 L322.36 941.01 L322.84 935.04 L323.31 929.11 L323.79 923.23 L324.26 917.40 L324.74 911.64 L325.21 905.96 L325.69 900.37 L326.16 894.89 L326.64 889.51 L327.11 884.26 L327.58 879.15 L328.06 874.18 L328.53 869.37 L329.01 864.72 L329.48 860.25 L329.96 855.96 L330.43 851.87 L330.91 847.99 L331.38 844.31 L331.86 840.86 L332.33 837.65 L332.81 834.66 L333.28 831.93 L333.75 829.44 L334.23 827.21 L334.70 825.25 L335.18 823.55 L335.65 822.12 L336.13 820.96 L336.60 820.77 L337.08 821.87 L337.55 823.26 L338.03 824.92 L338.50 826.86 L338.98 829.07 L339.45 831.56 L339.92 834.30 L340.40 837.32 L340.87 840.58 L341.35 844.10 L341.82 847.86 L342.30 851.85 L342.77 856.07 L343.25 860.50 L343.72 865.15 L344.20 869.99 L344.67 875.01 L345.15 880.21 L345.62 885.57 L346.09 891.09 L346.57 896.74 L347.04 902.52 L347.52 908.41 L347.99 914.40 L348.47 920.48 L348.94 926.64 L349.42 932.85 L349.89 939.11 L350.37 945.40 L350.84 951.72 L351.32 958.04 L351.79 964.35 L352.26 970.65 L352.74 976.92 L353.21 983.16 L353.69 989.35 L354.16 995.49 L354.64 1001.55 L355.11 1007.53 L355.59 1013.42 L356.06 1019.19 L356.54 1024.84 L357.01 1030.36 L357.48 1035.72 L357.96 1040.90 L358.43 1045.90 L358.91 1050.70 L359.38 1055.27 L359.86 1059.61 L360.33 1063.70 L360.81 1067.51 L361.28 1071.04 L361.76 1074.27 L362.23 1077.20 L362.71 1079.79 L363.18 1082.06 L363.65 1083.98 L364.13 1085.55 L364.60 1086.77 L365.08 1087.63 L365.55 1088.13 L366.03 1087.95 L366.50 1087.30 L366.98 1086.30 L367.45 1084.94 L367.93 1083.24 L368.40 1081.21 L368.88 1078.85 L369.35 1076.18 L369.82 1073.21 L370.30 1069.95 L370.77 1066.42 L371.25 1062.62 L371.72 1058.59 L372.20 1054.33 L372.67 1049.86 L373.15 1045.19 L373.62 1040.35 L374.10 1035.34 L374.57 1030.18 L375.05 1024.89 L375.52 1019.47 L375.99 1013.95 L376.47 1008.33 L376.94 1002.63 L377.42 996.86 L377.89 991.03 L378.37 985.15 L378.84 979.22 L379.32 973.26 L379.79 967.28 L380.27 961.28 L380.74 955.27 L381.22 949.26 L381.69 943.26 L382.16 937.29 L382.64 931.34 L383.11 925.44 L383.59 919.60 L384.06 913.82 L384.54 908.13 L385.01 902.52 L385.49 897.01 L385.96 891.62 L386.44 886.35 L386.91 881.21 L387.39 876.22 L387.86 871.38 L388.33 866.71 L388.81 862.21 L389.28 857.90 L389.76 853.78 L390.23 849.86 L390.71 846.15 L391.18 842.66 L391.66 839.39 L392.13 836.36 L392.61 833.57 L393.08 831.03 L393.56 828.73 L394.03 826.70 L394.50 824.92 L394.98 823.40 L395.45 822.16 L395.93 821.22 L396.40 822.22 L396.88 823.48 L397.35 825.02 L397.83 826.84 L398.30 828.92 L398.78 831.27 L399.25 833.88 L399.73 836.75 L400.20 839.88 L400.67 843.26 L401.15 846.89 L401.62 850.75 L402.10 854.84 L402.57 859.15 L403.05 863.67 L403.52 868.39 L404.00 873.31 L404.47 878.41 L404.95 883.68 L405.42 889.11 L405.90 894.68 L406.37 900.39 L406.84 906.23 L407.32 912.17 L407.79 918.21 L408.27 924.32 L408.74 930.51 L409.22 936.75 L409.69 943.03 L410.17 949.34 L410.64 955.66 L411.12 961.98 L411.59 968.28 L412.07 974.56 L412.54 980.81 L413.01 987.01 L413.49 993.16 L413.96 999.24 L414.44 1005.23 L414.91 1011.13 L415.39 1016.92 L415.86 1022.59 L416.34 1028.12 L416.81 1033.50 L417.29 1038.71 L417.76 1043.74 L418.24 1048.56 L418.71 1053.17 L419.18 1057.55 L419.66 1061.68 L420.13 1065.54 L420.61 1069.13 L421.08 1072.43 L421.56 1075.42 L422.03 1078.10 L422.51 1080.46 L422.98 1082.48 L423.46 1084.15 L423.93 1085.48 L424.41 1086.46 L424.88 1087.08 L425.35 1087.21 L425.83 1086.70 L426.30 1085.84 L426.78 1084.63 L427.25 1083.09 L427.73 1081.21 L428.20 1079.01 L428.68 1076.49 L429.15 1073.68 L429.63 1070.57 L430.10 1067.19 L430.58 1063.54 L431.05 1059.65 L431.52 1055.52 L432.00 1051.18 L432.47 1046.63 L432.95 1041.90 L433.42 1037.00 L433.90 1031.93 L434.37 1026.72 L434.85 1021.39 L435.32 1015.93 L435.80 1010.38 L436.27 1004.73 L436.75 999.00 L437.22 993.20 L437.69 987.35 L438.17 981.45 L438.64 975.50 L439.12 969.53 L439.59 963.54 L440.07 957.53 L440.54 951.52 L441.02 945.52 L441.49 939.53 L441.97 933.58 L442.44 927.67 L442.92 921.81 L443.39 916.02 L443.86 910.30 L444.34 904.68 L444.81 899.16 L445.29 893.75 L445.76 888.46 L446.24 883.31 L446.71 878.30 L447.19 873.45 L447.66 868.76 L448.14 864.24 L448.61 859.91 L449.09 855.77 L449.56 851.83 L450.03 848.10 L450.51 844.58 L450.98 841.28 L451.46 838.22 L451.93 835.38 L452.41 832.79 L452.88 830.44 L453.36 828.34 L453.83 826.50 L454.31 824.91 L454.78 823.58 L455.26 822.51 L455.73 822.81 L456.20 823.96 L456.68 825.37 L457.15 827.06 L457.63 829.00 L458.10 831.21 L458.58 833.68 L459.05 836.41 L459.53 839.40 L460.00 842.63 L460.48 846.11 L460.95 849.82 L461.43 853.77 L461.90 857.94 L462.37 862.33 L462.85 866.92 L463.32 871.72 L463.80 876.71 L464.27 881.87 L464.75 887.20 L465.22 892.69 L465.70 898.32 L466.17 904.08 L466.65 909.97 L467.12 915.95 L467.60 922.03 L468.07 928.19 L468.54 934.40 L469.02 940.67 L469.49 946.97 L469.97 953.28 L470.44 959.60 L470.92 965.91 L471.39 972.21 L471.87 978.48 L472.34 984.71 L472.82 990.89 L473.29 997.02 L473.77 1003.07 L474.24 1009.05 L474.71 1014.92 L475.19 1020.69 L475.66 1026.33 L476.14 1031.83 L476.61 1037.18 L477.09 1042.35 L477.56 1047.34 L478.04 1052.11 L478.51 1056.66 L478.99 1060.98 L479.46 1065.03 L479.94 1068.81 L480.41 1072.30 L480.88 1075.49 L481.36 1078.36 L481.83 1080.90 L482.31 1083.11 L482.78 1084.97 L483.26 1086.47 L483.73 1087.61 L484.21 1088.38 L484.68 1088.79 L485.16 1088.42 L485.63 1087.68 L486.11 1086.57 L486.58 1085.12 L487.05 1083.31 L487.53 1081.18 L488.00 1078.71 L488.48 1075.94 L488.95 1072.86 L489.43 1069.50 L489.90 1065.87 L490.38 1061.98 L490.85 1057.86 L491.33 1053.51 L491.80 1048.96 L492.28 1044.22 L492.75 1039.30 L493.22 1034.22 L493.70 1029.00 L494.17 1023.65 L494.65 1018.19 L495.12 1012.63 L495.60 1006.97 L496.07 1001.24 L496.55 995.44 L497.02 989.59 L497.50 983.69 L497.97 977.75 L498.45 971.78 L498.92 965.80 L499.39 959.79 L499.87 953.78 L500.34 947.77 L500.82 941.78 L501.29 935.80 L501.77 929.86 L502.24 923.96 L502.72 918.12 L503.19 912.34 L503.67 906.64 L504.14 901.02 L504.62 895.49 L505.09 890.08 L505.56 884.78 L506.04 879.61 L506.51 874.59 L506.99 869.71 L507.46 865.00 L507.94 860.46 L508.41 856.10 L508.89 851.93 L509.36 847.97 L509.84 844.22 L510.31 840.69 L510.79 837.40 L511.26 834.34 L511.73 831.53 L512.21 828.97 L512.68 826.68 L513.16 824.65 L513.63 822.89 L514.11 821.41 L514.58 820.20 L515.06 819.75 L515.53 820.83 L516.01 822.19 L516.48 823.84 L516.96 825.77 L517.43 827.98 L517.90 830.47 L518.38 833.23 L518.85 836.25 L519.33 839.53 L519.80 843.07 L520.28 846.84 L520.75 850.86 L521.23 855.10 L521.70 859.56 L522.18 864.22 L522.65 869.09 L523.13 874.13 L523.60 879.35 L524.07 884.73 L524.55 890.25 L525.02 895.92 L525.50 901.70 L525.97 907.60 L526.45 913.60 L526.92 919.68 L527.40 925.83 L527.87 932.04 L528.35 938.30 L528.82 944.59 L529.30 950.91 L529.77 957.23 L530.24 963.54 L530.72 969.84 L531.19 976.12 L531.67 982.37 L532.14 988.57 L532.62 994.72 L533.09 1000.81 L533.57 1006.81 L534.04 1012.73 L534.52 1018.54 L534.99 1024.23 L535.47 1029.78 L535.94 1035.19 L536.41 1040.43 L536.89 1045.48 L537.36 1050.34 L537.84 1054.98 L538.31 1059.38 L538.79 1063.54 L539.26 1067.42 L539.74 1071.02 L540.21 1074.33 L540.69 1077.32 L541.16 1079.99 L541.64 1082.32 L542.11 1084.31 L542.58 1085.94 L543.06 1087.22 L543.53 1088.13 L544.01 1088.68 L544.48 1088.61 L544.96 1088.00 L545.43 1087.03 L545.91 1085.70 L546.38 1084.03 L546.86 1082.02 L547.33 1079.68 L547.81 1077.02 L548.28 1074.05 L548.75 1070.80 L549.23 1067.27 L549.70 1063.47 L550.18 1059.44 L550.65 1055.17 L551.13 1050.69 L551.60 1046.02 L552.08 1041.17 L552.55 1036.15 L553.03 1030.98 L553.50 1025.68 L553.97 1020.26 L554.45 1014.73 L554.92 1009.11 L555.40 1003.41 L555.87 997.63 L556.35 991.80 L556.82 985.91 L557.30 979.99 L557.77 974.03 L558.25 968.05" stroke="#c00000" stroke-width="2.1" fill="none" stroke-linejoin="round" stroke-dasharray="12 11.7"/><path d="M83.63 949.98 L84.11 943.98 L84.58 938.01 L85.06 932.09 L85.53 926.22 L86.01 920.43 L86.48 914.72 L86.96 909.12 L87.43 903.63 L87.90 898.27 L88.38 893.05 L88.85 887.98 L89.33 883.07 L89.80 878.33 L90.28 873.77 L90.75 869.40 L91.23 865.21 L91.70 861.23 L92.18 857.44 L92.65 853.86 L93.13 850.50 L93.60 847.34 L94.07 844.40 L94.55 841.68 L95.02 839.18 L95.50 836.90 L95.97 834.83 L96.45 833.00 L96.92 831.38 L97.40 829.99 L97.87 828.82 L98.35 827.88 L98.82 828.63 L99.30 829.76 L99.77 831.12 L100.24 832.71 L100.72 834.53 L101.19 836.59 L101.67 838.88 L102.14 841.40 L102.62 844.16 L103.09 847.15 L103.57 850.37 L104.04 853.83 L104.52 857.51 L104.99 861.42 L105.47 865.56 L105.94 869.92 L106.41 874.49 L106.89 879.26 L107.36 884.24 L107.84 889.40 L108.31 894.74 L108.79 900.25 L109.26 905.92 L109.74 911.72 L110.21 917.65 L110.69 923.69 L111.16 929.82 L111.64 936.03 L112.11 942.29 L112.58 948.59 L113.06 954.91 L113.53 961.22 L114.01 967.52 L114.48 973.79 L114.96 980.01 L115.43 986.17 L115.91 992.24 L116.38 998.23 L116.86 1004.10 L117.33 1009.85 L117.81 1015.46 L118.28 1020.92 L118.75 1026.22 L119.23 1031.33 L119.70 1036.25 L120.18 1040.96 L120.65 1045.46 L121.13 1049.73 L121.60 1053.76 L122.08 1057.54 L122.55 1061.06 L123.03 1064.32 L123.50 1067.30 L123.98 1069.99 L124.45 1072.40 L124.92 1074.52 L125.40 1076.33 L125.87 1077.84 L126.35 1079.05 L126.82 1079.96 L127.30 1080.55 L127.77 1080.75 L128.25 1080.33 L128.72 1079.60 L129.20 1078.57 L129.67 1077.24 L130.15 1075.62 L130.62 1073.72 L131.09 1071.52 L131.57 1069.06 L132.04 1066.32 L132.52 1063.32 L132.99 1060.07 L133.47 1056.57 L133.94 1052.84 L134.42 1048.88 L134.89 1044.71 L135.37 1040.34 L135.84 1035.77 L136.32 1031.02 L136.79 1026.10 L137.26 1021.03 L137.74 1015.80 L138.21 1010.45 L138.69 1004.97 L139.16 999.38 L139.64 993.69 L140.11 987.92 L140.59 982.08 L141.06 976.18 L141.54 970.23 L142.01 964.25 L142.49 958.25 L142.96 952.24 L143.43 946.24 L143.91 940.25 L144.38 934.31 L144.86 928.41 L145.33 922.58 L145.81 916.83 L146.28 911.17 L146.76 905.62 L147.23 900.19 L147.71 894.89 L148.18 889.73 L148.66 884.72 L149.13 879.88 L149.60 875.21 L150.08 870.71 L150.55 866.41 L151.03 862.29 L151.50 858.38 L151.98 854.67 L152.45 851.16 L152.93 847.87 L153.40 844.80 L153.88 841.94 L154.35 839.31 L154.83 836.90 L155.30 834.71 L155.77 832.75 L156.25 831.02 L156.72 829.52 L157.20 828.25 L157.67 827.21 L158.15 827.27 L158.62 828.32 L159.10 829.62 L159.57 831.15 L160.05 832.92 L160.52 834.92 L161.00 837.17 L161.47 839.65 L161.94 842.37 L162.42 845.32 L162.89 848.51 L163.37 851.94 L163.84 855.60 L164.32 859.48 L164.79 863.59 L165.27 867.92 L165.74 872.46 L166.22 877.20 L166.69 882.15 L167.16 887.28 L167.64 892.59 L168.11 898.07 L168.59 903.70 L169.06 909.47 L169.54 915.37 L170.01 921.39 L170.49 927.49 L170.96 933.68 L171.44 939.93 L171.91 946.22 L172.39 952.53 L172.86 958.85 L173.33 965.16 L173.81 971.43 L174.28 977.67 L174.76 983.84 L175.23 989.93 L175.71 995.92 L176.18 1001.81 L176.66 1007.56 L177.13 1013.18 L177.61 1018.64 L178.08 1023.93 L178.56 1029.03 L179.03 1033.94 L179.50 1038.65 L179.98 1043.13 L180.45 1047.39 L180.93 1051.41 L181.40 1055.18 L181.88 1058.69 L182.35 1061.94 L182.83 1064.93 L183.30 1067.64 L183.78 1070.07 L184.25 1072.21 L184.73 1074.07 L185.20 1075.63 L185.67 1076.91 L186.15 1077.89 L186.62 1078.57 L187.10 1078.97 L187.57 1078.73 L188.05 1078.14 L188.52 1077.25 L189.00 1076.08 L189.47 1074.63 L189.95 1072.90 L190.42 1070.89 L190.90 1068.61 L191.37 1066.06 L191.84 1063.25 L192.32 1060.19 L192.79 1056.89 L193.27 1053.35 L193.74 1049.58 L194.22 1045.59 L194.69 1041.38 L195.17 1036.98 L195.64 1032.38 L196.12 1027.60 L196.59 1022.65 L197.07 1017.55 L197.54 1012.29 L198.01 1006.90 L198.49 1001.39 L198.96 995.77 L199.44 990.06 L199.91 984.26 L200.39 978.39 L200.86 972.47 L201.34 966.50 L201.81 960.51 L202.29 954.50 L202.76 948.49 L203.24 942.50 L203.71 936.54 L204.18 930.63 L204.66 924.78 L205.13 919.00 L205.61 913.32 L206.08 907.75 L206.56 902.29 L207.03 896.97 L207.51 891.78 L207.98 886.75 L208.46 881.88 L208.93 877.19 L209.41 872.67 L209.88 868.34 L210.35 864.21 L210.83 860.27 L211.30 856.53 L211.78 853.01 L212.25 849.69 L212.73 846.59 L213.20 843.71 L213.68 841.04 L214.15 838.59 L214.63 836.36 L215.10 834.36 L215.58 832.57 L216.05 831.01 L216.52 829.68 L217.00 828.56 L217.47 827.93 L217.95 828.89 L218.42 830.07 L218.90 831.49 L219.37 833.14 L219.85 835.02 L220.32 837.13 L220.80 839.48 L221.27 842.06 L221.75 844.88 L222.22 847.92 L222.69 851.21 L223.17 854.72 L223.64 858.46 L224.12 862.43 L224.59 866.62 L225.07 871.03 L225.54 875.65 L226.02 880.48 L226.49 885.50 L226.97 890.71 L227.44 896.09 L227.92 901.64 L228.39 907.34 L228.86 913.18 L229.34 919.14 L229.81 925.20 L230.29 931.35 L230.76 937.57 L231.24 943.85 L231.71 950.15 L232.19 956.47 L232.66 962.79 L233.14 969.08 L233.61 975.34 L234.09 981.54 L234.56 987.68 L235.03 993.74 L235.51 999.69 L235.98 1005.54 L236.46 1011.26 L236.93 1016.83 L237.41 1022.25 L237.88 1027.50 L238.36 1032.57 L238.83 1037.44 L239.31 1042.10 L239.78 1046.54 L240.26 1050.75 L240.73 1054.72 L241.20 1058.44 L241.68 1061.89 L242.15 1065.08 L242.63 1067.99 L243.10 1070.62 L243.58 1072.95 L244.05 1074.99 L244.53 1076.73 L245.00 1078.17 L245.48 1079.31 L245.95 1080.13 L246.43 1080.65 L246.90 1080.67 L247.37 1080.17 L247.85 1079.37 L248.32 1078.27 L248.80 1076.87 L249.27 1075.18 L249.75 1073.20 L250.22 1070.94 L250.70 1068.40 L251.17 1065.60 L251.65 1062.54 L252.12 1059.22 L252.60 1055.67 L253.07 1051.88 L253.54 1047.87 L254.02 1043.65 L254.49 1039.23 L254.97 1034.61 L255.44 1029.82 L255.92 1024.86 L256.39 1019.75 L256.87 1014.49 L257.34 1009.10 L257.82 1003.59 L258.29 997.98 L258.77 992.27 L259.24 986.48 L259.71 980.62 L260.19 974.71 L260.66 968.75 L261.14 962.77 L261.61 956.76 L262.09 950.75 L262.56 944.75 L263.04 938.78 L263.51 932.85 L263.99 926.97 L264.46 921.17 L264.94 915.45 L265.41 909.83 L265.88 904.33 L266.36 898.95 L266.83 893.71 L267.31 888.62 L267.78 883.69 L268.26 878.93 L268.73 874.35 L269.21 869.95 L269.68 865.74 L270.16 861.73 L270.63 857.92 L271.11 854.31 L271.58 850.92 L272.05 847.73 L272.53 844.77 L273.00 842.02 L273.48 839.49 L273.95 837.18 L274.43 835.09 L274.90 833.22 L275.38 831.57 L275.85 830.15 L276.33 828.96 L276.80 827.98 L277.28 828.50 L277.75 829.60 L278.22 830.93 L278.70 832.49 L279.17 834.29 L279.65 836.31 L280.12 838.57 L280.60 841.06 L281.07 843.79 L281.55 846.75 L282.02 849.94 L282.50 853.37 L282.97 857.03 L283.45 860.91 L283.92 865.02 L284.39 869.35 L284.87 873.89 L285.34 878.64 L285.82 883.59 L286.29 888.73 L286.77 894.05 L287.24 899.53 L287.72 905.18 L288.19 910.97 L288.67 916.88 L289.14 922.91 L289.62 929.03 L290.09 935.23 L290.56 941.48 L291.04 947.78 L291.51 954.09 L291.99 960.41 L292.46 966.72 L292.94 972.99 L293.41 979.22 L293.89 985.38 L294.36 991.47 L294.84 997.47 L295.31 1003.35 L295.79 1009.12 L296.26 1014.75 L296.73 1020.23 L297.21 1025.55 L297.68 1030.68 L298.16 1035.63 L298.63 1040.37 L299.11 1044.90 L299.58 1049.20 L300.06 1053.26 L300.53 1057.07 L301.01 1060.63 L301.48 1063.92 L301.96 1066.93 L302.43 1069.66 L302.90 1072.11 L303.38 1074.26 L303.85 1076.11 L304.33 1077.67 L304.80 1078.92 L305.28 1079.86 L305.75 1080.49 L306.23 1080.78 L306.70 1080.40 L307.18 1079.71 L307.65 1078.72 L308.13 1077.43 L308.60 1075.85 L309.07 1073.98 L309.55 1071.82 L310.02 1069.39 L310.50 1066.68 L310.97 1063.72 L311.45 1060.50 L311.92 1057.03 L312.40 1053.33 L312.87 1049.40 L313.35 1045.26 L313.82 1040.91 L314.30 1036.37 L314.77 1031.64 L315.24 1026.75 L315.72 1021.69 L316.19 1016.48 L316.67 1011.14 L317.14 1005.68 L317.62 1000.10 L318.09 994.43 L318.57 988.67 L319.04 982.83 L319.52 976.94 L319.99 971.00 L320.47 965.02 L320.94 959.02 L321.41 953.01 L321.89 947.01 L322.36 941.02 L322.84 935.07 L323.31 929.17 L323.79 923.34 L324.26 917.59 L324.74 911.93 L325.21 906.39 L325.69 900.96 L326.16 895.67 L326.64 890.52 L327.11 885.53 L327.58 880.70 L328.06 876.05 L328.53 871.58 L329.01 867.30 L329.48 863.21 L329.96 859.32 L330.43 855.64 L330.91 852.17 L331.38 848.91 L331.86 845.86 L332.33 843.03 L332.81 840.41 L333.28 838.02 L333.75 835.85 L334.23 833.90 L334.70 832.17 L335.18 830.66 L335.65 829.38 L336.13 828.32 L336.60 828.14 L337.08 829.16 L337.55 830.40 L338.03 831.88 L338.50 833.58 L338.98 835.52 L339.45 837.69 L339.92 840.10 L340.40 842.74 L340.87 845.61 L341.35 848.72 L341.82 852.05 L342.30 855.62 L342.77 859.42 L343.25 863.45 L343.72 867.69 L344.20 872.15 L344.67 876.83 L345.15 881.70 L345.62 886.77 L346.09 892.02 L346.57 897.45 L347.04 903.04 L347.52 908.77 L347.99 914.64 L348.47 920.63 L348.94 926.72 L349.42 932.89 L349.89 939.12 L350.37 945.41 L350.84 951.72 L351.32 958.04 L351.79 964.35 L352.26 970.63 L352.74 976.88 L353.21 983.06 L353.69 989.18 L354.16 995.20 L354.64 1001.13 L355.11 1006.93 L355.59 1012.60 L356.06 1018.12 L356.54 1023.48 L357.01 1028.67 L357.48 1033.66 L357.96 1038.46 L358.43 1043.04 L358.91 1047.40 L359.38 1051.52 L359.86 1055.40 L360.33 1059.02 L360.81 1062.39 L361.28 1065.48 L361.76 1068.29 L362.23 1070.82 L362.71 1073.06 L363.18 1075.01 L363.65 1076.66 L364.13 1078.00 L364.60 1079.05 L365.08 1079.79 L365.55 1080.23 L366.03 1080.08 L366.50 1079.51 L366.98 1078.64 L367.45 1077.48 L367.93 1076.02 L368.40 1074.28 L368.88 1072.25 L369.35 1069.94 L369.82 1067.36 L370.30 1064.52 L370.77 1061.42 L371.25 1058.08 L371.72 1054.49 L372.20 1050.68 L372.67 1046.64 L373.15 1042.39 L373.62 1037.95 L374.10 1033.31 L374.57 1028.50 L375.05 1023.52 L375.52 1018.39 L375.99 1013.11 L376.47 1007.71 L376.94 1002.18 L377.42 996.55 L377.89 990.83 L378.37 985.03 L378.84 979.16 L379.32 973.24 L379.79 967.27 L380.27 961.28 L380.74 955.27 L381.22 949.26 L381.69 943.27 L382.16 937.30 L382.64 931.38 L383.11 925.52 L383.59 919.74 L384.06 914.05 L384.54 908.46 L385.01 902.99 L385.49 897.64 L385.96 892.44 L386.44 887.39 L386.91 882.50 L387.39 877.78 L387.86 873.24 L388.33 868.89 L388.81 864.73 L389.28 860.76 L389.76 857.00 L390.23 853.45 L390.71 850.11 L391.18 846.98 L391.66 844.07 L392.13 841.37 L392.61 838.89 L393.08 836.64 L393.56 834.60 L394.03 832.79 L394.50 831.20 L394.98 829.84 L395.45 828.69 L395.93 827.82 L396.40 828.75 L396.88 829.91 L397.35 831.30 L397.83 832.92 L398.30 834.77 L398.78 836.85 L399.25 839.17 L399.73 841.72 L400.20 844.50 L400.67 847.52 L401.15 850.77 L401.62 854.25 L402.10 857.97 L402.57 861.91 L403.05 866.07 L403.52 870.45 L404.00 875.05 L404.47 879.84 L404.95 884.84 L405.42 890.03 L405.90 895.39 L406.37 900.92 L406.84 906.60 L407.32 912.42 L407.79 918.37 L408.27 924.42 L408.74 930.56 L409.22 936.77 L409.69 943.04 L410.17 949.34 L410.64 955.66 L411.12 961.98 L411.59 968.27 L412.07 974.53 L412.54 980.73 L413.01 986.86 L413.49 992.91 L413.96 998.85 L414.44 1004.67 L414.91 1010.36 L415.39 1015.90 L415.86 1021.28 L416.34 1026.48 L416.81 1031.49 L417.29 1036.30 L417.76 1040.90 L418.24 1045.27 L418.71 1049.41 L419.18 1053.31 L419.66 1056.95 L420.13 1060.34 L420.61 1063.46 L421.08 1066.31 L421.56 1068.88 L422.03 1071.16 L422.51 1073.17 L422.98 1074.88 L423.46 1076.30 L423.93 1077.43 L424.41 1078.27 L424.88 1078.81 L425.35 1078.92 L425.83 1078.47 L426.30 1077.73 L426.78 1076.71 L427.25 1075.40 L427.73 1073.81 L428.20 1071.93 L428.68 1069.79 L429.15 1067.38 L429.63 1064.70 L430.10 1061.77 L430.58 1058.59 L431.05 1055.16 L431.52 1051.51 L432.00 1047.63 L432.47 1043.53 L432.95 1039.22 L433.42 1034.72 L433.90 1030.03 L434.37 1025.17 L434.85 1020.14 L435.32 1014.96 L435.80 1009.64 L436.27 1004.19 L436.75 998.62 L437.22 992.95 L437.69 987.20 L438.17 981.36 L438.64 975.46 L439.12 969.52 L439.59 963.53 L440.07 957.53 L440.54 951.52 L441.02 945.52 L441.49 939.54 L441.97 933.61 L442.44 927.73 L442.92 921.92 L443.39 916.20 L443.86 910.59 L444.34 905.09 L444.81 899.71 L445.29 894.48 L445.76 889.40 L446.24 884.48 L446.71 879.73 L447.19 875.16 L447.66 870.78 L448.14 866.59 L448.61 862.60 L449.09 858.81 L449.56 855.23 L450.03 851.86 L450.51 848.70 L450.98 845.76 L451.46 843.02 L451.93 840.51 L452.41 838.21 L452.88 836.13 L453.36 834.27 L453.83 832.62 L454.31 831.19 L454.78 829.98 L455.26 828.99 L455.73 829.27 L456.20 830.33 L456.68 831.61 L457.15 833.12 L457.63 834.85 L458.10 836.81 L458.58 839.00 L459.05 841.42 L459.53 844.07 L460.00 846.96 L460.48 850.07 L460.95 853.41 L461.43 856.99 L461.90 860.79 L462.37 864.82 L462.85 869.08 L463.32 873.55 L463.80 878.23 L464.27 883.11 L464.75 888.19 L465.22 893.46 L465.70 898.90 L466.17 904.50 L466.65 910.26 L467.12 916.14 L467.60 922.14 L468.07 928.25 L468.54 934.43 L469.02 940.68 L469.49 946.97 L469.97 953.28 L470.44 959.60 L470.92 965.91 L471.39 972.18 L471.87 978.41 L472.34 984.58 L472.82 990.67 L473.29 996.66 L473.77 1002.55 L474.24 1008.31 L474.71 1013.93 L475.19 1019.39 L475.66 1024.69 L476.14 1029.81 L476.61 1034.73 L477.09 1039.45 L477.56 1043.95 L478.04 1048.23 L478.51 1052.26 L478.99 1056.05 L479.46 1059.58 L479.94 1062.85 L480.41 1065.84 L480.88 1068.56 L481.36 1070.99 L481.83 1073.14 L482.31 1074.99 L482.78 1076.55 L483.26 1077.81 L483.73 1078.77 L484.21 1079.43 L484.68 1079.79 L485.16 1079.47 L485.63 1078.83 L486.11 1077.90 L486.58 1076.68 L487.05 1075.16 L487.53 1073.37 L488.00 1071.29 L488.48 1068.94 L488.95 1066.32 L489.43 1063.44 L489.90 1060.31 L490.38 1056.93 L490.85 1053.31 L491.33 1049.47 L491.80 1045.41 L492.28 1041.14 L492.75 1036.67 L493.22 1032.01 L493.70 1027.18 L494.17 1022.18 L494.65 1017.03 L495.12 1011.74 L495.60 1006.31 L496.07 1000.77 L496.55 995.13 L497.02 989.39 L497.50 983.57 L497.97 977.69 L498.45 971.76 L498.92 965.79 L499.39 959.79 L499.87 953.78 L500.34 947.78 L500.82 941.79 L501.29 935.83 L501.77 929.93 L502.24 924.08 L502.72 918.32 L503.19 912.65 L503.67 907.09 L504.14 901.65 L504.62 896.34 L505.09 891.17 L505.56 886.16 L506.04 881.31 L506.51 876.64 L506.99 872.14 L507.46 867.84 L507.94 863.73 L508.41 859.81 L508.89 856.10 L509.36 852.60 L509.84 849.31 L510.31 846.24 L510.79 843.38 L511.26 840.74 L511.73 838.31 L512.21 836.11 L512.68 834.13 L513.16 832.38 L513.63 830.84 L514.11 829.53 L514.58 828.45 L515.06 828.03 L515.53 829.02 L516.01 830.23 L516.48 831.68 L516.96 833.35 L517.43 835.26 L517.90 837.40 L518.38 839.78 L518.85 842.38 L519.33 845.23 L519.80 848.30 L520.28 851.61 L520.75 855.15 L521.23 858.92 L521.70 862.92 L522.18 867.14 L522.65 871.57 L523.13 876.22 L523.60 881.06 L524.07 886.11 L524.55 891.34 L525.02 896.75 L525.50 902.31 L525.97 908.03 L526.45 913.88 L526.92 919.85 L527.40 925.93 L527.87 932.09 L528.35 938.32 L528.82 944.60 L529.30 950.91 L529.77 957.23 L530.24 963.54 L530.72 969.83 L531.19 976.08 L531.67 982.28 L532.14 988.41 L532.62 994.45 L533.09 1000.40 L533.57 1006.23 L534.04 1011.93 L534.52 1017.49 L534.99 1022.89 L535.47 1028.11 L535.94 1033.16 L536.41 1038.00 L536.89 1042.64 L537.36 1047.06 L537.84 1051.24 L538.31 1055.18 L538.79 1058.87 L539.26 1062.29 L539.74 1065.44 L540.21 1068.32 L540.69 1070.91 L541.16 1073.21 L541.64 1075.22 L542.11 1076.92 L542.58 1078.32 L543.06 1079.42 L543.53 1080.21 L544.01 1080.69 L544.48 1080.63 L544.96 1080.09 L545.43 1079.26 L545.91 1078.12 L546.38 1076.68 L546.86 1074.96 L547.33 1072.94 L547.81 1070.65 L548.28 1068.08 L548.75 1065.25 L549.23 1062.15 L549.70 1058.81 L550.18 1055.23 L550.65 1051.41 L551.13 1047.38 L551.60 1043.13 L552.08 1038.68 L552.55 1034.05 L553.03 1029.24 L553.50 1024.26 L553.97 1019.13 L554.45 1013.85 L554.92 1008.45 L555.40 1002.93 L555.87 997.30 L556.35 991.58 L556.82 985.79 L557.30 979.92 L557.77 974.00 L558.25 968.04" stroke="#1010fa" stroke-width="2.1" fill="none" stroke-linejoin="round" stroke-dasharray="12 4.7 2.4 4.6"/><path d="M83.5 1158.43H90 M83.5 1142.75H90 M83.5 1127.06H90 M83.5 1095.69H90 M83.5 1080H90 M83.5 1064.31H90 M83.5 1048.62H90 M83.5 1017.25H90 M83.5 1001.56H90 M83.5 985.87H90 M83.5 970.19H90 M83.5 938.81H90 M83.5 923.13H90 M83.5 907.44H90 M83.5 891.75H90 M83.5 860.38H90 M83.5 844.69H90 M83.5 829H90 M83.5 813.31H90 M83.5 781.94H90 M83.5 766.25H90 M83.5 750.57H90" stroke="#5a5a5a" stroke-width="1.2" fill="none"/><path d="M83.5 1111.37H89.2 M83.5 1032.94H89.2 M83.5 954.5H89.2 M83.5 876.06H89.2 M83.5 797.63H89.2 M97.93 1170.2V1163.7 M127.7 1170.2V1163.7 M157.47 1170.2V1163.7 M187.25 1170.2V1163.7 M217.02 1170.2V1163.7 M246.8 1170.2V1163.7 M276.57 1170.2V1163.7 M306.35 1170.2V1163.7 M336.12 1170.2V1163.7 M365.9 1170.2V1163.7 M395.67 1170.2V1163.7 M425.45 1170.2V1163.7 M455.22 1170.2V1163.7 M485 1170.2V1163.7 M514.77 1170.2V1163.7 M544.55 1170.2V1163.7" stroke="#000" stroke-width="2.4" fill="none"/><path d="M83.5 737.8V1170.2H558.3" stroke="#000" stroke-width="2.5" fill="none" stroke-linejoin="round"/><text transform="translate(76.3 802.73) scale(1 1.06)" font-size="16.6" text-anchor="end" stroke="#000" stroke-width="0.25">0.08</text><text transform="translate(76.3 881.16) scale(1 1.06)" font-size="16.6" text-anchor="end" stroke="#000" stroke-width="0.25">0.04</text><text transform="translate(76.3 959.6) scale(1 1.06)" font-size="16.6" text-anchor="end" stroke="#000" stroke-width="0.25">0</text><text transform="translate(76.3 1038.04) scale(1 1.06)" font-size="16.6" text-anchor="end" stroke="#000" stroke-width="0.25">-0.04</text><text transform="translate(76.3 1116.47) scale(1 1.06)" font-size="16.6" text-anchor="end" stroke="#000" stroke-width="0.25">-0.08</text><text transform="translate(127.7 1187.6) scale(1 1.06)" font-size="16.6" text-anchor="middle" stroke="#000" stroke-width="0.25">1</text><text transform="translate(187.25 1187.6) scale(1 1.06)" font-size="16.6" text-anchor="middle" stroke="#000" stroke-width="0.25">2</text><text transform="translate(246.8 1187.6) scale(1 1.06)" font-size="16.6" text-anchor="middle" stroke="#000" stroke-width="0.25">3</text><text transform="translate(306.35 1187.6) scale(1 1.06)" font-size="16.6" text-anchor="middle" stroke="#000" stroke-width="0.25">4</text><text transform="translate(365.9 1187.6) scale(1 1.06)" font-size="16.6" text-anchor="middle" stroke="#000" stroke-width="0.25">5</text><text transform="translate(425.45 1187.6) scale(1 1.06)" font-size="16.6" text-anchor="middle" stroke="#000" stroke-width="0.25">6</text><text transform="translate(485 1187.6) scale(1 1.06)" font-size="16.6" text-anchor="middle" stroke="#000" stroke-width="0.25">7</text><text transform="translate(544.55 1187.6) scale(1 1.06)" font-size="16.6" text-anchor="middle" stroke="#000" stroke-width="0.25">8</text><text x="321" y="1206.8" font-size="20" font-weight="bold" text-anchor="middle">t/T</text><text transform="translate(32.8 986.6) rotate(-90)" font-size="20" font-weight="bold">F<tspan font-size="11" font-weight="normal" dy="6.3">x</tspan><tspan dy="-6.3" font-weight="normal">/</tspan>ρgD<tspan font-size="12.8" font-weight="normal" dx="1.1" dy="-9.6">3</tspan></text><path d="M376.6 750H452.9" stroke="#00c800" stroke-width="2.1"/><path d="M376.6 770.6H452.9" stroke="#c00000" stroke-width="2.5" stroke-dasharray="12 11.7"/><path d="M376.6 791H452.9" stroke="#1010fa" stroke-width="2.0" stroke-dasharray="11.8 4.4 2.9 4.6"/><text x="466" y="755.5" font-size="16.6" font-weight="bold">Experiment</text><text x="466" y="775.7" font-size="16.6" font-weight="bold">CFD</text><text x="466" y="795.9" font-size="16.6" font-weight="bold">Morison</text><text x="329.8" y="1304.3" font-size="49.8" font-weight="bold" text-anchor="middle">(c) Case 3</text></g>
<g><rect x="677.5" y="671.5" width="633" height="562" fill="none" stroke="#646464" stroke-width="1"/><path d="M773.92 738.8V1170.2 M803.7 738.8V1170.2 M833.48 738.8V1170.2 M863.25 738.8V1170.2 M893.02 738.8V1170.2 M922.8 738.8V1170.2 M952.58 738.8V1170.2 M982.35 738.8V1170.2 M1012.12 738.8V1170.2 M1041.9 738.8V1170.2 M1071.67 738.8V1170.2 M1101.45 738.8V1170.2 M1131.22 738.8V1170.2 M1161 738.8V1170.2 M1190.78 738.8V1170.2 M1220.55 738.8V1170.2 M759.5 1150.59H1234.3 M759.5 1111.37H1234.3 M759.5 1072.15H1234.3 M759.5 1032.94H1234.3 M759.5 993.72H1234.3 M759.5 954.5H1234.3 M759.5 915.28H1234.3 M759.5 876.06H1234.3 M759.5 836.85H1234.3 M759.5 797.63H1234.3 M759.5 758.41H1234.3" stroke="#e4e4e4" stroke-width="1" fill="none"/><path d="M759.63 950.00 L760.11 944.01 L760.58 938.04 L761.06 932.10 L761.53 926.20 L762.01 920.35 L762.48 914.56 L762.96 908.83 L763.43 903.19 L763.90 897.63 L764.38 892.18 L764.85 886.84 L765.33 881.62 L765.80 876.54 L766.28 871.60 L766.75 866.81 L767.23 862.20 L767.70 857.76 L768.18 853.51 L768.65 849.46 L769.13 845.62 L769.60 842.00 L770.07 838.60 L770.55 835.44 L771.02 832.53 L771.50 829.87 L771.97 827.47 L772.45 825.34 L772.92 823.48 L773.40 821.89 L773.87 820.59 L774.35 819.56 L774.82 820.43 L775.30 821.70 L775.77 823.26 L776.24 825.10 L776.72 827.23 L777.19 829.63 L777.67 832.31 L778.14 835.26 L778.62 838.47 L779.09 841.94 L779.57 845.65 L780.04 849.61 L780.52 853.79 L780.99 858.19 L781.47 862.80 L781.94 867.61 L782.41 872.61 L782.89 877.78 L783.36 883.11 L783.84 888.59 L784.31 894.21 L784.79 899.95 L785.26 905.81 L785.74 911.77 L786.21 917.81 L786.69 923.93 L787.16 930.11 L787.64 936.34 L788.11 942.61 L788.58 948.90 L789.06 955.20 L789.53 961.50 L790.01 967.79 L790.48 974.06 L790.96 980.31 L791.43 986.51 L791.91 992.67 L792.38 998.77 L792.86 1004.80 L793.33 1010.75 L793.81 1016.60 L794.28 1022.34 L794.75 1027.96 L795.23 1033.43 L795.70 1038.75 L796.18 1043.89 L796.65 1048.83 L797.13 1053.57 L797.60 1058.08 L798.08 1062.35 L798.55 1066.35 L799.03 1070.07 L799.50 1073.50 L799.98 1076.62 L800.45 1079.42 L800.92 1081.88 L801.40 1084.00 L801.87 1085.76 L802.35 1087.16 L802.82 1088.19 L803.30 1088.85 L803.77 1089.02 L804.25 1088.51 L804.72 1087.64 L805.20 1086.41 L805.67 1084.82 L806.15 1082.88 L806.62 1080.61 L807.09 1078.02 L807.57 1075.11 L808.04 1071.91 L808.52 1068.42 L808.99 1064.67 L809.47 1060.67 L809.94 1056.44 L810.42 1051.99 L810.89 1047.34 L811.37 1042.51 L811.84 1037.51 L812.32 1032.36 L812.79 1027.08 L813.26 1021.68 L813.74 1016.17 L814.21 1010.56 L814.69 1004.88 L815.16 999.13 L815.64 993.31 L816.11 987.45 L816.59 981.54 L817.06 975.61 L817.54 969.65 L818.01 963.67 L818.49 957.68 L818.96 951.68 L819.43 945.70 L819.91 939.72 L820.38 933.77 L820.86 927.85 L821.33 921.98 L821.81 916.16 L822.28 910.40 L822.76 904.71 L823.23 899.11 L823.71 893.60 L824.18 888.20 L824.66 882.92 L825.13 877.76 L825.60 872.74 L826.08 867.87 L826.55 863.16 L827.03 858.62 L827.50 854.27 L827.98 850.11 L828.45 846.16 L828.93 842.42 L829.40 838.92 L829.88 835.64 L830.35 832.62 L830.83 829.85 L831.30 827.34 L831.77 825.09 L832.25 823.13 L832.72 821.44 L833.20 820.04 L833.67 818.92 L834.15 819.22 L834.62 820.43 L835.10 821.93 L835.57 823.71 L836.05 825.79 L836.52 828.15 L837.00 830.79 L837.47 833.71 L837.94 836.89 L838.42 840.34 L838.89 844.03 L839.37 847.97 L839.84 852.14 L840.32 856.53 L840.79 861.14 L841.27 865.94 L841.74 870.93 L842.22 876.09 L842.69 881.42 L843.16 886.89 L843.64 892.51 L844.11 898.24 L844.59 904.09 L845.06 910.04 L845.54 916.08 L846.01 922.18 L846.49 928.36 L846.96 934.58 L847.44 940.84 L847.91 947.12 L848.39 953.42 L848.86 959.72 L849.33 966.02 L849.81 972.30 L850.28 978.56 L850.76 984.79 L851.23 990.98 L851.71 997.12 L852.18 1003.20 L852.66 1009.21 L853.13 1015.13 L853.61 1020.95 L854.08 1026.66 L854.56 1032.24 L855.03 1037.67 L855.50 1042.94 L855.98 1048.03 L856.45 1052.91 L856.93 1057.57 L857.40 1062.00 L857.88 1066.16 L858.35 1070.05 L858.83 1073.65 L859.30 1076.93 L859.78 1079.90 L860.25 1082.52 L860.73 1084.79 L861.20 1086.70 L861.67 1088.24 L862.15 1089.41 L862.62 1090.20 L863.10 1090.60 L863.57 1090.19 L864.05 1089.40 L864.52 1088.23 L865.00 1086.71 L865.47 1084.82 L865.95 1082.58 L866.42 1080.01 L866.90 1077.12 L867.37 1073.92 L867.84 1070.44 L868.32 1066.68 L868.79 1062.66 L869.27 1058.40 L869.74 1053.93 L870.22 1049.25 L870.69 1044.39 L871.17 1039.37 L871.64 1034.19 L872.12 1028.88 L872.59 1023.45 L873.07 1017.92 L873.54 1012.30 L874.01 1006.60 L874.49 1000.83 L874.96 995.01 L875.44 989.14 L875.91 983.23 L876.39 977.29 L876.86 971.33 L877.34 965.35 L877.81 959.37 L878.29 953.37 L878.76 947.38 L879.24 941.40 L879.71 935.44 L880.18 929.51 L880.66 923.62 L881.13 917.77 L881.61 911.98 L882.08 906.26 L882.56 900.61 L883.03 895.05 L883.51 889.59 L883.98 884.24 L884.46 879.01 L884.93 873.91 L885.41 868.96 L885.88 864.16 L886.35 859.52 L886.83 855.07 L887.30 850.81 L887.78 846.75 L888.25 842.90 L888.73 839.28 L889.20 835.89 L889.68 832.75 L890.15 829.86 L890.63 827.24 L891.10 824.89 L891.58 822.81 L892.05 821.02 L892.52 819.52 L893.00 818.31 L893.47 818.04 L893.95 819.17 L894.42 820.60 L894.90 822.33 L895.37 824.36 L895.85 826.67 L896.32 829.27 L896.80 832.15 L897.27 835.31 L897.75 838.73 L898.22 842.40 L898.69 846.33 L899.17 850.48 L899.64 854.87 L900.12 859.46 L900.59 864.26 L901.07 869.24 L901.54 874.40 L902.02 879.72 L902.49 885.19 L902.97 890.80 L903.44 896.53 L903.92 902.37 L904.39 908.31 L904.86 914.34 L905.34 920.44 L905.81 926.60 L906.29 932.82 L906.76 939.07 L907.24 945.35 L907.71 951.65 L908.19 957.95 L908.66 964.25 L909.14 970.53 L909.61 976.80 L910.09 983.05 L910.56 989.25 L911.03 995.42 L911.51 1001.53 L911.98 1007.57 L912.46 1013.54 L912.93 1019.42 L913.41 1025.19 L913.88 1030.83 L914.36 1036.34 L914.83 1041.69 L915.31 1046.87 L915.78 1051.85 L916.26 1056.61 L916.73 1061.15 L917.20 1065.43 L917.68 1069.44 L918.15 1073.16 L918.63 1076.57 L919.10 1079.66 L919.58 1082.41 L920.05 1084.81 L920.53 1086.85 L921.00 1088.52 L921.48 1089.80 L921.95 1090.71 L922.43 1091.23 L922.90 1091.04 L923.37 1090.35 L923.85 1089.28 L924.32 1087.83 L924.80 1086.02 L925.27 1083.86 L925.75 1081.36 L926.22 1078.52 L926.70 1075.37 L927.17 1071.93 L927.65 1068.20 L928.12 1064.22 L928.60 1059.99 L929.07 1055.54 L929.54 1050.88 L930.02 1046.03 L930.49 1041.01 L930.97 1035.84 L931.44 1030.54 L931.92 1025.11 L932.39 1019.59 L932.87 1013.97 L933.34 1008.27 L933.82 1002.50 L934.29 996.68 L934.77 990.81 L935.24 984.91 L935.71 978.98 L936.19 973.02 L936.66 967.04 L937.14 961.06 L937.61 955.06 L938.09 949.07 L938.56 943.09 L939.04 937.12 L939.51 931.18 L939.99 925.27 L940.46 919.41 L940.94 913.61 L941.41 907.86 L941.88 902.19 L942.36 896.61 L942.83 891.12 L943.31 885.74 L943.78 880.47 L944.26 875.33 L944.73 870.34 L945.21 865.49 L945.68 860.81 L946.16 856.31 L946.63 851.99 L947.11 847.87 L947.58 843.96 L948.05 840.27 L948.53 836.82 L949.00 833.61 L949.48 830.65 L949.95 827.95 L950.43 825.52 L950.90 823.37 L951.38 821.50 L951.85 819.92 L952.33 818.62 L952.80 817.78 L953.28 818.82 L953.75 820.17 L954.22 821.82 L954.70 823.76 L955.17 825.99 L955.65 828.51 L956.12 831.31 L956.60 834.39 L957.07 837.74 L957.55 841.34 L958.02 845.20 L958.50 849.29 L958.97 853.61 L959.45 858.14 L959.92 862.88 L960.39 867.82 L960.87 872.93 L961.34 878.20 L961.82 883.63 L962.29 889.20 L962.77 894.90 L963.24 900.71 L963.72 906.63 L964.19 912.63 L964.67 918.71 L965.14 924.86 L965.62 931.06 L966.09 937.30 L966.56 943.58 L967.04 949.87 L967.51 956.17 L967.99 962.47 L968.46 968.76 L968.94 975.04 L969.41 981.30 L969.89 987.54 L970.36 993.73 L970.84 999.88 L971.31 1005.98 L971.79 1012.01 L972.26 1017.96 L972.73 1023.81 L973.21 1029.56 L973.68 1035.17 L974.16 1040.64 L974.63 1045.95 L975.11 1051.07 L975.58 1055.98 L976.06 1060.67 L976.53 1065.11 L977.01 1069.29 L977.48 1073.17 L977.96 1076.76 L978.43 1080.01 L978.90 1082.93 L979.38 1085.50 L979.85 1087.69 L980.33 1089.51 L980.80 1090.94 L981.28 1091.98 L981.75 1092.62 L982.23 1092.66 L982.70 1092.07 L983.18 1091.08 L983.65 1089.71 L984.13 1087.96 L984.60 1085.84 L985.07 1083.37 L985.55 1080.56 L986.02 1077.42 L986.50 1073.98 L986.97 1070.25 L987.45 1066.25 L987.92 1062.01 L988.40 1057.53 L988.87 1052.84 L989.35 1047.96 L989.82 1042.92 L990.30 1037.72 L990.77 1032.38 L991.24 1026.93 L991.72 1021.37 L992.19 1015.73 L992.67 1010.01 L993.14 1004.23 L993.62 998.39 L994.09 992.52 L994.57 986.60 L995.04 980.66 L995.52 974.70 L995.99 968.73 L996.47 962.74 L996.94 956.75 L997.41 950.76 L997.89 944.77 L998.36 938.80 L998.84 932.84 L999.31 926.91 L999.79 921.03 L1000.26 915.18 L1000.74 909.39 L1001.21 903.67 L1001.69 898.01 L1002.16 892.45 L1002.64 886.98 L1003.11 881.61 L1003.58 876.36 L1004.06 871.24 L1004.53 866.27 L1005.01 861.45 L1005.48 856.80 L1005.96 852.33 L1006.43 848.05 L1006.91 843.98 L1007.38 840.13 L1007.86 836.52 L1008.33 833.14 L1008.81 830.03 L1009.28 827.17 L1009.75 824.59 L1010.23 822.30 L1010.70 820.29 L1011.18 818.59 L1011.65 817.18 L1012.13 816.08 L1012.60 816.71 L1013.08 818.00 L1013.55 819.60 L1014.03 821.51 L1014.50 823.72 L1014.98 826.23 L1015.45 829.04 L1015.92 832.12 L1016.40 835.49 L1016.87 839.12 L1017.35 843.00 L1017.82 847.13 L1018.30 851.49 L1018.77 856.07 L1019.25 860.85 L1019.72 865.83 L1020.20 870.98 L1020.67 876.29 L1021.15 881.75 L1021.62 887.35 L1022.09 893.08 L1022.57 898.91 L1023.04 904.84 L1023.52 910.85 L1023.99 916.94 L1024.47 923.09 L1024.94 929.29 L1025.42 935.53 L1025.89 941.80 L1026.37 948.09 L1026.84 954.39 L1027.32 960.70 L1027.79 966.99 L1028.26 973.28 L1028.74 979.56 L1029.21 985.83 L1029.69 992.06 L1030.16 998.27 L1030.64 1004.44 L1031.11 1010.55 L1031.59 1016.61 L1032.06 1022.58 L1032.54 1028.46 L1033.01 1034.23 L1033.48 1039.88 L1033.96 1045.37 L1034.43 1050.69 L1034.91 1055.81 L1035.38 1060.72 L1035.86 1065.39 L1036.33 1069.80 L1036.81 1073.93 L1037.28 1077.74 L1037.76 1081.23 L1038.23 1084.38 L1038.71 1087.16 L1039.18 1089.56 L1039.65 1091.57 L1040.13 1093.18 L1040.60 1094.38 L1041.08 1095.17 L1041.55 1095.46 L1042.03 1094.96 L1042.50 1094.04 L1042.98 1092.72 L1043.45 1091.00 L1043.93 1088.90 L1044.40 1086.42 L1044.88 1083.58 L1045.35 1080.41 L1045.82 1076.91 L1046.30 1073.12 L1046.77 1069.04 L1047.25 1064.71 L1047.72 1060.14 L1048.20 1055.36 L1048.67 1050.39 L1049.15 1045.25 L1049.62 1039.96 L1050.10 1034.53 L1050.57 1029.00 L1051.05 1023.37 L1051.52 1017.66 L1051.99 1011.88 L1052.47 1006.05 L1052.94 1000.17 L1053.42 994.26 L1053.89 988.33 L1054.37 982.37 L1054.84 976.40 L1055.32 970.42 L1055.79 964.43 L1056.27 958.44 L1056.74 952.45 L1057.22 946.46 L1057.69 940.48 L1058.16 934.51 L1058.64 928.56 L1059.11 922.65 L1059.59 916.77 L1060.06 910.94 L1060.54 905.16 L1061.01 899.44 L1061.49 893.80 L1061.96 888.24 L1062.44 882.78 L1062.91 877.42 L1063.39 872.18 L1063.86 867.08 L1064.33 862.12 L1064.81 857.32 L1065.28 852.69 L1065.76 848.26 L1066.23 844.02 L1066.71 840.01 L1067.18 836.22 L1067.66 832.68 L1068.13 829.39 L1068.61 826.38 L1069.08 823.64 L1069.56 821.19 L1070.03 819.05 L1070.50 817.21 L1070.98 815.68 L1071.45 814.47 L1071.93 814.51 L1072.40 815.74 L1072.88 817.29 L1073.35 819.16 L1073.83 821.35 L1074.30 823.85 L1074.78 826.65 L1075.25 829.75 L1075.73 833.13 L1076.20 836.79 L1076.67 840.71 L1077.15 844.88 L1077.62 849.29 L1078.10 853.91 L1078.57 858.74 L1079.05 863.76 L1079.52 868.96 L1080.00 874.32 L1080.47 879.83 L1080.95 885.47 L1081.42 891.22 L1081.90 897.08 L1082.37 903.03 L1082.84 909.06 L1083.32 915.16 L1083.79 921.32 L1084.27 927.52 L1084.74 933.76 L1085.22 940.03 L1085.69 946.32 L1086.17 952.62 L1086.64 958.92 L1087.12 965.22 L1087.59 971.51 L1088.07 977.79 L1088.54 984.05 L1089.01 990.29 L1089.49 996.49 L1089.96 1002.65 L1090.44 1008.76 L1090.91 1014.81 L1091.39 1020.78 L1091.86 1026.66 L1092.34 1032.42 L1092.81 1038.06 L1093.29 1043.55 L1093.76 1048.87 L1094.24 1054.00 L1094.71 1058.93 L1095.18 1063.61 L1095.66 1068.05 L1096.13 1072.20 L1096.61 1076.06 L1097.08 1079.60 L1097.56 1082.80 L1098.03 1085.64 L1098.51 1088.12 L1098.98 1090.21 L1099.46 1091.91 L1099.93 1093.20 L1100.41 1094.09 L1100.88 1094.57 L1101.35 1094.24 L1101.83 1093.46 L1102.30 1092.27 L1102.78 1090.68 L1103.25 1088.71 L1103.73 1086.37 L1104.20 1083.67 L1104.68 1080.63 L1105.15 1077.27 L1105.63 1073.61 L1106.10 1069.66 L1106.58 1065.45 L1107.05 1061.00 L1107.52 1056.32 L1108.00 1051.45 L1108.47 1046.40 L1108.95 1041.20 L1109.42 1035.85 L1109.90 1030.39 L1110.37 1024.82 L1110.85 1019.16 L1111.32 1013.42 L1111.80 1007.63 L1112.27 1001.78 L1112.75 995.90 L1113.22 989.98 L1113.69 984.04 L1114.17 978.08 L1114.64 972.11 L1115.12 966.12 L1115.59 960.13 L1116.07 954.14 L1116.54 948.15 L1117.02 942.16 L1117.49 936.20 L1117.97 930.25 L1118.44 924.34 L1118.92 918.47 L1119.39 912.65 L1119.86 906.89 L1120.34 901.19 L1120.81 895.58 L1121.29 890.05 L1121.76 884.62 L1122.24 879.31 L1122.71 874.11 L1123.19 869.06 L1123.66 864.15 L1124.14 859.40 L1124.61 854.83 L1125.09 850.44 L1125.56 846.25 L1126.03 842.28 L1126.51 838.53 L1126.98 835.01 L1127.46 831.75 L1127.93 828.75 L1128.41 826.01 L1128.88 823.56 L1129.36 821.39 L1129.83 819.51 L1130.31 817.94 L1130.78 816.66 L1131.26 816.12 L1131.73 817.24 L1132.20 818.66 L1132.68 820.40 L1133.15 822.44 L1133.63 824.78 L1134.10 827.42 L1134.58 830.35 L1135.05 833.56 L1135.53 837.04 L1136.00 840.78 L1136.48 844.78 L1136.95 849.01 L1137.43 853.46 L1137.90 858.13 L1138.37 863.00 L1138.85 868.05 L1139.32 873.28 L1139.80 878.66 L1140.27 884.18 L1140.75 889.84 L1141.22 895.61 L1141.70 901.49 L1142.17 907.45 L1142.65 913.50 L1143.12 919.62 L1143.60 925.79 L1144.07 932.01 L1144.54 938.26 L1145.02 944.55 L1145.49 950.84 L1145.97 957.14 L1146.44 963.44 L1146.92 969.73 L1147.39 976.00 L1147.87 982.24 L1148.34 988.44 L1148.82 994.59 L1149.29 1000.69 L1149.77 1006.71 L1150.24 1012.66 L1150.71 1018.50 L1151.19 1024.24 L1151.66 1029.85 L1152.14 1035.32 L1152.61 1040.62 L1153.09 1045.75 L1153.56 1050.69 L1154.04 1055.41 L1154.51 1059.90 L1154.99 1064.14 L1155.46 1068.11 L1155.94 1071.79 L1156.41 1075.18 L1156.88 1078.24 L1157.36 1080.98 L1157.83 1083.37 L1158.31 1085.41 L1158.78 1087.09 L1159.26 1088.39 L1159.73 1089.33 L1160.21 1089.88 L1160.68 1089.80 L1161.16 1089.17 L1161.63 1088.17 L1162.11 1086.81 L1162.58 1085.08 L1163.05 1083.01 L1163.53 1080.60 L1164.00 1077.87 L1164.48 1074.82 L1164.95 1071.48 L1165.43 1067.86 L1165.90 1063.98 L1166.38 1059.86 L1166.85 1055.51 L1167.33 1050.94 L1167.80 1046.19 L1168.28 1041.26 L1168.75 1036.17 L1169.22 1030.94 L1169.70 1025.58 L1170.17 1020.11 L1170.65 1014.54 L1171.12 1008.89 L1171.60 1003.16 L1172.07 997.37 L1172.55 991.53 L1173.02 985.64 L1173.50 979.72 L1173.97 973.77 L1174.45 967.80 L1174.92 961.82 L1175.39 955.83 L1175.87 949.84 L1176.34 943.85 L1176.82 937.89 L1177.29 931.96 L1177.77 926.07 L1178.24 920.23 L1178.72 914.46 L1179.19 908.76 L1179.67 903.15 L1180.14 897.64 L1180.62 892.24 L1181.09 886.96 L1181.56 881.81 L1182.04 876.80 L1182.51 871.94 L1182.99 867.24 L1183.46 862.72 L1183.94 858.37 L1184.41 854.22 L1184.89 850.27 L1185.36 846.53 L1185.84 843.01 L1186.31 839.71 L1186.79 836.65 L1187.26 833.82 L1187.73 831.24 L1188.21 828.92 L1188.68 826.85 L1189.16 825.05 L1189.63 823.51 L1190.11 822.24 L1190.58 821.24 L1191.06 822.14 L1191.53 823.39 L1192.01 824.92 L1192.48 826.72 L1192.96 828.80 L1193.43 831.14 L1193.90 833.75 L1194.38 836.63 L1194.85 839.76 L1195.33 843.14 L1195.80 846.76 L1196.28 850.63 L1196.75 854.72 L1197.23 859.03 L1197.70 863.55 L1198.18 868.28 L1198.65 873.19 L1199.13 878.29 L1199.60 883.56 L1200.07 888.98 L1200.55 894.55 L1201.02 900.25 L1201.50 906.07 L1201.97 912.00 L1202.45 918.02 L1202.92 924.12 L1203.40 930.29 L1203.87 936.51 L1204.35 942.78 L1204.82 949.07 L1205.30 955.37 L1205.77 961.67 L1206.24 967.95 L1206.72 974.21 L1207.19 980.42 L1207.67 986.58 L1208.14 992.67 L1208.62 998.68 L1209.09 1004.60 L1209.57 1010.41 L1210.04 1016.09 L1210.52 1021.63 L1210.99 1027.02 L1211.47 1032.25 L1211.94 1037.30 L1212.41 1042.15 L1212.89 1046.79 L1213.36 1051.21 L1213.84 1055.40 L1214.31 1059.34 L1214.79 1063.01 L1215.26 1066.42 L1215.74 1069.54 L1216.21 1072.37 L1216.69 1074.90 L1217.16 1077.12 L1217.64 1079.02 L1218.11 1080.60 L1218.58 1081.86 L1219.06 1082.79 L1219.53 1083.38 L1220.01 1083.52 L1220.48 1083.04 L1220.96 1082.24 L1221.43 1081.12 L1221.91 1079.67 L1222.38 1077.92 L1222.86 1075.85 L1223.33 1073.50 L1223.81 1070.85 L1224.28 1067.92 L1224.75 1064.73 L1225.23 1061.28 L1225.70 1057.58 L1226.18 1053.65 L1226.65 1049.50 L1227.13 1045.15 L1227.60 1040.60 L1228.08 1035.86 L1228.55 1030.96 L1229.03 1025.90 L1229.50 1020.70 L1229.97 1015.37 L1230.45 1009.92 L1230.92 1004.37 L1231.40 998.72 L1231.87 992.99 L1232.35 987.19 L1232.82 981.33 L1233.30 975.42 L1233.77 969.48 L1234.25 963.50" stroke="#00c800" stroke-width="2.1" fill="none" stroke-linejoin="round"/><path d="M759.63 950.00 L760.11 944.01 L760.58 938.05 L761.06 932.11 L761.53 926.21 L762.01 920.37 L762.48 914.59 L762.96 908.87 L763.43 903.25 L763.90 897.71 L764.38 892.29 L764.85 886.98 L765.33 881.79 L765.80 876.74 L766.28 871.85 L766.75 867.11 L767.23 862.54 L767.70 858.15 L768.18 853.95 L768.65 849.95 L769.13 846.15 L769.60 842.58 L770.07 839.23 L770.55 836.12 L771.02 833.25 L771.50 830.63 L771.97 828.27 L772.45 826.17 L772.92 824.33 L773.40 822.77 L773.87 821.48 L774.35 820.46 L774.82 821.32 L775.30 822.58 L775.77 824.12 L776.24 825.93 L776.72 828.03 L777.19 830.40 L777.67 833.04 L778.14 835.94 L778.62 839.11 L779.09 842.52 L779.57 846.19 L780.04 850.09 L780.52 854.22 L780.99 858.57 L781.47 863.13 L781.94 867.90 L782.41 872.85 L782.89 877.97 L783.36 883.27 L783.84 888.72 L784.31 894.31 L784.79 900.03 L785.26 905.86 L785.74 911.80 L786.21 917.84 L786.69 923.95 L787.16 930.12 L787.64 936.34 L788.11 942.61 L788.58 948.90 L789.06 955.20 L789.53 961.50 L790.01 967.78 L790.48 974.05 L790.96 980.27 L791.43 986.45 L791.91 992.56 L792.38 998.61 L792.86 1004.56 L793.33 1010.41 L793.81 1016.15 L794.28 1021.77 L794.75 1027.23 L795.23 1032.54 L795.70 1037.68 L796.18 1042.63 L796.65 1047.38 L797.13 1051.91 L797.60 1056.20 L798.08 1060.25 L798.55 1064.04 L799.03 1067.56 L799.50 1070.78 L799.98 1073.71 L800.45 1076.34 L800.92 1078.64 L801.40 1080.62 L801.87 1082.26 L802.35 1083.57 L802.82 1084.54 L803.30 1085.17 L803.77 1085.32 L804.25 1084.84 L804.72 1084.03 L805.20 1082.87 L805.67 1081.38 L806.15 1079.58 L806.62 1077.45 L807.09 1075.02 L807.57 1072.29 L808.04 1069.28 L808.52 1066.00 L808.99 1062.45 L809.47 1058.66 L809.94 1054.64 L810.42 1050.39 L810.89 1045.94 L811.37 1041.30 L811.84 1036.49 L812.32 1031.51 L812.79 1026.38 L813.26 1021.12 L813.74 1015.73 L814.21 1010.23 L814.69 1004.64 L815.16 998.96 L815.64 993.20 L816.11 987.38 L816.59 981.51 L817.06 975.59 L817.54 969.64 L818.01 963.67 L818.49 957.68 L818.96 951.68 L819.43 945.70 L819.91 939.73 L820.38 933.78 L820.86 927.88 L821.33 922.02 L821.81 916.23 L822.28 910.51 L822.76 904.87 L823.23 899.33 L823.71 893.90 L824.18 888.58 L824.66 883.38 L825.13 878.33 L825.60 873.42 L826.08 868.67 L826.55 864.09 L827.03 859.70 L827.50 855.48 L827.98 851.47 L828.45 847.66 L828.93 844.07 L829.40 840.70 L829.88 837.57 L830.35 834.67 L830.83 832.01 L831.30 829.61 L831.77 827.46 L832.25 825.58 L832.72 823.95 L833.20 822.60 L833.67 821.52 L834.15 821.81 L834.62 822.98 L835.10 824.42 L835.57 826.14 L836.05 828.13 L836.52 830.39 L837.00 832.92 L837.47 835.71 L837.94 838.76 L838.42 842.07 L838.89 845.62 L839.37 849.41 L839.84 853.43 L840.32 857.67 L840.79 862.13 L841.27 866.80 L841.74 871.66 L842.22 876.70 L842.69 881.91 L843.16 887.29 L843.64 892.81 L844.11 898.47 L844.59 904.26 L845.06 910.16 L845.54 916.15 L846.01 922.23 L846.49 928.38 L846.96 934.59 L847.44 940.84 L847.91 947.12 L848.39 953.42 L848.86 959.72 L849.33 966.01 L849.81 972.28 L850.28 978.52 L850.76 984.71 L851.23 990.85 L851.71 996.91 L852.18 1002.89 L852.66 1008.77 L853.13 1014.55 L853.61 1020.20 L854.08 1025.71 L854.56 1031.06 L855.03 1036.25 L855.50 1041.26 L855.98 1046.06 L856.45 1050.65 L856.93 1055.02 L857.40 1059.14 L857.88 1063.00 L858.35 1066.59 L858.83 1069.90 L859.30 1072.92 L859.78 1075.63 L860.25 1078.02 L860.73 1080.09 L861.20 1081.83 L861.67 1083.24 L862.15 1084.30 L862.62 1085.02 L863.10 1085.40 L863.57 1085.01 L864.05 1084.29 L864.52 1083.23 L865.00 1081.84 L865.47 1080.12 L865.95 1078.08 L866.42 1075.74 L866.90 1073.09 L867.37 1070.16 L867.84 1066.95 L868.32 1063.48 L868.79 1059.75 L869.27 1055.79 L869.74 1051.61 L870.22 1047.22 L870.69 1042.63 L871.17 1037.86 L871.64 1032.93 L872.12 1027.84 L872.59 1022.61 L873.07 1017.26 L873.54 1011.79 L874.01 1006.22 L874.49 1000.56 L874.96 994.83 L875.44 989.03 L875.91 983.17 L876.39 977.26 L876.86 971.32 L877.34 965.35 L877.81 959.37 L878.29 953.37 L878.76 947.38 L879.24 941.41 L879.71 935.45 L880.18 929.54 L880.66 923.67 L881.13 917.86 L881.61 912.12 L882.08 906.45 L882.56 900.88 L883.03 895.42 L883.51 890.06 L883.98 884.83 L884.46 879.74 L884.93 874.79 L885.41 870.00 L885.88 865.37 L886.35 860.92 L886.83 856.65 L887.30 852.58 L887.78 848.72 L888.25 845.06 L888.73 841.63 L889.20 838.43 L889.68 835.46 L890.15 832.74 L890.63 830.26 L891.10 828.04 L891.58 826.08 L892.05 824.38 L892.52 822.95 L893.00 821.79 L893.47 821.53 L893.95 822.62 L894.42 823.99 L894.90 825.63 L895.37 827.54 L895.85 829.73 L896.32 832.18 L896.80 834.90 L897.27 837.88 L897.75 841.11 L898.22 844.59 L898.69 848.32 L899.17 852.27 L899.64 856.46 L900.12 860.86 L900.59 865.46 L901.07 870.27 L901.54 875.26 L902.02 880.43 L902.49 885.76 L902.97 891.24 L903.44 896.87 L903.92 902.62 L904.39 908.48 L904.86 914.45 L905.34 920.51 L905.81 926.64 L906.29 932.83 L906.76 939.07 L907.24 945.35 L907.71 951.65 L908.19 957.95 L908.66 964.24 L909.14 970.52 L909.61 976.77 L910.09 982.98 L910.56 989.14 L911.03 995.24 L911.51 1001.26 L911.98 1007.20 L912.46 1013.03 L912.93 1018.74 L913.41 1024.32 L913.88 1029.76 L914.36 1035.04 L914.83 1040.14 L915.31 1045.05 L915.78 1049.76 L916.26 1054.24 L916.73 1058.48 L917.20 1062.47 L917.68 1066.19 L918.15 1069.63 L918.63 1072.78 L919.10 1075.62 L919.58 1078.15 L920.05 1080.35 L920.53 1082.21 L921.00 1083.74 L921.48 1084.92 L921.95 1085.75 L922.43 1086.23 L922.90 1086.05 L923.37 1085.42 L923.85 1084.43 L924.32 1083.11 L924.80 1081.46 L925.27 1079.48 L925.75 1077.18 L926.22 1074.58 L926.70 1071.68 L927.17 1068.50 L927.65 1065.05 L928.12 1061.35 L928.60 1057.40 L929.07 1053.23 L929.54 1048.84 L930.02 1044.26 L930.49 1039.50 L930.97 1034.57 L931.44 1029.48 L931.92 1024.25 L932.39 1018.90 L932.87 1013.44 L933.34 1007.87 L933.82 1002.22 L934.29 996.49 L934.77 990.69 L935.24 984.84 L935.71 978.94 L936.19 973.00 L936.66 967.04 L937.14 961.05 L937.61 955.06 L938.09 949.07 L938.56 943.09 L939.04 937.13 L939.51 931.20 L939.99 925.32 L940.46 919.49 L940.94 913.73 L941.41 908.04 L941.88 902.44 L942.36 896.95 L942.83 891.56 L943.31 886.29 L943.78 881.16 L944.26 876.17 L944.73 871.33 L945.21 866.65 L945.68 862.15 L946.16 857.83 L946.63 853.71 L947.11 849.78 L947.58 846.07 L948.05 842.57 L948.53 839.31 L949.00 836.27 L949.48 833.48 L949.95 830.93 L950.43 828.64 L950.90 826.61 L951.38 824.84 L951.85 823.33 L952.33 822.09 L952.80 821.27 L953.28 822.29 L953.75 823.57 L954.22 825.14 L954.70 826.97 L955.17 829.08 L955.65 831.46 L956.12 834.11 L956.60 837.01 L957.07 840.17 L957.55 843.59 L958.02 847.24 L958.50 851.13 L958.97 855.25 L959.45 859.59 L959.92 864.14 L960.39 868.89 L960.87 873.83 L961.34 878.95 L961.82 884.24 L962.29 889.68 L962.77 895.27 L963.24 900.98 L963.72 906.82 L964.19 912.76 L964.67 918.79 L965.14 924.90 L965.62 931.08 L966.09 937.31 L966.56 943.58 L967.04 949.87 L967.51 956.17 L967.99 962.47 L968.46 968.75 L968.94 975.01 L969.41 981.23 L969.89 987.40 L970.36 993.50 L970.84 999.53 L971.31 1005.47 L971.79 1011.31 L972.26 1017.03 L972.73 1022.62 L973.21 1028.06 L973.68 1033.35 L974.16 1038.46 L974.63 1043.38 L975.11 1048.09 L975.58 1052.59 L976.06 1056.85 L976.53 1060.86 L977.01 1064.60 L977.48 1068.07 L977.96 1071.26 L978.43 1074.14 L978.90 1076.71 L979.38 1078.97 L979.85 1080.89 L980.33 1082.49 L980.80 1083.74 L981.28 1084.66 L981.75 1085.23 L982.23 1085.27 L982.70 1084.74 L983.18 1083.87 L983.65 1082.66 L984.13 1081.13 L984.60 1079.27 L985.07 1077.10 L985.55 1074.62 L986.02 1071.85 L986.50 1068.79 L986.97 1065.47 L987.45 1061.88 L987.92 1058.05 L988.40 1054.00 L988.87 1049.72 L989.35 1045.24 L989.82 1040.57 L990.30 1035.73 L990.77 1030.73 L991.24 1025.58 L991.72 1020.29 L992.19 1014.89 L992.67 1009.37 L993.14 1003.77 L993.62 998.07 L994.09 992.30 L994.57 986.48 L995.04 980.59 L995.52 974.67 L995.99 968.72 L996.47 962.74 L996.94 956.75 L997.41 950.76 L997.89 944.77 L998.36 938.81 L998.84 932.87 L999.31 926.97 L999.79 921.13 L1000.26 915.34 L1000.74 909.64 L1001.21 904.01 L1001.69 898.49 L1002.16 893.07 L1002.64 887.77 L1003.11 882.59 L1003.58 877.56 L1004.06 872.68 L1004.53 867.96 L1005.01 863.40 L1005.48 859.03 L1005.96 854.85 L1006.43 850.87 L1006.91 847.09 L1007.38 843.54 L1007.86 840.20 L1008.33 837.10 L1008.81 834.24 L1009.28 831.63 L1009.75 829.26 L1010.23 827.15 L1010.70 825.31 L1011.18 823.73 L1011.65 822.41 L1012.13 821.37 L1012.60 821.97 L1013.08 823.18 L1013.55 824.67 L1014.03 826.43 L1014.50 828.46 L1014.98 830.76 L1015.45 833.33 L1015.92 836.17 L1016.40 839.26 L1016.87 842.60 L1017.35 846.19 L1017.82 850.01 L1018.30 854.07 L1018.77 858.35 L1019.25 862.84 L1019.72 867.54 L1020.20 872.42 L1020.67 877.49 L1021.15 882.73 L1021.62 888.13 L1022.09 893.68 L1022.57 899.36 L1023.04 905.16 L1023.52 911.08 L1023.99 917.08 L1024.47 923.17 L1024.94 929.34 L1025.42 935.55 L1025.89 941.81 L1026.37 948.09 L1026.84 954.39 L1027.32 960.69 L1027.79 966.98 L1028.26 973.25 L1028.74 979.48 L1029.21 985.66 L1029.69 991.79 L1030.16 997.84 L1030.64 1003.81 L1031.11 1009.67 L1031.59 1015.43 L1032.06 1021.06 L1032.54 1026.54 L1033.01 1031.88 L1033.48 1037.04 L1033.96 1042.01 L1034.43 1046.79 L1034.91 1051.34 L1035.38 1055.67 L1035.86 1059.75 L1036.33 1063.57 L1036.81 1067.12 L1037.28 1070.39 L1037.76 1073.36 L1038.23 1076.02 L1038.71 1078.36 L1039.18 1080.38 L1039.65 1082.07 L1040.13 1083.43 L1040.60 1084.44 L1041.08 1085.10 L1041.55 1085.36 L1042.03 1084.92 L1042.50 1084.15 L1042.98 1083.04 L1043.45 1081.59 L1043.93 1079.82 L1044.40 1077.74 L1044.88 1075.35 L1045.35 1072.66 L1045.82 1069.68 L1046.30 1066.43 L1046.77 1062.92 L1047.25 1059.16 L1047.72 1055.16 L1048.20 1050.95 L1048.67 1046.52 L1049.15 1041.91 L1049.62 1037.11 L1050.10 1032.15 L1050.57 1027.04 L1051.05 1021.79 L1051.52 1016.42 L1051.99 1010.94 L1052.47 1005.36 L1052.94 999.68 L1053.42 993.94 L1053.89 988.12 L1054.37 982.26 L1054.84 976.35 L1055.32 970.40 L1055.79 964.43 L1056.27 958.44 L1056.74 952.45 L1057.22 946.46 L1057.69 940.49 L1058.16 934.54 L1058.64 928.63 L1059.11 922.77 L1059.59 916.97 L1060.06 911.24 L1060.54 905.59 L1061.01 900.03 L1061.49 894.58 L1061.96 889.25 L1062.44 884.04 L1062.91 878.96 L1063.39 874.04 L1063.86 869.27 L1064.33 864.67 L1064.81 860.25 L1065.28 856.01 L1065.76 851.97 L1066.23 848.14 L1066.71 844.52 L1067.18 841.12 L1067.66 837.95 L1068.13 835.02 L1068.61 832.34 L1069.08 829.90 L1069.56 827.72 L1070.03 825.80 L1070.50 824.15 L1070.98 822.76 L1071.45 821.64 L1071.93 821.68 L1072.40 822.81 L1072.88 824.22 L1073.35 825.90 L1073.83 827.86 L1074.30 830.09 L1074.78 832.58 L1075.25 835.34 L1075.73 838.36 L1076.20 841.63 L1076.67 845.15 L1077.15 848.91 L1077.62 852.90 L1078.10 857.12 L1078.57 861.55 L1079.05 866.19 L1079.52 871.03 L1080.00 876.05 L1080.47 881.24 L1080.95 886.59 L1081.42 892.10 L1081.90 897.74 L1082.37 903.52 L1082.84 909.40 L1083.32 915.38 L1083.79 921.45 L1084.27 927.59 L1084.74 933.79 L1085.22 940.04 L1085.69 946.32 L1086.17 952.62 L1086.64 958.92 L1087.12 965.21 L1087.59 971.49 L1088.07 977.73 L1088.54 983.94 L1089.01 990.09 L1089.49 996.18 L1089.96 1002.18 L1090.44 1008.10 L1090.91 1013.92 L1091.39 1019.61 L1091.86 1025.17 L1092.34 1030.59 L1092.81 1035.84 L1093.29 1040.91 L1093.76 1045.79 L1094.24 1050.46 L1094.71 1054.91 L1095.18 1059.11 L1095.66 1063.06 L1096.13 1066.74 L1096.61 1070.14 L1097.08 1073.24 L1097.56 1076.03 L1098.03 1078.51 L1098.51 1080.66 L1098.98 1082.47 L1099.46 1083.94 L1099.93 1085.07 L1100.41 1085.85 L1100.88 1086.27 L1101.35 1085.98 L1101.83 1085.29 L1102.30 1084.25 L1102.78 1082.88 L1103.25 1081.17 L1103.73 1079.14 L1104.20 1076.80 L1104.68 1074.15 L1105.15 1071.21 L1105.63 1067.98 L1106.10 1064.49 L1106.58 1060.75 L1107.05 1056.77 L1107.52 1052.56 L1108.00 1048.15 L1108.47 1043.54 L1108.95 1038.75 L1109.42 1033.79 L1109.90 1028.68 L1110.37 1023.44 L1110.85 1018.07 L1111.32 1012.59 L1111.80 1007.01 L1112.27 1001.34 L1112.75 995.60 L1113.22 989.79 L1113.69 983.93 L1114.17 978.02 L1114.64 972.08 L1115.12 966.11 L1115.59 960.13 L1116.07 954.14 L1116.54 948.15 L1117.02 942.17 L1117.49 936.21 L1117.97 930.29 L1118.44 924.41 L1118.92 918.59 L1119.39 912.84 L1119.86 907.17 L1120.34 901.59 L1120.81 896.11 L1121.29 890.74 L1121.76 885.49 L1122.24 880.38 L1122.71 875.41 L1123.19 870.60 L1123.66 865.95 L1124.14 861.47 L1124.61 857.18 L1125.09 853.09 L1125.56 849.20 L1126.03 845.52 L1126.51 842.06 L1126.98 838.82 L1127.46 835.83 L1127.93 833.07 L1128.41 830.56 L1128.88 828.31 L1129.36 826.32 L1129.83 824.59 L1130.31 823.12 L1130.78 821.93 L1131.26 821.41 L1131.73 822.47 L1132.20 823.80 L1132.68 825.40 L1133.15 827.28 L1133.63 829.43 L1134.10 831.85 L1134.58 834.54 L1135.05 837.48 L1135.53 840.68 L1136.00 844.13 L1136.48 847.83 L1136.95 851.76 L1137.43 855.91 L1137.90 860.28 L1138.37 864.86 L1138.85 869.64 L1139.32 874.61 L1139.80 879.76 L1140.27 885.07 L1140.75 890.53 L1141.22 896.14 L1141.70 901.88 L1142.17 907.73 L1142.65 913.69 L1143.12 919.73 L1143.60 925.85 L1144.07 932.04 L1144.54 938.28 L1145.02 944.55 L1145.49 950.84 L1145.97 957.14 L1146.44 963.44 L1146.92 969.72 L1147.39 975.98 L1147.87 982.21 L1148.34 988.38 L1148.82 994.50 L1149.29 1000.55 L1149.77 1006.52 L1150.24 1012.39 L1150.71 1018.15 L1151.19 1023.79 L1151.66 1029.29 L1152.14 1034.63 L1152.61 1039.81 L1153.09 1044.79 L1153.56 1049.58 L1154.04 1054.15 L1154.51 1058.48 L1154.99 1062.56 L1155.46 1066.38 L1155.94 1069.91 L1156.41 1073.15 L1156.88 1076.08 L1157.36 1078.69 L1157.83 1080.97 L1158.31 1082.92 L1158.78 1084.51 L1159.26 1085.76 L1159.73 1086.65 L1160.21 1087.19 L1160.68 1087.11 L1161.16 1086.51 L1161.63 1085.55 L1162.11 1084.25 L1162.58 1082.60 L1163.05 1080.63 L1163.53 1078.33 L1164.00 1075.72 L1164.48 1072.81 L1164.95 1069.61 L1165.43 1066.14 L1165.90 1062.41 L1166.38 1058.44 L1166.85 1054.24 L1167.33 1049.83 L1167.80 1045.22 L1168.28 1040.42 L1168.75 1035.46 L1169.22 1030.35 L1169.70 1025.11 L1170.17 1019.73 L1170.65 1014.25 L1171.12 1008.67 L1171.60 1003.00 L1172.07 997.26 L1172.55 991.46 L1173.02 985.60 L1173.50 979.70 L1173.97 973.76 L1174.45 967.80 L1174.92 961.82 L1175.39 955.83 L1175.87 949.84 L1176.34 943.85 L1176.82 937.89 L1177.29 931.95 L1177.77 926.06 L1178.24 920.22 L1178.72 914.45 L1179.19 908.75 L1179.67 903.14 L1180.14 897.62 L1180.62 892.22 L1181.09 886.93 L1181.56 881.77 L1182.04 876.75 L1182.51 871.88 L1182.99 867.18 L1183.46 862.64 L1183.94 858.29 L1184.41 854.13 L1184.89 850.16 L1185.36 846.41 L1185.84 842.88 L1186.31 839.57 L1186.79 836.49 L1187.26 833.66 L1187.73 831.07 L1188.21 828.74 L1188.68 826.67 L1189.16 824.86 L1189.63 823.31 L1190.11 822.04 L1190.58 821.04 L1191.06 821.94 L1191.53 823.20 L1192.01 824.73 L1192.48 826.54 L1192.96 828.62 L1193.43 830.97 L1193.90 833.59 L1194.38 836.48 L1194.85 839.62 L1195.33 843.01 L1195.80 846.64 L1196.28 850.52 L1196.75 854.62 L1197.23 858.94 L1197.70 863.48 L1198.18 868.21 L1198.65 873.14 L1199.13 878.25 L1199.60 883.52 L1200.07 888.95 L1200.55 894.52 L1201.02 900.23 L1201.50 906.06 L1201.97 911.99 L1202.45 918.01 L1202.92 924.12 L1203.40 930.29 L1203.87 936.51 L1204.35 942.78 L1204.82 949.07 L1205.30 955.37 L1205.77 961.67 L1206.24 967.95 L1206.72 974.22 L1207.19 980.46 L1207.67 986.65 L1208.14 992.78 L1208.62 998.85 L1209.09 1004.84 L1209.57 1010.74 L1210.04 1016.54 L1210.52 1022.21 L1210.99 1027.75 L1211.47 1033.14 L1211.94 1038.37 L1212.41 1043.41 L1212.89 1048.25 L1213.36 1052.88 L1213.84 1057.28 L1214.31 1061.44 L1214.79 1065.33 L1215.26 1068.94 L1215.74 1072.27 L1216.21 1075.28 L1216.69 1077.99 L1217.16 1080.36 L1217.64 1082.40 L1218.11 1084.10 L1218.58 1085.45 L1219.06 1086.44 L1219.53 1087.07 L1220.01 1087.21 L1220.48 1086.71 L1220.96 1085.85 L1221.43 1084.65 L1221.91 1083.10 L1222.38 1081.22 L1222.86 1079.01 L1223.33 1076.49 L1223.81 1073.66 L1224.28 1070.54 L1224.75 1067.15 L1225.23 1063.49 L1225.70 1059.58 L1226.18 1055.45 L1226.65 1051.09 L1227.13 1046.53 L1227.60 1041.79 L1228.08 1036.88 L1228.55 1031.81 L1229.03 1026.60 L1229.50 1021.26 L1229.97 1015.81 L1230.45 1010.25 L1230.92 1004.61 L1231.40 998.89 L1231.87 993.10 L1232.35 987.26 L1232.82 981.37 L1233.30 975.44 L1233.77 969.48 L1234.25 963.51" stroke="#c00000" stroke-width="2.1" fill="none" stroke-linejoin="round" stroke-dasharray="12 11.7"/><path d="M759.63 950.00 L760.11 944.02 L760.58 938.07 L761.06 932.16 L761.53 926.32 L762.01 920.56 L762.48 914.88 L762.96 909.32 L763.43 903.87 L763.90 898.56 L764.38 893.40 L764.85 888.39 L765.33 883.54 L765.80 878.87 L766.28 874.39 L766.75 870.09 L767.23 865.99 L767.70 862.09 L768.18 858.39 L768.65 854.90 L769.13 851.62 L769.60 848.55 L770.07 845.70 L770.55 843.05 L771.02 840.63 L771.50 838.41 L771.97 836.42 L772.45 834.63 L772.92 833.07 L773.40 831.71 L773.87 830.58 L774.35 829.66 L774.82 830.44 L775.30 831.55 L775.77 832.88 L776.24 834.44 L776.72 836.21 L777.19 838.22 L777.67 840.44 L778.14 842.90 L778.62 845.59 L779.09 848.50 L779.57 851.65 L780.04 855.02 L780.52 858.63 L780.99 862.46 L781.47 866.52 L781.94 870.80 L782.41 875.30 L782.89 880.01 L783.36 884.92 L783.84 890.02 L784.31 895.31 L784.79 900.78 L785.26 906.40 L785.74 912.17 L786.21 918.07 L786.69 924.08 L787.16 930.19 L787.64 936.37 L788.11 942.62 L788.58 948.90 L789.06 955.20 L789.53 961.50 L790.01 967.78 L790.48 974.03 L790.96 980.23 L791.43 986.37 L791.91 992.43 L792.38 998.40 L792.86 1004.26 L793.33 1010.00 L793.81 1015.60 L794.28 1021.05 L794.75 1026.34 L795.23 1031.44 L795.70 1036.36 L796.18 1041.07 L796.65 1045.57 L797.13 1049.84 L797.60 1053.87 L798.08 1057.65 L798.55 1061.17 L799.03 1064.43 L799.50 1067.40 L799.98 1070.10 L800.45 1072.50 L800.92 1074.61 L801.40 1076.42 L801.87 1077.92 L802.35 1079.12 L802.82 1080.00 L803.30 1080.58 L803.77 1080.73 L804.25 1080.28 L804.72 1079.53 L805.20 1078.47 L805.67 1077.12 L806.15 1075.46 L806.62 1073.52 L807.09 1071.30 L807.57 1068.79 L808.04 1066.02 L808.52 1062.98 L808.99 1059.70 L809.47 1056.16 L809.94 1052.40 L810.42 1048.41 L810.89 1044.21 L811.37 1039.81 L811.84 1035.22 L812.32 1030.45 L812.79 1025.51 L813.26 1020.42 L813.74 1015.18 L814.21 1009.82 L814.69 1004.33 L815.16 998.74 L815.64 993.06 L816.11 987.29 L816.59 981.46 L817.06 975.57 L817.54 969.63 L818.01 963.66 L818.49 957.68 L818.96 951.68 L819.43 945.70 L819.91 939.74 L820.38 933.81 L820.86 927.93 L821.33 922.12 L821.81 916.39 L822.28 910.75 L822.76 905.22 L823.23 899.81 L823.71 894.52 L824.18 889.38 L824.66 884.39 L825.13 879.56 L825.60 874.90 L826.08 870.41 L826.55 866.11 L827.03 862.01 L827.50 858.10 L827.98 854.40 L828.45 850.90 L828.93 847.62 L829.40 844.55 L829.88 841.71 L830.35 839.08 L830.83 836.68 L831.30 834.51 L831.77 832.56 L832.25 830.85 L832.72 829.37 L833.20 828.12 L833.67 827.10 L834.15 827.38 L834.62 828.47 L835.10 829.80 L835.57 831.36 L836.05 833.17 L836.52 835.22 L837.00 837.50 L837.47 840.03 L837.94 842.79 L838.42 845.79 L838.89 849.03 L839.37 852.50 L839.84 856.20 L840.32 860.13 L840.79 864.28 L841.27 868.65 L841.74 873.23 L842.22 878.01 L842.69 882.98 L843.16 888.14 L843.64 893.47 L844.11 898.97 L844.59 904.62 L845.06 910.40 L845.54 916.31 L846.01 922.33 L846.49 928.43 L846.96 934.61 L847.44 940.85 L847.91 947.12 L848.39 953.42 L848.86 959.72 L849.33 966.01 L849.81 972.27 L850.28 978.49 L850.76 984.65 L851.23 990.73 L851.71 996.73 L852.18 1002.62 L852.66 1008.39 L853.13 1014.03 L853.61 1019.53 L854.08 1024.86 L854.56 1030.02 L855.03 1034.99 L855.50 1039.77 L855.98 1044.32 L856.45 1048.66 L856.93 1052.76 L857.40 1056.61 L857.88 1060.21 L858.35 1063.54 L858.83 1066.59 L859.30 1069.37 L859.78 1071.85 L860.25 1074.05 L860.73 1075.94 L861.20 1077.53 L861.67 1078.81 L862.15 1079.78 L862.62 1080.45 L863.10 1080.80 L863.57 1080.44 L864.05 1079.77 L864.52 1078.80 L865.00 1077.53 L865.47 1075.96 L865.95 1074.10 L866.42 1071.95 L866.90 1069.52 L867.37 1066.83 L867.84 1063.86 L868.32 1060.65 L868.79 1057.18 L869.27 1053.48 L869.74 1049.56 L870.22 1045.42 L870.69 1041.07 L871.17 1036.53 L871.64 1031.81 L872.12 1026.92 L872.59 1021.87 L873.07 1016.67 L873.54 1011.34 L874.01 1005.89 L874.49 1000.33 L874.96 994.67 L875.44 988.93 L875.91 983.11 L876.39 977.23 L876.86 971.31 L877.34 965.35 L877.81 959.37 L878.29 953.37 L878.76 947.39 L879.24 941.42 L879.71 935.48 L880.18 929.60 L880.66 923.78 L881.13 918.05 L881.61 912.41 L882.08 906.88 L882.56 901.47 L883.03 896.20 L883.51 891.07 L883.98 886.10 L884.46 881.30 L884.93 876.67 L885.41 872.22 L885.88 867.96 L886.35 863.90 L886.83 860.04 L887.30 856.38 L887.78 852.94 L888.25 849.70 L888.73 846.67 L889.20 843.86 L889.68 841.27 L890.15 838.90 L890.63 836.74 L891.10 834.80 L891.58 833.08 L892.05 831.59 L892.52 830.31 L893.00 829.25 L893.47 829.01 L893.95 830.01 L894.42 831.23 L894.90 832.68 L895.37 834.36 L895.85 836.27 L896.32 838.41 L896.80 840.78 L897.27 843.38 L897.75 846.22 L898.22 849.28 L898.69 852.58 L899.17 856.11 L899.64 859.87 L900.12 863.85 L900.59 868.05 L901.07 872.47 L901.54 877.11 L902.02 881.94 L902.49 886.98 L902.97 892.20 L903.44 897.59 L903.92 903.15 L904.39 908.86 L904.86 914.70 L905.34 920.66 L905.81 926.72 L906.29 932.87 L906.76 939.09 L907.24 945.35 L907.71 951.65 L908.19 957.95 L908.66 964.24 L909.14 970.51 L909.61 976.74 L910.09 982.92 L910.56 989.02 L911.03 995.05 L911.51 1000.97 L911.98 1006.78 L912.46 1012.46 L912.93 1018.00 L913.41 1023.38 L913.88 1028.59 L914.36 1033.61 L914.83 1038.44 L915.31 1043.06 L915.78 1047.46 L916.26 1051.63 L916.73 1055.55 L917.20 1059.22 L917.68 1062.62 L918.15 1065.76 L918.63 1068.61 L919.10 1071.18 L919.58 1073.46 L920.05 1075.44 L920.53 1077.11 L921.00 1078.48 L921.48 1079.54 L921.95 1080.29 L922.43 1080.73 L922.90 1080.57 L923.37 1079.99 L923.85 1079.11 L924.32 1077.92 L924.80 1076.43 L925.27 1074.65 L925.75 1072.59 L926.22 1070.24 L926.70 1067.61 L927.17 1064.73 L927.65 1061.58 L928.12 1058.18 L928.60 1054.55 L929.07 1050.69 L929.54 1046.61 L930.02 1042.32 L930.49 1037.83 L930.97 1033.16 L931.44 1028.32 L931.92 1023.31 L932.39 1018.15 L932.87 1012.86 L933.34 1007.44 L933.82 1001.91 L934.29 996.27 L934.77 990.55 L935.24 984.75 L935.71 978.89 L936.19 972.98 L936.66 967.03 L937.14 961.05 L937.61 955.06 L938.09 949.07 L938.56 943.09 L939.04 937.15 L939.51 931.24 L939.99 925.40 L940.46 919.63 L940.94 913.95 L941.41 908.38 L941.88 902.92 L942.36 897.58 L942.83 892.39 L943.31 887.34 L943.78 882.46 L944.26 877.74 L944.73 873.20 L945.21 868.85 L945.68 864.68 L946.16 860.72 L946.63 856.95 L947.11 853.39 L947.58 850.05 L948.05 846.91 L948.53 843.99 L949.00 841.30 L949.48 838.82 L949.95 836.56 L950.43 834.52 L950.90 832.71 L951.38 831.13 L951.85 829.77 L952.33 828.64 L952.80 827.87 L953.28 828.81 L953.75 829.99 L954.22 831.40 L954.70 833.04 L955.17 834.92 L955.65 837.03 L956.12 839.37 L956.60 841.95 L957.07 844.77 L957.55 847.82 L958.02 851.10 L958.50 854.62 L958.97 858.36 L959.45 862.33 L959.92 866.52 L960.39 870.93 L960.87 875.55 L961.34 880.37 L961.82 885.38 L962.29 890.58 L962.77 895.96 L963.24 901.50 L963.72 907.18 L964.19 913.00 L964.67 918.95 L965.14 924.99 L965.62 931.13 L966.09 937.33 L966.56 943.58 L967.04 949.87 L967.51 956.17 L967.99 962.47 L968.46 968.75 L968.94 974.99 L969.41 981.18 L969.89 987.31 L970.36 993.36 L970.84 999.31 L971.31 1005.15 L971.79 1010.87 L972.26 1016.45 L972.73 1021.88 L973.21 1027.14 L973.68 1032.22 L974.16 1037.10 L974.63 1041.78 L975.11 1046.24 L975.58 1050.48 L976.06 1054.47 L976.53 1058.21 L977.01 1061.69 L977.48 1064.90 L977.96 1067.84 L978.43 1070.49 L978.90 1072.85 L979.38 1074.91 L979.85 1076.67 L980.33 1078.12 L980.80 1079.27 L981.28 1080.11 L981.75 1080.64 L982.23 1080.68 L982.70 1080.19 L983.18 1079.39 L983.65 1078.28 L984.13 1076.88 L984.60 1075.18 L985.07 1073.20 L985.55 1070.93 L986.02 1068.38 L986.50 1065.57 L986.97 1062.49 L987.45 1059.17 L987.92 1055.60 L988.40 1051.80 L988.87 1047.78 L989.35 1043.55 L989.82 1039.12 L990.30 1034.50 L990.77 1029.70 L991.24 1024.74 L991.72 1019.62 L992.19 1014.36 L992.67 1008.98 L993.14 1003.48 L993.62 997.87 L994.09 992.17 L994.57 986.40 L995.04 980.55 L995.52 974.65 L995.99 968.71 L996.47 962.74 L996.94 956.75 L997.41 950.76 L997.89 944.78 L998.36 938.82 L998.84 932.90 L999.31 927.04 L999.79 921.25 L1000.26 915.55 L1000.74 909.94 L1001.21 904.44 L1001.69 899.07 L1002.16 893.84 L1002.64 888.75 L1003.11 883.82 L1003.58 879.05 L1004.06 874.46 L1004.53 870.05 L1005.01 865.84 L1005.48 861.81 L1005.96 857.99 L1006.43 854.38 L1006.91 850.97 L1007.38 847.77 L1007.86 844.80 L1008.33 842.03 L1008.81 839.49 L1009.28 837.17 L1009.75 835.07 L1010.23 833.20 L1010.70 831.55 L1011.18 830.13 L1011.65 828.93 L1012.13 827.96 L1012.60 828.52 L1013.08 829.64 L1013.55 830.98 L1014.03 832.55 L1014.50 834.36 L1014.98 836.41 L1015.45 838.69 L1015.92 841.20 L1016.40 843.95 L1016.87 846.94 L1017.35 850.15 L1017.82 853.60 L1018.30 857.28 L1018.77 861.19 L1019.25 865.32 L1019.72 869.66 L1020.20 874.22 L1020.67 878.99 L1021.15 883.95 L1021.62 889.10 L1022.09 894.43 L1022.57 899.92 L1023.04 905.57 L1023.52 911.35 L1023.99 917.26 L1024.47 923.28 L1024.94 929.39 L1025.42 935.57 L1025.89 941.82 L1026.37 948.10 L1026.84 954.39 L1027.32 960.69 L1027.79 966.98 L1028.26 973.23 L1028.74 979.44 L1029.21 985.59 L1029.69 991.66 L1030.16 997.64 L1030.64 1003.52 L1031.11 1009.27 L1031.59 1014.89 L1032.06 1020.36 L1032.54 1025.67 L1033.01 1030.80 L1033.48 1035.74 L1033.96 1040.48 L1034.43 1045.01 L1034.91 1049.31 L1035.38 1053.37 L1035.86 1057.18 L1036.33 1060.74 L1036.81 1064.03 L1037.28 1067.04 L1037.76 1069.77 L1038.23 1072.21 L1038.71 1074.36 L1039.18 1076.20 L1039.65 1077.75 L1040.13 1078.98 L1040.60 1079.91 L1041.08 1080.52 L1041.55 1080.76 L1042.03 1080.36 L1042.50 1079.64 L1042.98 1078.62 L1043.45 1077.31 L1043.93 1075.69 L1044.40 1073.79 L1044.88 1071.59 L1045.35 1069.13 L1045.82 1066.39 L1046.30 1063.38 L1046.77 1060.13 L1047.25 1056.63 L1047.72 1052.89 L1048.20 1048.93 L1048.67 1044.76 L1049.15 1040.38 L1049.62 1035.82 L1050.10 1031.07 L1050.57 1026.15 L1051.05 1021.08 L1051.52 1015.86 L1051.99 1010.51 L1052.47 1005.04 L1052.94 999.46 L1053.42 993.79 L1053.89 988.03 L1054.37 982.20 L1054.84 976.32 L1055.32 970.39 L1055.79 964.43 L1056.27 958.44 L1056.74 952.45 L1057.22 946.46 L1057.69 940.50 L1058.16 934.57 L1058.64 928.69 L1059.11 922.88 L1059.59 917.14 L1060.06 911.51 L1060.54 905.98 L1061.01 900.57 L1061.49 895.30 L1061.96 890.17 L1062.44 885.19 L1062.91 880.38 L1063.39 875.74 L1063.86 871.28 L1064.33 867.01 L1064.81 862.93 L1065.28 859.05 L1065.76 855.37 L1066.23 851.91 L1066.71 848.65 L1067.18 845.61 L1067.66 842.79 L1068.13 840.19 L1068.61 837.80 L1069.08 835.64 L1069.56 833.71 L1070.03 831.99 L1070.50 830.51 L1070.98 829.25 L1071.45 828.21 L1071.93 828.25 L1072.40 829.30 L1072.88 830.58 L1073.35 832.09 L1073.83 833.83 L1074.30 835.81 L1074.78 838.02 L1075.25 840.47 L1075.73 843.15 L1076.20 846.07 L1076.67 849.22 L1077.15 852.61 L1077.62 856.22 L1078.10 860.06 L1078.57 864.13 L1079.05 868.42 L1079.52 872.92 L1080.00 877.62 L1080.47 882.53 L1080.95 887.63 L1081.42 892.91 L1081.90 898.35 L1082.37 903.96 L1082.84 909.71 L1083.32 915.58 L1083.79 921.57 L1084.27 927.66 L1084.74 933.82 L1085.22 940.05 L1085.69 946.32 L1086.17 952.62 L1086.64 958.92 L1087.12 965.21 L1087.59 971.47 L1088.07 977.69 L1088.54 983.85 L1089.01 989.93 L1089.49 995.93 L1089.96 1001.82 L1090.44 1007.58 L1090.91 1013.21 L1091.39 1018.70 L1091.86 1024.01 L1092.34 1029.15 L1092.81 1034.10 L1093.29 1038.85 L1093.76 1043.38 L1094.24 1047.69 L1094.71 1051.76 L1095.18 1055.59 L1095.66 1059.16 L1096.13 1062.47 L1096.61 1065.50 L1097.08 1068.26 L1097.56 1070.74 L1098.03 1072.92 L1098.51 1074.81 L1098.98 1076.41 L1099.46 1077.70 L1099.93 1078.70 L1100.41 1079.39 L1100.88 1079.77 L1101.35 1079.51 L1101.83 1078.89 L1102.30 1077.98 L1102.78 1076.77 L1103.25 1075.27 L1103.73 1073.48 L1104.20 1071.41 L1104.68 1069.07 L1105.15 1066.45 L1105.63 1063.58 L1106.10 1060.45 L1106.58 1057.07 L1107.05 1053.46 L1107.52 1049.62 L1108.00 1045.56 L1108.47 1041.29 L1108.95 1036.83 L1109.42 1032.18 L1109.90 1027.35 L1110.37 1022.36 L1110.85 1017.21 L1111.32 1011.93 L1111.80 1006.52 L1112.27 1000.99 L1112.75 995.36 L1113.22 989.64 L1113.69 983.84 L1114.17 977.98 L1114.64 972.06 L1115.12 966.11 L1115.59 960.13 L1116.07 954.14 L1116.54 948.15 L1117.02 942.18 L1117.49 936.24 L1117.97 930.34 L1118.44 924.52 L1118.92 918.77 L1119.39 913.12 L1119.86 907.58 L1120.34 902.15 L1120.81 896.86 L1121.29 891.72 L1121.76 886.73 L1122.24 881.90 L1122.71 877.25 L1123.19 872.78 L1123.66 868.50 L1124.14 864.41 L1124.61 860.52 L1125.09 856.84 L1125.56 853.36 L1126.03 850.10 L1126.51 847.05 L1126.98 844.21 L1127.46 841.59 L1127.93 839.19 L1128.41 837.00 L1128.88 835.04 L1129.36 833.29 L1129.83 831.77 L1130.31 830.46 L1130.78 829.38 L1131.26 828.90 L1131.73 829.87 L1132.20 831.06 L1132.68 832.49 L1133.15 834.14 L1133.63 836.02 L1134.10 838.13 L1134.58 840.47 L1135.05 843.04 L1135.53 845.84 L1136.00 848.88 L1136.48 852.15 L1136.95 855.65 L1137.43 859.37 L1137.90 863.33 L1138.37 867.50 L1138.85 871.90 L1139.32 876.50 L1139.80 881.32 L1140.27 886.32 L1140.75 891.52 L1141.22 896.89 L1141.70 902.43 L1142.17 908.12 L1142.65 913.95 L1143.12 919.89 L1143.60 925.94 L1144.07 932.08 L1144.54 938.29 L1145.02 944.55 L1145.49 950.84 L1145.97 957.14 L1146.44 963.44 L1146.92 969.71 L1147.39 975.94 L1147.87 982.11 L1148.34 988.21 L1148.82 994.22 L1149.29 1000.13 L1149.77 1005.91 L1150.24 1011.56 L1150.71 1017.06 L1151.19 1022.40 L1151.66 1027.56 L1152.14 1032.53 L1152.61 1037.29 L1153.09 1041.85 L1153.56 1046.17 L1154.04 1050.27 L1154.51 1054.12 L1154.99 1057.71 L1155.46 1061.05 L1155.94 1064.12 L1156.41 1066.91 L1156.88 1069.43 L1157.36 1071.66 L1157.83 1073.60 L1158.31 1075.25 L1158.78 1076.61 L1159.26 1077.67 L1159.73 1078.43 L1160.21 1078.90 L1160.68 1078.83 L1161.16 1078.30 L1161.63 1077.49 L1162.11 1076.38 L1162.58 1074.99 L1163.05 1073.31 L1163.53 1071.35 L1164.00 1069.12 L1164.48 1066.62 L1164.95 1063.86 L1165.43 1060.85 L1165.90 1057.58 L1166.38 1054.08 L1166.85 1050.35 L1167.33 1046.39 L1167.80 1042.23 L1168.28 1037.86 L1168.75 1033.30 L1169.22 1028.55 L1169.70 1023.64 L1170.17 1018.57 L1170.65 1013.35 L1171.12 1007.99 L1171.60 1002.51 L1172.07 996.92 L1172.55 991.24 L1173.02 985.47 L1173.50 979.63 L1173.97 973.73 L1174.45 967.79 L1174.92 961.82 L1175.39 955.83 L1175.87 949.84 L1176.34 943.86 L1176.82 937.90 L1177.29 931.99 L1177.77 926.14 L1178.24 920.36 L1178.72 914.67 L1179.19 909.08 L1179.67 903.61 L1180.14 898.25 L1180.62 893.04 L1181.09 887.98 L1181.56 883.07 L1182.04 878.33 L1182.51 873.77 L1182.99 869.39 L1183.46 865.20 L1183.94 861.21 L1184.41 857.42 L1184.89 853.84 L1185.36 850.46 L1185.84 847.30 L1186.31 844.36 L1186.79 841.63 L1187.26 839.12 L1187.73 836.83 L1188.21 834.77 L1188.68 832.93 L1189.16 831.32 L1189.63 829.93 L1190.11 828.77 L1190.58 827.83 L1191.06 828.68 L1191.53 829.83 L1192.01 831.21 L1192.48 832.82 L1192.96 834.66 L1193.43 836.74 L1193.90 839.06 L1194.38 841.61 L1194.85 844.40 L1195.33 847.42 L1195.80 850.67 L1196.28 854.16 L1196.75 857.87 L1197.23 861.81 L1197.70 865.97 L1198.18 870.35 L1198.65 874.95 L1199.13 879.74 L1199.60 884.73 L1200.07 889.91 L1200.55 895.26 L1201.02 900.78 L1201.50 906.45 L1201.97 912.25 L1202.45 918.18 L1202.92 924.22 L1203.40 930.34 L1203.87 936.53 L1204.35 942.78 L1204.82 949.07 L1205.30 955.37 L1205.77 961.67 L1206.24 967.95 L1206.72 974.20 L1207.19 980.40 L1207.67 986.55 L1208.14 992.62 L1208.62 998.60 L1209.09 1004.48 L1209.57 1010.24 L1210.04 1015.87 L1210.52 1021.35 L1210.99 1026.67 L1211.47 1031.82 L1211.94 1036.78 L1212.41 1041.54 L1212.89 1046.08 L1213.36 1050.40 L1213.84 1054.48 L1214.31 1058.32 L1214.79 1061.89 L1215.26 1065.19 L1215.74 1068.22 L1216.21 1070.95 L1216.69 1073.40 L1217.16 1075.54 L1217.64 1077.38 L1218.11 1078.90 L1218.58 1080.11 L1219.06 1081.01 L1219.53 1081.59 L1220.01 1081.72 L1220.48 1081.26 L1220.96 1080.48 L1221.43 1079.40 L1221.91 1078.00 L1222.38 1076.31 L1222.86 1074.32 L1223.33 1072.04 L1223.81 1069.48 L1224.28 1066.65 L1224.75 1063.55 L1225.23 1060.20 L1225.70 1056.61 L1226.18 1052.78 L1226.65 1048.73 L1227.13 1044.47 L1227.60 1040.01 L1228.08 1035.37 L1228.55 1030.55 L1229.03 1025.57 L1229.50 1020.43 L1229.97 1015.16 L1230.45 1009.76 L1230.92 1004.25 L1231.40 998.64 L1231.87 992.94 L1232.35 987.16 L1232.82 981.31 L1233.30 975.41 L1233.77 969.47 L1234.25 963.50" stroke="#1010fa" stroke-width="2.1" fill="none" stroke-linejoin="round" stroke-dasharray="12 4.7 2.4 4.6"/><path d="M759.5 1166.28H766 M759.5 1158.43H766 M759.5 1142.75H766 M759.5 1134.9H766 M759.5 1127.06H766 M759.5 1119.22H766 M759.5 1103.53H766 M759.5 1095.69H766 M759.5 1087.84H766 M759.5 1080H766 M759.5 1064.31H766 M759.5 1056.47H766 M759.5 1048.62H766 M759.5 1040.78H766 M759.5 1025.09H766 M759.5 1017.25H766 M759.5 1009.41H766 M759.5 1001.56H766 M759.5 985.87H766 M759.5 978.03H766 M759.5 970.19H766 M759.5 962.34H766 M759.5 946.66H766 M759.5 938.81H766 M759.5 930.97H766 M759.5 923.13H766 M759.5 907.44H766 M759.5 899.59H766 M759.5 891.75H766 M759.5 883.91H766 M759.5 868.22H766 M759.5 860.38H766 M759.5 852.53H766 M759.5 844.69H766 M759.5 829H766 M759.5 821.16H766 M759.5 813.31H766 M759.5 805.47H766 M759.5 789.78H766 M759.5 781.94H766 M759.5 774.1H766 M759.5 766.25H766 M759.5 750.57H766 M759.5 742.72H766" stroke="#5a5a5a" stroke-width="1.2" fill="none"/><path d="M759.5 1150.59H765.2 M759.5 1111.37H765.2 M759.5 1072.15H765.2 M759.5 1032.94H765.2 M759.5 993.72H765.2 M759.5 954.5H765.2 M759.5 915.28H765.2 M759.5 876.06H765.2 M759.5 836.85H765.2 M759.5 797.63H765.2 M759.5 758.41H765.2 M773.92 1170.2V1163.7 M803.7 1170.2V1163.7 M833.48 1170.2V1163.7 M863.25 1170.2V1163.7 M893.02 1170.2V1163.7 M922.8 1170.2V1163.7 M952.58 1170.2V1163.7 M982.35 1170.2V1163.7 M1012.12 1170.2V1163.7 M1041.9 1170.2V1163.7 M1071.67 1170.2V1163.7 M1101.45 1170.2V1163.7 M1131.22 1170.2V1163.7 M1161 1170.2V1163.7 M1190.78 1170.2V1163.7 M1220.55 1170.2V1163.7" stroke="#000" stroke-width="2.4" fill="none"/><path d="M759.5 737.8V1170.2H1234.3" stroke="#000" stroke-width="2.5" fill="none" stroke-linejoin="round"/><text transform="translate(752.3 763.51) scale(1 1.06)" font-size="16.6" text-anchor="end" stroke="#000" stroke-width="0.25">0.2</text><text transform="translate(752.3 802.73) scale(1 1.06)" font-size="16.6" text-anchor="end" stroke="#000" stroke-width="0.25">0.16</text><text transform="translate(752.3 841.95) scale(1 1.06)" font-size="16.6" text-anchor="end" stroke="#000" stroke-width="0.25">0.12</text><text transform="translate(752.3 881.16) scale(1 1.06)" font-size="16.6" text-anchor="end" stroke="#000" stroke-width="0.25">0.08</text><text transform="translate(752.3 920.38) scale(1 1.06)" font-size="16.6" text-anchor="end" stroke="#000" stroke-width="0.25">0.04</text><text transform="translate(752.3 959.6) scale(1 1.06)" font-size="16.6" text-anchor="end" stroke="#000" stroke-width="0.25">0</text><text transform="translate(752.3 998.82) scale(1 1.06)" font-size="16.6" text-anchor="end" stroke="#000" stroke-width="0.25">-0.04</text><text transform="translate(752.3 1038.04) scale(1 1.06)" font-size="16.6" text-anchor="end" stroke="#000" stroke-width="0.25">-0.08</text><text transform="translate(752.3 1077.25) scale(1 1.06)" font-size="16.6" text-anchor="end" stroke="#000" stroke-width="0.25">-0.12</text><text transform="translate(752.3 1116.47) scale(1 1.06)" font-size="16.6" text-anchor="end" stroke="#000" stroke-width="0.25">-0.16</text><text transform="translate(752.3 1155.69) scale(1 1.06)" font-size="16.6" text-anchor="end" stroke="#000" stroke-width="0.25">-0.2</text><text transform="translate(803.7 1187.6) scale(1 1.06)" font-size="16.6" text-anchor="middle" stroke="#000" stroke-width="0.25">1</text><text transform="translate(863.25 1187.6) scale(1 1.06)" font-size="16.6" text-anchor="middle" stroke="#000" stroke-width="0.25">2</text><text transform="translate(922.8 1187.6) scale(1 1.06)" font-size="16.6" text-anchor="middle" stroke="#000" stroke-width="0.25">3</text><text transform="translate(982.35 1187.6) scale(1 1.06)" font-size="16.6" text-anchor="middle" stroke="#000" stroke-width="0.25">4</text><text transform="translate(1041.9 1187.6) scale(1 1.06)" font-size="16.6" text-anchor="middle" stroke="#000" stroke-width="0.25">5</text><text transform="translate(1101.45 1187.6) scale(1 1.06)" font-size="16.6" text-anchor="middle" stroke="#000" stroke-width="0.25">6</text><text transform="translate(1161 1187.6) scale(1 1.06)" font-size="16.6" text-anchor="middle" stroke="#000" stroke-width="0.25">7</text><text transform="translate(1220.55 1187.6) scale(1 1.06)" font-size="16.6" text-anchor="middle" stroke="#000" stroke-width="0.25">8</text><text x="997" y="1206.8" font-size="20" font-weight="bold" text-anchor="middle">t/T</text><text transform="translate(708.8 986.6) rotate(-90)" font-size="20" font-weight="bold">F<tspan font-size="11" font-weight="normal" dy="6.3">x</tspan><tspan dy="-6.3" font-weight="normal">/</tspan>ρgD<tspan font-size="12.8" font-weight="normal" dx="1.1" dy="-9.6">3</tspan></text><path d="M1052.6 750H1128.9" stroke="#00c800" stroke-width="2.1"/><path d="M1052.6 770.6H1128.9" stroke="#c00000" stroke-width="2.5" stroke-dasharray="12 11.7"/><path d="M1052.6 791H1128.9" stroke="#1010fa" stroke-width="2.0" stroke-dasharray="11.8 4.4 2.9 4.6"/><text x="1142" y="755.5" font-size="16.6" font-weight="bold">Experiment</text><text x="1142" y="775.7" font-size="16.6" font-weight="bold">CFD</text><text x="1142" y="795.9" font-size="16.6" font-weight="bold">Morison</text><text x="994" y="1304.3" font-size="49.8" font-weight="bold" text-anchor="middle">(d) Case 4</text></g>
</g></svg></body></html>
